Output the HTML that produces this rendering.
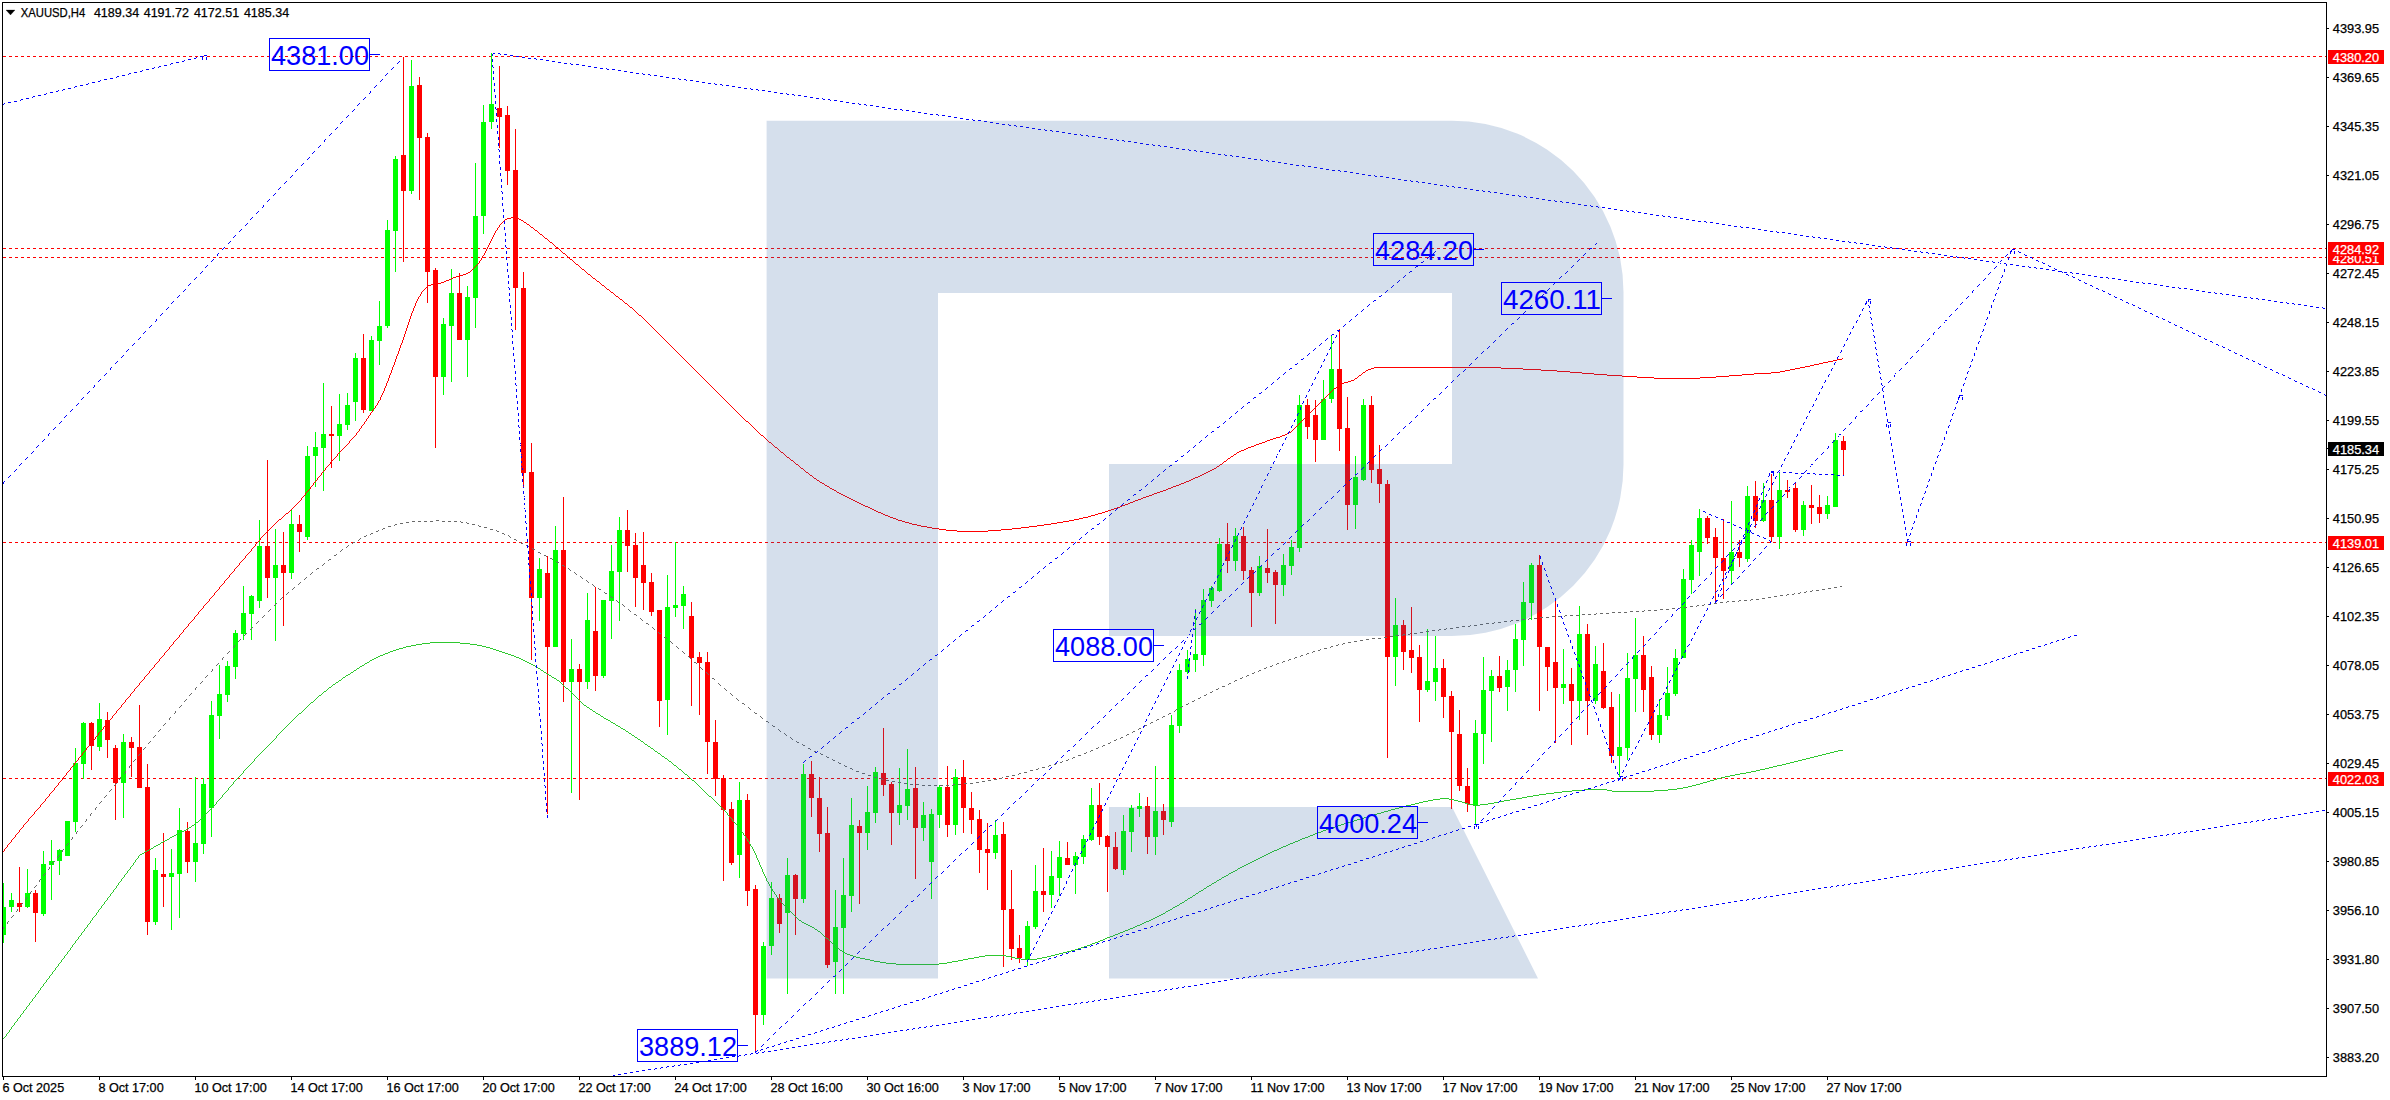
<!DOCTYPE html>
<html lang="en"><head><meta charset="utf-8"><title>XAUUSD,H4</title>
<style>
html,body{margin:0;padding:0;background:#fff;}
body{width:2390px;height:1100px;overflow:hidden;}
svg{display:block;font-family:'Liberation Sans', 'DejaVu Sans', sans-serif;}
</style></head><body>
<svg width="2390" height="1100" viewBox="0 0 2390 1100">
<rect width="2390" height="1100" fill="#ffffff"/>
<defs><clipPath id="cp"><rect x="3" y="3" width="2323" height="1073"/></clipPath></defs>
<g clip-path="url(#cp)" shape-rendering="crispEdges">
<line x1="3" y1="56.5" x2="2326" y2="56.5" stroke="#ff0000" stroke-dasharray="3 3"/>
<line x1="3" y1="248.5" x2="2326" y2="248.5" stroke="#ff0000" stroke-dasharray="3 3"/>
<line x1="3" y1="257.5" x2="2326" y2="257.5" stroke="#ff0000" stroke-dasharray="3 3"/>
<line x1="3" y1="542.5" x2="2326" y2="542.5" stroke="#ff0000" stroke-dasharray="3 3"/>
<line x1="3" y1="778.5" x2="2326" y2="778.5" stroke="#ff0000" stroke-dasharray="3 3"/>
<path fill="#00ff00" d="M3 883h1v60h-1zM1 907h5v28h-5zM11 893h1v19h-1zM9 900h5v7h-5zM27 869h1v39h-1zM25 893h5v14h-5zM43 851h1v65h-1zM41 864h5v50h-5zM51 840h1v60h-1zM49 861h5v4h-5zM59 849h1v26h-1zM57 850h5v11h-5zM67 821h1v35h-1zM65 821h5v35h-5zM75 748h1v84h-1zM73 763h5v59h-5zM83 722h1v57h-1zM81 723h5v41h-5zM99 703h1v48h-1zM97 719h5v28h-5zM123 734h1v84h-1zM121 742h5v41h-5zM155 858h1v67h-1zM153 870h5v52h-5zM171 849h1v81h-1zM169 873h5v4h-5zM179 808h1v110h-1zM177 830h5v44h-5zM195 777h1v105h-1zM193 843h5v19h-5zM203 778h1v76h-1zM201 784h5v60h-5zM211 701h1v136h-1zM209 715h5v93h-5zM219 665h1v74h-1zM217 694h5v22h-5zM227 661h1v41h-1zM225 666h5v29h-5zM235 630h1v49h-1zM233 633h5v34h-5zM243 586h1v54h-1zM241 613h5v21h-5zM251 595h1v45h-1zM249 596h5v18h-5zM259 520h1v88h-1zM257 546h5v55h-5zM275 529h1v112h-1zM273 565h5v13h-5zM291 509h1v70h-1zM289 524h5v49h-5zM307 446h1v94h-1zM305 456h5v81h-5zM315 432h1v55h-1zM313 447h5v9h-5zM323 383h1v108h-1zM321 434h5v14h-5zM339 394h1v67h-1zM337 424h5v12h-5zM347 393h1v37h-1zM345 405h5v20h-5zM355 353h1v68h-1zM353 358h5v44h-5zM371 336h1v75h-1zM369 340h5v71h-5zM379 301h1v64h-1zM377 326h5v15h-5zM387 220h1v108h-1zM385 230h5v96h-5zM395 156h1v116h-1zM393 159h5v72h-5zM411 60h1v134h-1zM409 86h5v105h-5zM443 318h1v77h-1zM441 324h5v53h-5zM451 269h1v113h-1zM449 293h5v33h-5zM467 286h1v91h-1zM465 297h5v43h-5zM475 163h1v165h-1zM473 216h5v82h-5zM483 105h1v129h-1zM481 122h5v94h-5zM491 53h1v76h-1zM489 104h5v18h-5zM539 558h1v63h-1zM537 569h5v29h-5zM555 526h1v121h-1zM553 550h5v97h-5zM571 639h1v154h-1zM569 669h5v13h-5zM587 593h1v96h-1zM585 620h5v62h-5zM603 600h1v78h-1zM601 600h5v76h-5zM611 545h1v94h-1zM609 571h5v30h-5zM619 517h1v104h-1zM617 530h5v42h-5zM667 575h1v160h-1zM665 607h5v93h-5zM675 542h1v75h-1zM673 605h5v3h-5zM683 586h1v43h-1zM681 594h5v12h-5zM739 782h1v96h-1zM737 800h5v55h-5zM763 942h1v83h-1zM761 946h5v69h-5zM771 882h1v73h-1zM769 898h5v48h-5zM787 858h1v136h-1zM785 875h5v38h-5zM803 764h1v139h-1zM801 774h5v125h-5zM835 890h1v104h-1zM833 927h5v35h-5zM843 858h1v136h-1zM841 895h5v33h-5zM851 798h1v114h-1zM849 825h5v71h-5zM867 786h1v64h-1zM865 812h5v21h-5zM875 767h1v56h-1zM873 772h5v41h-5zM899 768h1v57h-1zM897 805h5v8h-5zM907 749h1v71h-1zM905 789h5v17h-5zM923 802h1v39h-1zM921 815h5v13h-5zM931 809h1v90h-1zM929 814h5v48h-5zM939 785h1v43h-1zM937 787h5v28h-5zM955 769h1v66h-1zM953 777h5v48h-5zM995 820h1v39h-1zM993 835h5v18h-5zM1027 921h1v45h-1zM1025 926h5v34h-5zM1035 865h1v64h-1zM1033 891h5v36h-5zM1051 851h1v57h-1zM1049 876h5v19h-5zM1059 841h1v55h-1zM1057 857h5v21h-5zM1075 852h1v42h-1zM1073 856h5v9h-5zM1083 835h1v29h-1zM1081 839h5v18h-5zM1091 788h1v53h-1zM1089 805h5v35h-5zM1123 815h1v60h-1zM1121 831h5v39h-5zM1131 805h1v47h-1zM1129 808h5v24h-5zM1139 793h1v24h-1zM1137 806h5v3h-5zM1155 766h1v89h-1zM1153 811h5v26h-5zM1171 715h1v112h-1zM1169 725h5v97h-5zM1179 664h1v69h-1zM1177 670h5v56h-5zM1187 650h1v24h-1zM1185 659h5v13h-5zM1195 609h1v63h-1zM1193 654h5v6h-5zM1203 589h1v77h-1zM1201 600h5v55h-5zM1211 586h1v21h-1zM1209 588h5v13h-5zM1219 538h1v54h-1zM1217 544h5v47h-5zM1235 528h1v43h-1zM1233 536h5v25h-5zM1259 556h1v40h-1zM1257 566h5v27h-5zM1283 554h1v42h-1zM1281 565h5v20h-5zM1291 540h1v35h-1zM1289 547h5v19h-5zM1299 395h1v157h-1zM1297 405h5v143h-5zM1323 380h1v60h-1zM1321 399h5v41h-5zM1331 336h1v67h-1zM1329 369h5v30h-5zM1355 456h1v73h-1zM1353 477h5v28h-5zM1363 399h1v82h-1zM1361 405h5v75h-5zM1395 598h1v88h-1zM1393 625h5v32h-5zM1427 629h1v63h-1zM1425 681h5v9h-5zM1435 636h1v65h-1zM1433 668h5v14h-5zM1475 720h1v104h-1zM1473 733h5v72h-5zM1483 657h1v107h-1zM1481 690h5v44h-5zM1491 670h1v72h-1zM1489 676h5v15h-5zM1507 660h1v51h-1zM1505 670h5v17h-5zM1515 624h1v68h-1zM1513 639h5v31h-5zM1523 582h1v84h-1zM1521 602h5v38h-5zM1531 563h1v57h-1zM1529 565h5v38h-5zM1563 649h1v55h-1zM1561 684h5v4h-5zM1579 606h1v114h-1zM1577 634h5v67h-5zM1595 646h1v58h-1zM1593 664h5v37h-5zM1619 694h1v83h-1zM1617 747h5v9h-5zM1627 653h1v107h-1zM1625 678h5v70h-5zM1635 618h1v94h-1zM1633 655h5v24h-5zM1659 699h1v44h-1zM1657 715h5v20h-5zM1667 667h1v53h-1zM1665 693h5v23h-5zM1675 649h1v47h-1zM1673 658h5v36h-5zM1683 569h1v89h-1zM1681 579h5v79h-5zM1691 540h1v54h-1zM1689 545h5v35h-5zM1699 509h1v67h-1zM1697 518h5v34h-5zM1731 501h1v83h-1zM1729 552h5v19h-5zM1747 486h1v76h-1zM1745 496h5v63h-5zM1763 483h1v39h-1zM1761 500h5v21h-5zM1779 473h1v76h-1zM1777 490h5v47h-5zM1803 501h1v35h-1zM1801 505h5v25h-5zM1827 496h1v23h-1zM1825 505h5v9h-5zM1835 433h1v74h-1zM1833 440h5v67h-5z"/>
<path fill="#ff0000" d="M19 867h1v45h-1zM17 903h5v4h-5zM35 890h1v52h-1zM33 893h5v20h-5zM91 722h1v48h-1zM89 723h5v23h-5zM107 712h1v46h-1zM105 720h5v20h-5zM115 745h1v75h-1zM113 748h5v35h-5zM131 737h1v40h-1zM129 742h5v6h-5zM139 705h1v83h-1zM137 747h5v41h-5zM147 764h1v171h-1zM145 787h5v135h-5zM163 833h1v74h-1zM161 874h5v3h-5zM187 822h1v51h-1zM185 831h5v31h-5zM267 460h1v138h-1zM265 546h5v32h-5zM283 532h1v94h-1zM281 565h5v8h-5zM299 515h1v37h-1zM297 524h5v8h-5zM331 406h1v62h-1zM329 434h5v2h-5zM363 334h1v79h-1zM361 358h5v52h-5zM403 57h1v205h-1zM401 155h5v36h-5zM419 77h1v123h-1zM417 85h5v53h-5zM427 133h1v170h-1zM425 137h5v135h-5zM435 268h1v180h-1zM433 270h5v107h-5zM459 273h1v67h-1zM457 293h5v47h-5zM499 66h1v82h-1zM497 108h5v9h-5zM507 106h1v79h-1zM505 115h5v56h-5zM515 129h1v201h-1zM513 170h5v118h-5zM523 272h1v216h-1zM521 288h5v185h-5zM531 443h1v217h-1zM529 472h5v126h-5zM547 556h1v258h-1zM545 573h5v74h-5zM563 497h1v205h-1zM561 550h5v132h-5zM579 664h1v136h-1zM577 669h5v13h-5zM595 587h1v104h-1zM593 631h5v45h-5zM627 510h1v62h-1zM625 530h5v16h-5zM635 533h1v74h-1zM633 545h5v33h-5zM643 532h1v78h-1zM641 565h5v18h-5zM651 573h1v43h-1zM649 582h5v30h-5zM659 610h1v117h-1zM657 610h5v91h-5zM691 602h1v104h-1zM689 616h5v42h-5zM699 652h1v63h-1zM697 657h5v6h-5zM707 652h1v122h-1zM705 662h5v80h-5zM715 720h1v76h-1zM713 742h5v37h-5zM723 775h1v106h-1zM721 778h5v32h-5zM731 802h1v63h-1zM729 809h5v54h-5zM747 794h1v112h-1zM745 800h5v91h-5zM755 885h1v167h-1zM753 889h5v126h-5zM779 894h1v39h-1zM777 898h5v26h-5zM795 874h1v61h-1zM793 875h5v24h-5zM811 761h1v56h-1zM809 774h5v24h-5zM819 777h1v75h-1zM817 798h5v36h-5zM827 807h1v161h-1zM825 833h5v132h-5zM859 820h1v84h-1zM857 826h5v7h-5zM883 728h1v68h-1zM881 773h5v12h-5zM891 782h1v63h-1zM889 784h5v29h-5zM915 767h1v112h-1zM913 788h5v40h-5zM947 766h1v71h-1zM945 787h5v38h-5zM963 760h1v73h-1zM961 777h5v31h-5zM971 792h1v42h-1zM969 808h5v12h-5zM979 810h1v63h-1zM977 819h5v31h-5zM987 823h1v67h-1zM985 849h5v4h-5zM1003 822h1v145h-1zM1001 834h5v76h-5zM1011 870h1v90h-1zM1009 909h5v40h-5zM1019 935h1v28h-1zM1017 948h5v10h-5zM1043 848h1v64h-1zM1041 891h5v4h-5zM1067 842h1v23h-1zM1065 858h5v7h-5zM1099 783h1v62h-1zM1097 805h5v32h-5zM1107 835h1v57h-1zM1105 836h5v11h-5zM1115 832h1v38h-1zM1113 847h5v22h-5zM1147 797h1v57h-1zM1145 806h5v31h-5zM1163 804h1v31h-1zM1161 811h5v9h-5zM1227 523h1v50h-1zM1225 544h5v17h-5zM1243 527h1v53h-1zM1241 536h5v35h-5zM1251 567h1v60h-1zM1249 570h5v23h-5zM1267 529h1v54h-1zM1265 568h5v5h-5zM1275 570h1v54h-1zM1273 572h5v13h-5zM1307 399h1v40h-1zM1305 405h5v22h-5zM1315 400h1v62h-1zM1313 415h5v25h-5zM1339 329h1v122h-1zM1337 369h5v60h-5zM1347 397h1v133h-1zM1345 428h5v77h-5zM1371 396h1v87h-1zM1369 405h5v65h-5zM1379 445h1v58h-1zM1377 469h5v15h-5zM1387 480h1v278h-1zM1385 484h5v173h-5zM1403 620h1v50h-1zM1401 625h5v27h-5zM1411 607h1v66h-1zM1409 650h5v8h-5zM1419 645h1v77h-1zM1417 657h5v33h-5zM1443 659h1v59h-1zM1441 668h5v29h-5zM1451 691h1v118h-1zM1449 696h5v36h-5zM1459 710h1v81h-1zM1457 734h5v52h-5zM1467 768h1v44h-1zM1465 786h5v18h-5zM1499 656h1v36h-1zM1497 676h5v12h-5zM1539 555h1v156h-1zM1537 565h5v82h-5zM1547 647h1v44h-1zM1545 647h5v20h-5zM1555 601h1v142h-1zM1553 662h5v26h-5zM1571 668h1v77h-1zM1569 684h5v17h-5zM1587 624h1v111h-1zM1585 634h5v67h-5zM1603 643h1v66h-1zM1601 671h5v37h-5zM1611 692h1v71h-1zM1609 707h5v49h-5zM1643 636h1v76h-1zM1641 655h5v35h-5zM1651 666h1v74h-1zM1649 677h5v58h-5zM1707 516h1v28h-1zM1705 518h5v20h-5zM1715 528h1v73h-1zM1713 537h5v21h-5zM1723 519h1v80h-1zM1721 558h5v13h-5zM1739 540h1v27h-1zM1737 552h5v6h-5zM1755 481h1v47h-1zM1753 496h5v25h-5zM1771 474h1v68h-1zM1769 500h5v37h-5zM1787 480h1v18h-1zM1785 490h5v2h-5zM1795 482h1v50h-1zM1793 488h5v42h-5zM1811 485h1v39h-1zM1809 505h5v3h-5zM1819 495h1v28h-1zM1817 507h5v7h-5zM1843 436h1v40h-1zM1841 441h5v9h-5z"/>
<path fill="#ff0000" d="M511 217h5v1h-5zM507 218h4v1h-4zM516 218h3v1h-3zM505 219h2v1h-2zM519 219h2v1h-2zM521 220h2v1h-2zM524 222h2v1h-2zM527 224h2v1h-2zM531 227h2v1h-2zM535 230h2v1h-2zM540 234h2v1h-2zM545 238h2v1h-2zM550 242h2v1h-2zM556 247h2v1h-2zM563 253h2v1h-2zM570 259h2v1h-2zM576 264h2v1h-2zM582 269h2v1h-2zM468 272h2v1h-2zM466 273h2v1h-2zM463 274h3v1h-3zM588 274h2v1h-2zM459 275h4v1h-4zM456 276h3v1h-3zM453 277h3v1h-3zM451 278h2v1h-2zM593 278h2v1h-2zM449 279h2v1h-2zM446 280h3v1h-3zM444 281h2v1h-2zM597 281h2v1h-2zM441 282h3v1h-3zM438 283h3v1h-3zM431 284h7v1h-7zM428 285h3v1h-3zM602 285h2v1h-2zM607 289h2v1h-2zM611 292h2v1h-2zM616 296h2v1h-2zM620 299h2v1h-2zM625 303h2v1h-2zM630 307h2v1h-2zM639 315h2v1h-2zM1837 359h5v1h-5zM1833 360h4v1h-4zM1828 361h5v1h-5zM1823 362h5v1h-5zM1819 363h4v1h-4zM1814 364h5v1h-5zM1810 365h4v1h-4zM1805 366h5v1h-5zM1374 367h127v1h-127zM1800 367h5v1h-5zM1371 368h3v1h-3zM1501 368h22v1h-22zM1795 368h5v1h-5zM1368 369h3v1h-3zM1523 369h18v1h-18zM1790 369h5v1h-5zM1366 370h2v1h-2zM1541 370h16v1h-16zM1785 370h5v1h-5zM1557 371h13v1h-13zM1780 371h5v1h-5zM1363 372h2v1h-2zM1570 372h12v1h-12zM1771 372h9v1h-9zM1582 373h12v1h-12zM1754 373h17v1h-17zM1594 374h13v1h-13zM1742 374h12v1h-12zM1359 375h2v1h-2zM1607 375h15v1h-15zM1729 375h13v1h-13zM1622 376h15v1h-15zM1716 376h13v1h-13zM1637 377h17v1h-17zM1700 377h16v1h-16zM1355 378h2v1h-2zM1654 378h46v1h-46zM1351 380h3v1h-3zM1348 381h3v1h-3zM1344 382h4v1h-4zM1342 383h2v1h-2zM1340 384h2v1h-2zM1337 386h2v1h-2zM1334 388h2v1h-2zM746 421h2v1h-2zM1289 432h2v1h-2zM1287 433h2v1h-2zM1285 434h2v1h-2zM761 435h2v1h-2zM1282 435h3v1h-3zM1280 436h2v1h-2zM1276 437h4v1h-4zM1273 438h3v1h-3zM1270 439h3v1h-3zM1267 440h3v1h-3zM1265 441h2v1h-2zM769 442h2v1h-2zM1262 442h3v1h-3zM1259 443h3v1h-3zM1256 444h3v1h-3zM1254 445h2v1h-2zM1251 446h3v1h-3zM775 447h2v1h-2zM1248 447h3v1h-3zM1246 448h2v1h-2zM1244 449h2v1h-2zM1241 450h3v1h-3zM1239 451h2v1h-2zM781 452h2v1h-2zM1237 452h2v1h-2zM1234 454h2v1h-2zM1231 456h2v1h-2zM787 457h2v1h-2zM1228 458h2v1h-2zM791 460h2v1h-2zM1224 461h2v1h-2zM796 464h2v1h-2zM1220 464h2v1h-2zM1217 466h2v1h-2zM801 468h2v1h-2zM1214 468h2v1h-2zM1212 469h2v1h-2zM1210 470h2v1h-2zM1208 471h2v1h-2zM806 472h2v1h-2zM1206 472h2v1h-2zM1204 473h2v1h-2zM1202 474h2v1h-2zM810 475h2v1h-2zM1200 475h2v1h-2zM1198 476h2v1h-2zM1195 477h3v1h-3zM814 478h2v1h-2zM1193 478h2v1h-2zM1191 479h2v1h-2zM817 480h2v1h-2zM1189 480h2v1h-2zM1186 481h3v1h-3zM820 482h2v1h-2zM1184 482h2v1h-2zM822 483h2v1h-2zM1181 483h3v1h-3zM1179 484h2v1h-2zM825 485h2v1h-2zM1176 485h3v1h-3zM827 486h2v1h-2zM1173 486h3v1h-3zM1171 487h2v1h-2zM830 488h2v1h-2zM1168 488h3v1h-3zM832 489h2v1h-2zM1166 489h2v1h-2zM834 490h2v1h-2zM1163 490h3v1h-3zM1160 491h3v1h-3zM837 492h2v1h-2zM1157 492h3v1h-3zM839 493h2v1h-2zM1154 493h3v1h-3zM841 494h2v1h-2zM1152 494h2v1h-2zM843 495h2v1h-2zM1149 495h3v1h-3zM845 496h2v1h-2zM1146 496h3v1h-3zM847 497h2v1h-2zM1143 497h3v1h-3zM849 498h2v1h-2zM1141 498h2v1h-2zM851 499h2v1h-2zM1138 499h3v1h-3zM853 500h2v1h-2zM1135 500h3v1h-3zM855 501h2v1h-2zM1133 501h2v1h-2zM857 502h2v1h-2zM1130 502h3v1h-3zM859 503h2v1h-2zM1128 503h2v1h-2zM861 504h2v1h-2zM1125 504h3v1h-3zM863 505h2v1h-2zM1122 505h3v1h-3zM865 506h3v1h-3zM1120 506h2v1h-2zM868 507h2v1h-2zM1117 507h3v1h-3zM870 508h2v1h-2zM1114 508h3v1h-3zM872 509h2v1h-2zM1111 509h3v1h-3zM874 510h2v1h-2zM1108 510h3v1h-3zM876 511h2v1h-2zM1105 511h3v1h-3zM878 512h3v1h-3zM1102 512h3v1h-3zM286 513h2v1h-2zM881 513h2v1h-2zM1098 513h4v1h-4zM883 514h2v1h-2zM1095 514h3v1h-3zM885 515h3v1h-3zM1091 515h4v1h-4zM888 516h2v1h-2zM1088 516h3v1h-3zM890 517h3v1h-3zM1083 517h5v1h-5zM893 518h3v1h-3zM1079 518h4v1h-4zM279 519h2v1h-2zM896 519h2v1h-2zM1074 519h5v1h-5zM898 520h4v1h-4zM1069 520h5v1h-5zM902 521h3v1h-3zM1063 521h6v1h-6zM905 522h4v1h-4zM1057 522h6v1h-6zM909 523h3v1h-3zM1051 523h6v1h-6zM912 524h5v1h-5zM1044 524h7v1h-7zM917 525h4v1h-4zM1037 525h7v1h-7zM921 526h6v1h-6zM1029 526h8v1h-8zM927 527h5v1h-5zM1021 527h8v1h-8zM932 528h7v1h-7zM1012 528h9v1h-9zM939 529h7v1h-7zM1001 529h11v1h-11zM946 530h11v1h-11zM988 530h13v1h-13zM957 531h31v1h-31zM2 852v1h1v-1zM3 851v1h1v-1zM4 849v2h1v-2zM5 848v1h1v-1zM6 847v1h1v-1zM7 845v2h1v-2zM8 844v1h1v-1zM9 843v1h1v-1zM10 842v1h1v-1zM11 840v2h1v-2zM12 839v1h1v-1zM13 838v1h1v-1zM14 837v1h1v-1zM15 835v2h1v-2zM16 834v1h1v-1zM17 833v1h1v-1zM18 832v1h1v-1zM19 830v2h1v-2zM20 829v1h1v-1zM21 828v1h1v-1zM22 827v1h1v-1zM23 825v2h1v-2zM24 824v1h1v-1zM25 823v1h1v-1zM26 822v1h1v-1zM27 821v1h1v-1zM28 819v2h1v-2zM29 818v1h1v-1zM30 817v1h1v-1zM31 816v1h1v-1zM32 815v1h1v-1zM33 814v1h1v-1zM34 812v2h1v-2zM35 811v1h1v-1zM36 810v1h1v-1zM37 809v1h1v-1zM38 808v1h1v-1zM39 807v1h1v-1zM40 805v2h1v-2zM41 804v1h1v-1zM42 803v1h1v-1zM43 802v1h1v-1zM44 801v1h1v-1zM45 799v2h1v-2zM46 798v1h1v-1zM47 797v1h1v-1zM48 796v1h1v-1zM49 794v2h1v-2zM50 793v1h1v-1zM51 792v1h1v-1zM52 791v1h1v-1zM53 790v1h1v-1zM54 788v2h1v-2zM55 787v1h1v-1zM56 786v1h1v-1zM57 785v1h1v-1zM58 783v2h1v-2zM59 782v1h1v-1zM60 781v1h1v-1zM61 780v1h1v-1zM62 778v2h1v-2zM63 777v1h1v-1zM64 776v1h1v-1zM65 775v1h1v-1zM66 773v2h1v-2zM67 772v1h1v-1zM68 771v1h1v-1zM69 770v1h1v-1zM70 768v2h1v-2zM71 767v1h1v-1zM72 766v1h1v-1zM73 765v1h1v-1zM74 763v2h1v-2zM75 762v1h1v-1zM76 761v1h1v-1zM77 760v1h1v-1zM78 758v2h1v-2zM79 757v1h1v-1zM80 756v1h1v-1zM81 755v1h1v-1zM82 753v2h1v-2zM83 752v1h1v-1zM84 751v1h1v-1zM85 750v1h1v-1zM86 748v2h1v-2zM87 747v1h1v-1zM88 746v1h1v-1zM89 745v1h1v-1zM90 743v2h1v-2zM91 742v1h1v-1zM92 741v1h1v-1zM93 740v1h1v-1zM94 739v1h1v-1zM95 737v2h1v-2zM96 736v1h1v-1zM97 735v1h1v-1zM98 733v2h1v-2zM99 732v1h1v-1zM100 731v1h1v-1zM101 730v1h1v-1zM102 729v1h1v-1zM103 727v2h1v-2zM104 726v1h1v-1zM105 725v1h1v-1zM106 724v1h1v-1zM107 723v1h1v-1zM108 721v2h1v-2zM109 720v1h1v-1zM110 719v1h1v-1zM111 718v1h1v-1zM112 716v2h1v-2zM113 715v1h1v-1zM114 714v1h1v-1zM115 713v1h1v-1zM116 711v2h1v-2zM117 710v1h1v-1zM118 709v1h1v-1zM119 708v1h1v-1zM120 707v1h1v-1zM121 705v2h1v-2zM122 704v1h1v-1zM123 703v1h1v-1zM124 702v1h1v-1zM125 700v2h1v-2zM126 699v1h1v-1zM127 698v1h1v-1zM128 697v1h1v-1zM129 696v1h1v-1zM130 694v2h1v-2zM131 693v1h1v-1zM132 692v1h1v-1zM133 691v1h1v-1zM134 689v2h1v-2zM135 688v1h1v-1zM136 687v1h1v-1zM137 686v1h1v-1zM138 685v1h1v-1zM139 683v2h1v-2zM140 682v1h1v-1zM141 681v1h1v-1zM142 680v1h1v-1zM143 679v1h1v-1zM144 677v2h1v-2zM145 676v1h1v-1zM146 675v1h1v-1zM147 674v1h1v-1zM148 673v1h1v-1zM149 671v2h1v-2zM150 670v1h1v-1zM151 669v1h1v-1zM152 668v1h1v-1zM153 667v1h1v-1zM154 665v2h1v-2zM155 664v1h1v-1zM156 663v1h1v-1zM157 662v1h1v-1zM158 661v1h1v-1zM159 659v2h1v-2zM160 658v1h1v-1zM161 657v1h1v-1zM162 656v1h1v-1zM163 655v1h1v-1zM164 653v2h1v-2zM165 652v1h1v-1zM166 651v1h1v-1zM167 650v1h1v-1zM168 649v1h1v-1zM169 647v2h1v-2zM170 646v1h1v-1zM171 645v1h1v-1zM172 644v1h1v-1zM173 642v2h1v-2zM174 641v1h1v-1zM175 640v1h1v-1zM176 639v1h1v-1zM177 638v1h1v-1zM178 637v1h1v-1zM179 635v2h1v-2zM180 634v1h1v-1zM181 633v1h1v-1zM182 632v1h1v-1zM183 630v2h1v-2zM184 629v1h1v-1zM185 628v1h1v-1zM186 627v1h1v-1zM187 626v1h1v-1zM188 624v2h1v-2zM189 623v1h1v-1zM190 622v1h1v-1zM191 621v1h1v-1zM192 620v1h1v-1zM193 619v1h1v-1zM194 617v2h1v-2zM195 616v1h1v-1zM196 615v1h1v-1zM197 614v1h1v-1zM198 612v2h1v-2zM199 611v1h1v-1zM200 610v1h1v-1zM201 609v1h1v-1zM202 608v1h1v-1zM203 606v2h1v-2zM204 605v1h1v-1zM205 604v1h1v-1zM206 603v1h1v-1zM207 602v1h1v-1zM208 601v1h1v-1zM209 599v2h1v-2zM210 598v1h1v-1zM211 597v1h1v-1zM212 596v1h1v-1zM213 595v1h1v-1zM214 593v2h1v-2zM215 592v1h1v-1zM216 591v1h1v-1zM217 590v1h1v-1zM218 589v1h1v-1zM219 587v2h1v-2zM220 586v1h1v-1zM221 585v1h1v-1zM222 584v1h1v-1zM223 583v1h1v-1zM224 581v2h1v-2zM225 580v1h1v-1zM226 579v1h1v-1zM227 578v1h1v-1zM228 577v1h1v-1zM229 575v2h1v-2zM230 574v1h1v-1zM231 573v1h1v-1zM232 572v1h1v-1zM233 571v1h1v-1zM234 569v2h1v-2zM235 568v1h1v-1zM236 567v1h1v-1zM237 566v1h1v-1zM238 565v1h1v-1zM239 563v2h1v-2zM240 562v1h1v-1zM241 561v1h1v-1zM242 560v1h1v-1zM243 559v1h1v-1zM244 558v1h1v-1zM245 556v2h1v-2zM246 555v1h1v-1zM247 554v1h1v-1zM248 553v1h1v-1zM249 552v1h1v-1zM250 551v1h1v-1zM251 549v2h1v-2zM252 548v1h1v-1zM253 547v1h1v-1zM254 546v1h1v-1zM255 544v2h1v-2zM256 543v1h1v-1zM257 542v1h1v-1zM258 541v1h1v-1zM259 540v1h1v-1zM260 538v2h1v-2zM261 537v1h1v-1zM262 536v1h1v-1zM263 535v1h1v-1zM264 534v1h1v-1zM265 533v1h1v-1zM266 532v1h1v-1zM267 531v1h1v-1zM268 530v1h1v-1zM269 529v1h1v-1zM270 528v1h1v-1zM271 527v1h1v-1zM272 526v1h1v-1zM273 525v1h1v-1zM274 524v1h1v-1zM275 523v1h1v-1zM276 522v1h1v-1zM277 521v1h1v-1zM278 520v1h1v-1zM281 518v1h1v-1zM282 517v1h1v-1zM283 516v1h1v-1zM284 515v1h1v-1zM285 514v1h1v-1zM288 512v1h1v-1zM289 511v1h1v-1zM290 510v1h1v-1zM291 509v1h1v-1zM292 508v1h1v-1zM293 507v1h1v-1zM294 506v1h1v-1zM295 505v1h1v-1zM296 504v1h1v-1zM297 503v1h1v-1zM298 502v1h1v-1zM299 501v1h1v-1zM300 500v1h1v-1zM301 498v2h1v-2zM302 497v1h1v-1zM303 496v1h1v-1zM304 495v1h1v-1zM305 493v2h1v-2zM306 492v1h1v-1zM307 491v1h1v-1zM308 490v1h1v-1zM309 489v1h1v-1zM310 487v2h1v-2zM311 486v1h1v-1zM312 485v1h1v-1zM313 483v2h1v-2zM314 482v1h1v-1zM315 481v1h1v-1zM316 480v1h1v-1zM317 478v2h1v-2zM318 477v1h1v-1zM319 476v1h1v-1zM320 475v1h1v-1zM321 473v2h1v-2zM322 472v1h1v-1zM323 471v1h1v-1zM324 470v1h1v-1zM325 468v2h1v-2zM326 467v1h1v-1zM327 466v1h1v-1zM328 465v1h1v-1zM329 464v1h1v-1zM330 462v2h1v-2zM331 461v1h1v-1zM332 460v1h1v-1zM333 459v1h1v-1zM334 458v1h1v-1zM335 457v1h1v-1zM336 456v1h1v-1zM337 454v2h1v-2zM338 453v1h1v-1zM339 452v1h1v-1zM340 451v1h1v-1zM341 450v1h1v-1zM342 449v1h1v-1zM343 448v1h1v-1zM344 447v1h1v-1zM345 446v1h1v-1zM346 445v1h1v-1zM347 444v1h1v-1zM348 443v1h1v-1zM349 441v2h1v-2zM350 440v1h1v-1zM351 439v1h1v-1zM352 438v1h1v-1zM353 437v1h1v-1zM354 436v1h1v-1zM355 435v1h1v-1zM356 433v2h1v-2zM357 432v1h1v-1zM358 431v1h1v-1zM359 429v2h1v-2zM360 428v1h1v-1zM361 426v2h1v-2zM362 425v1h1v-1zM363 424v1h1v-1zM364 422v2h1v-2zM365 421v1h1v-1zM366 419v2h1v-2zM367 418v1h1v-1zM368 416v2h1v-2zM369 415v1h1v-1zM370 413v2h1v-2zM371 412v1h1v-1zM372 410v2h1v-2zM373 409v1h1v-1zM374 408v1h1v-1zM375 406v2h1v-2zM376 405v1h1v-1zM377 403v2h1v-2zM378 401v2h1v-2zM379 400v1h1v-1zM380 397v3h1v-3zM381 395v2h1v-2zM382 393v2h1v-2zM383 391v2h1v-2zM384 388v3h1v-3zM385 386v2h1v-2zM386 383v3h1v-3zM387 381v2h1v-2zM388 378v3h1v-3zM389 375v3h1v-3zM390 373v2h1v-2zM391 370v3h1v-3zM392 367v3h1v-3zM393 365v2h1v-2zM394 362v3h1v-3zM395 359v3h1v-3zM396 356v3h1v-3zM397 354v2h1v-2zM398 351v3h1v-3zM399 348v3h1v-3zM400 345v3h1v-3zM401 343v2h1v-2zM402 340v3h1v-3zM403 337v3h1v-3zM404 334v3h1v-3zM405 331v3h1v-3zM406 328v3h1v-3zM407 325v3h1v-3zM408 322v3h1v-3zM409 319v3h1v-3zM410 316v3h1v-3zM411 313v3h1v-3zM412 311v2h1v-2zM413 308v3h1v-3zM414 306v2h1v-2zM415 303v3h1v-3zM416 301v2h1v-2zM417 299v2h1v-2zM418 297v2h1v-2zM419 296v1h1v-1zM420 294v2h1v-2zM421 292v2h1v-2zM422 291v1h1v-1zM423 290v1h1v-1zM424 289v1h1v-1zM425 288v1h1v-1zM426 287v1h1v-1zM427 286v1h1v-1zM470 271v1h1v-1zM471 270v1h1v-1zM472 269v1h1v-1zM473 268v1h1v-1zM474 267v1h1v-1zM475 266v1h1v-1zM476 265v1h1v-1zM477 264v1h1v-1zM478 263v1h1v-1zM479 261v2h1v-2zM480 260v1h1v-1zM481 258v2h1v-2zM482 256v2h1v-2zM483 255v1h1v-1zM484 253v2h1v-2zM485 251v2h1v-2zM486 249v2h1v-2zM487 247v2h1v-2zM488 245v2h1v-2zM489 243v2h1v-2zM490 241v2h1v-2zM491 239v2h1v-2zM492 237v2h1v-2zM493 235v2h1v-2zM494 233v2h1v-2zM495 231v2h1v-2zM496 230v1h1v-1zM497 228v2h1v-2zM498 227v1h1v-1zM499 225v2h1v-2zM500 224v1h1v-1zM501 223v1h1v-1zM502 222v1h1v-1zM503 221v1h1v-1zM504 220v1h1v-1zM523 221v1h1v-1zM526 223v1h1v-1zM529 225v1h1v-1zM530 226v1h1v-1zM533 228v1h1v-1zM534 229v1h1v-1zM537 231v1h1v-1zM538 232v1h1v-1zM539 233v1h1v-1zM542 235v1h1v-1zM543 236v1h1v-1zM544 237v1h1v-1zM547 239v1h1v-1zM548 240v1h1v-1zM549 241v1h1v-1zM552 243v1h1v-1zM553 244v1h1v-1zM554 245v1h1v-1zM555 246v1h1v-1zM558 248v1h1v-1zM559 249v1h1v-1zM560 250v1h1v-1zM561 251v1h1v-1zM562 252v1h1v-1zM565 254v1h1v-1zM566 255v1h1v-1zM567 256v1h1v-1zM568 257v1h1v-1zM569 258v1h1v-1zM572 260v1h1v-1zM573 261v1h1v-1zM574 262v1h1v-1zM575 263v1h1v-1zM578 265v1h1v-1zM579 266v1h1v-1zM580 267v1h1v-1zM581 268v1h1v-1zM584 270v1h1v-1zM585 271v1h1v-1zM586 272v1h1v-1zM587 273v1h1v-1zM590 275v1h1v-1zM591 276v1h1v-1zM592 277v1h1v-1zM595 279v1h1v-1zM596 280v1h1v-1zM599 282v1h1v-1zM600 283v1h1v-1zM601 284v1h1v-1zM604 286v1h1v-1zM605 287v1h1v-1zM606 288v1h1v-1zM609 290v1h1v-1zM610 291v1h1v-1zM613 293v1h1v-1zM614 294v1h1v-1zM615 295v1h1v-1zM618 297v1h1v-1zM619 298v1h1v-1zM622 300v1h1v-1zM623 301v1h1v-1zM624 302v1h1v-1zM627 304v1h1v-1zM628 305v1h1v-1zM629 306v1h1v-1zM632 308v1h1v-1zM633 309v1h1v-1zM634 310v1h1v-1zM635 311v1h1v-1zM636 312v1h1v-1zM637 313v1h1v-1zM638 314v1h1v-1zM641 316v1h1v-1zM642 317v1h1v-1zM643 318v1h1v-1zM644 319v1h1v-1zM645 320v1h1v-1zM646 321v1h1v-1zM647 322v1h1v-1zM648 323v1h1v-1zM649 324v1h1v-1zM650 325v1h1v-1zM651 326v1h1v-1zM652 327v1h1v-1zM653 328v1h1v-1zM654 329v1h1v-1zM655 330v1h1v-1zM656 331v1h1v-1zM657 332v1h1v-1zM658 333v1h1v-1zM659 334v1h1v-1zM660 335v1h1v-1zM661 336v1h1v-1zM662 337v1h1v-1zM663 338v1h1v-1zM664 339v1h1v-1zM665 340v1h1v-1zM666 341v1h1v-1zM667 342v1h1v-1zM668 343v1h1v-1zM669 344v1h1v-1zM670 345v1h1v-1zM671 346v1h1v-1zM672 347v1h1v-1zM673 348v1h1v-1zM674 349v1h1v-1zM675 350v1h1v-1zM676 351v1h1v-1zM677 352v1h1v-1zM678 353v1h1v-1zM679 354v1h1v-1zM680 355v1h1v-1zM681 356v1h1v-1zM682 357v1h1v-1zM683 358v1h1v-1zM684 359v1h1v-1zM685 360v1h1v-1zM686 361v1h1v-1zM687 362v1h1v-1zM688 363v1h1v-1zM689 364v1h1v-1zM690 365v1h1v-1zM691 366v1h1v-1zM692 367v1h1v-1zM693 368v1h1v-1zM694 369v1h1v-1zM695 370v1h1v-1zM696 371v1h1v-1zM697 372v1h1v-1zM698 373v1h1v-1zM699 374v1h1v-1zM700 375v1h1v-1zM701 376v1h1v-1zM702 377v1h1v-1zM703 378v1h1v-1zM704 379v1h1v-1zM705 380v1h1v-1zM706 381v1h1v-1zM707 382v1h1v-1zM708 383v1h1v-1zM709 384v1h1v-1zM710 385v1h1v-1zM711 386v1h1v-1zM712 387v1h1v-1zM713 388v1h1v-1zM714 389v1h1v-1zM715 390v1h1v-1zM716 391v1h1v-1zM717 392v1h1v-1zM718 393v1h1v-1zM719 394v1h1v-1zM720 395v1h1v-1zM721 396v1h1v-1zM722 397v1h1v-1zM723 398v1h1v-1zM724 399v1h1v-1zM725 400v1h1v-1zM726 401v1h1v-1zM727 402v1h1v-1zM728 403v1h1v-1zM729 404v1h1v-1zM730 405v1h1v-1zM731 406v1h1v-1zM732 407v1h1v-1zM733 408v1h1v-1zM734 409v1h1v-1zM735 410v1h1v-1zM736 411v1h1v-1zM737 412v1h1v-1zM738 413v1h1v-1zM739 414v1h1v-1zM740 415v1h1v-1zM741 416v1h1v-1zM742 417v1h1v-1zM743 418v1h1v-1zM744 419v1h1v-1zM745 420v1h1v-1zM748 422v1h1v-1zM749 423v1h1v-1zM750 424v1h1v-1zM751 425v1h1v-1zM752 426v1h1v-1zM753 427v1h1v-1zM754 428v1h1v-1zM755 429v1h1v-1zM756 430v1h1v-1zM757 431v1h1v-1zM758 432v1h1v-1zM759 433v1h1v-1zM760 434v1h1v-1zM763 436v1h1v-1zM764 437v1h1v-1zM765 438v1h1v-1zM766 439v1h1v-1zM767 440v1h1v-1zM768 441v1h1v-1zM771 443v1h1v-1zM772 444v1h1v-1zM773 445v1h1v-1zM774 446v1h1v-1zM777 448v1h1v-1zM778 449v1h1v-1zM779 450v1h1v-1zM780 451v1h1v-1zM783 453v1h1v-1zM784 454v1h1v-1zM785 455v1h1v-1zM786 456v1h1v-1zM789 458v1h1v-1zM790 459v1h1v-1zM793 461v1h1v-1zM794 462v1h1v-1zM795 463v1h1v-1zM798 465v1h1v-1zM799 466v1h1v-1zM800 467v1h1v-1zM803 469v1h1v-1zM804 470v1h1v-1zM805 471v1h1v-1zM808 473v1h1v-1zM809 474v1h1v-1zM812 476v1h1v-1zM813 477v1h1v-1zM816 479v1h1v-1zM819 481v1h1v-1zM824 484v1h1v-1zM829 487v1h1v-1zM836 491v1h1v-1zM1216 467v1h1v-1zM1219 465v1h1v-1zM1222 463v1h1v-1zM1223 462v1h1v-1zM1226 460v1h1v-1zM1227 459v1h1v-1zM1230 457v1h1v-1zM1233 455v1h1v-1zM1236 453v1h1v-1zM1291 431v1h1v-1zM1292 430v1h1v-1zM1293 429v1h1v-1zM1294 428v1h1v-1zM1295 427v1h1v-1zM1296 426v1h1v-1zM1297 425v1h1v-1zM1298 424v1h1v-1zM1299 423v1h1v-1zM1300 422v1h1v-1zM1301 421v1h1v-1zM1302 420v1h1v-1zM1303 419v1h1v-1zM1304 418v1h1v-1zM1305 417v1h1v-1zM1306 416v1h1v-1zM1307 415v1h1v-1zM1308 414v1h1v-1zM1309 413v1h1v-1zM1310 412v1h1v-1zM1311 411v1h1v-1zM1312 410v1h1v-1zM1313 409v1h1v-1zM1314 408v1h1v-1zM1315 407v1h1v-1zM1316 406v1h1v-1zM1317 405v1h1v-1zM1318 404v1h1v-1zM1319 403v1h1v-1zM1320 402v1h1v-1zM1321 401v1h1v-1zM1322 400v1h1v-1zM1323 399v1h1v-1zM1324 398v1h1v-1zM1325 397v1h1v-1zM1326 396v1h1v-1zM1327 395v1h1v-1zM1328 394v1h1v-1zM1329 393v1h1v-1zM1330 392v1h1v-1zM1331 391v1h1v-1zM1332 390v1h1v-1zM1333 389v1h1v-1zM1336 387v1h1v-1zM1339 385v1h1v-1zM1354 379v1h1v-1zM1357 377v1h1v-1zM1358 376v1h1v-1zM1361 374v1h1v-1zM1362 373v1h1v-1zM1365 371v1h1v-1zM1842 358v1h1v-1z"/>
<path fill="#2ec82e" d="M430 642h30v1h-30zM422 643h8v1h-8zM460 643h10v1h-10zM416 644h6v1h-6zM470 644h7v1h-7zM411 645h5v1h-5zM477 645h5v1h-5zM406 646h5v1h-5zM482 646h4v1h-4zM403 647h3v1h-3zM486 647h4v1h-4zM399 648h4v1h-4zM490 648h3v1h-3zM396 649h3v1h-3zM493 649h3v1h-3zM393 650h3v1h-3zM496 650h3v1h-3zM390 651h3v1h-3zM499 651h3v1h-3zM388 652h2v1h-2zM502 652h3v1h-3zM385 653h3v1h-3zM505 653h3v1h-3zM383 654h2v1h-2zM508 654h3v1h-3zM380 655h3v1h-3zM511 655h3v1h-3zM378 656h2v1h-2zM514 656h2v1h-2zM376 657h2v1h-2zM516 657h3v1h-3zM374 658h2v1h-2zM519 658h2v1h-2zM372 659h2v1h-2zM521 659h2v1h-2zM370 660h2v1h-2zM523 660h2v1h-2zM525 661h2v1h-2zM367 662h2v1h-2zM527 662h2v1h-2zM365 663h2v1h-2zM529 663h2v1h-2zM531 664h2v1h-2zM362 665h2v1h-2zM533 665h2v1h-2zM360 666h2v1h-2zM536 667h2v1h-2zM357 668h2v1h-2zM538 668h2v1h-2zM354 670h2v1h-2zM541 670h2v1h-2zM351 672h2v1h-2zM544 672h2v1h-2zM348 674h2v1h-2zM547 674h2v1h-2zM346 675h2v1h-2zM549 675h2v1h-2zM343 677h2v1h-2zM552 677h2v1h-2zM554 678h2v1h-2zM339 680h2v1h-2zM557 680h2v1h-2zM336 682h2v1h-2zM333 684h2v1h-2zM329 687h2v1h-2zM566 688h2v1h-2zM324 691h2v1h-2zM319 695h2v1h-2zM311 702h2v1h-2zM584 705h2v1h-2zM587 707h2v1h-2zM590 709h2v1h-2zM593 711h2v1h-2zM299 713h2v1h-2zM596 713h2v1h-2zM598 714h2v1h-2zM601 716h2v1h-2zM604 718h2v1h-2zM606 719h2v1h-2zM608 720h2v1h-2zM611 722h2v1h-2zM613 723h2v1h-2zM616 725h2v1h-2zM618 726h2v1h-2zM621 728h2v1h-2zM623 729h2v1h-2zM626 731h2v1h-2zM629 733h2v1h-2zM632 735h2v1h-2zM635 737h2v1h-2zM638 739h2v1h-2zM641 741h2v1h-2zM645 744h2v1h-2zM648 746h2v1h-2zM651 748h2v1h-2zM1838 750h5v1h-5zM655 751h2v1h-2zM1834 751h4v1h-4zM1830 752h4v1h-4zM658 753h2v1h-2zM1826 753h4v1h-4zM1822 754h4v1h-4zM1818 755h4v1h-4zM662 756h2v1h-2zM1814 756h4v1h-4zM1810 757h4v1h-4zM665 758h2v1h-2zM1806 758h4v1h-4zM1802 759h4v1h-4zM1798 760h4v1h-4zM669 761h2v1h-2zM1794 761h4v1h-4zM1790 762h4v1h-4zM1786 763h4v1h-4zM1782 764h4v1h-4zM674 765h2v1h-2zM1777 765h5v1h-5zM1773 766h4v1h-4zM1769 767h4v1h-4zM1765 768h4v1h-4zM679 769h2v1h-2zM1760 769h5v1h-5zM1756 770h4v1h-4zM1751 771h5v1h-5zM1746 772h5v1h-5zM1740 773h6v1h-6zM685 774h2v1h-2zM1735 774h5v1h-5zM1730 775h5v1h-5zM1725 776h5v1h-5zM1721 777h4v1h-4zM1717 778h4v1h-4zM1714 779h3v1h-3zM692 780h2v1h-2zM1710 780h4v1h-4zM1707 781h3v1h-3zM1703 782h4v1h-4zM1700 783h3v1h-3zM1696 784h4v1h-4zM1692 785h4v1h-4zM1688 786h4v1h-4zM1683 787h5v1h-5zM1677 788h6v1h-6zM1584 789h23v1h-23zM1668 789h9v1h-9zM1572 790h12v1h-12zM1607 790h5v1h-5zM1654 790h14v1h-14zM1562 791h10v1h-10zM1612 791h42v1h-42zM1554 792h8v1h-8zM1546 793h8v1h-8zM1539 794h7v1h-7zM1533 795h6v1h-6zM709 796h2v1h-2zM1527 796h6v1h-6zM1522 797h5v1h-5zM1440 798h9v1h-9zM1516 798h6v1h-6zM1433 799h7v1h-7zM1449 799h5v1h-5zM1510 799h6v1h-6zM1428 800h5v1h-5zM1454 800h4v1h-4zM1504 800h6v1h-6zM1423 801h5v1h-5zM1458 801h4v1h-4zM1499 801h5v1h-5zM1419 802h4v1h-4zM1462 802h3v1h-3zM1494 802h5v1h-5zM1415 803h4v1h-4zM1465 803h3v1h-3zM1488 803h6v1h-6zM1411 804h4v1h-4zM1468 804h5v1h-5zM1480 804h8v1h-8zM1406 805h5v1h-5zM1473 805h7v1h-7zM1403 806h3v1h-3zM1399 807h4v1h-4zM1395 808h4v1h-4zM1391 809h4v1h-4zM1388 810h3v1h-3zM1384 811h4v1h-4zM1381 812h3v1h-3zM1377 813h4v1h-4zM1374 814h3v1h-3zM1370 815h4v1h-4zM1367 816h3v1h-3zM1364 817h3v1h-3zM1361 818h3v1h-3zM1357 819h4v1h-4zM1354 820h3v1h-3zM1351 821h3v1h-3zM196 822h2v1h-2zM1347 822h4v1h-4zM1344 823h3v1h-3zM1341 824h3v1h-3zM192 825h2v1h-2zM1338 825h3v1h-3zM1335 826h3v1h-3zM189 827h2v1h-2zM1332 827h3v1h-3zM187 828h2v1h-2zM1329 828h3v1h-3zM1326 829h3v1h-3zM184 830h2v1h-2zM1323 830h3v1h-3zM182 831h2v1h-2zM1321 831h2v1h-2zM180 832h2v1h-2zM1318 832h3v1h-3zM178 833h2v1h-2zM1315 833h3v1h-3zM176 834h2v1h-2zM1313 834h2v1h-2zM174 835h2v1h-2zM1310 835h3v1h-3zM172 836h2v1h-2zM1308 836h2v1h-2zM170 837h2v1h-2zM1305 837h3v1h-3zM1302 838h3v1h-3zM167 839h2v1h-2zM1300 839h2v1h-2zM165 840h2v1h-2zM1298 840h2v1h-2zM163 841h2v1h-2zM1295 841h3v1h-3zM161 842h2v1h-2zM1293 842h2v1h-2zM1290 843h3v1h-3zM158 844h2v1h-2zM1288 844h2v1h-2zM156 845h2v1h-2zM1286 845h2v1h-2zM154 846h2v1h-2zM1283 846h3v1h-3zM1281 847h2v1h-2zM151 848h2v1h-2zM1279 848h2v1h-2zM149 849h2v1h-2zM1277 849h2v1h-2zM147 850h2v1h-2zM1274 850h3v1h-3zM145 851h2v1h-2zM1272 851h2v1h-2zM1270 852h2v1h-2zM142 853h2v1h-2zM1268 853h2v1h-2zM140 854h2v1h-2zM1266 854h2v1h-2zM1264 855h2v1h-2zM1262 856h2v1h-2zM1260 857h2v1h-2zM1258 858h2v1h-2zM1256 859h2v1h-2zM1254 860h2v1h-2zM1252 861h2v1h-2zM1250 862h2v1h-2zM1248 863h2v1h-2zM1246 864h2v1h-2zM1244 865h2v1h-2zM1242 866h2v1h-2zM1240 867h2v1h-2zM1238 868h2v1h-2zM1235 870h2v1h-2zM1233 871h2v1h-2zM1231 872h2v1h-2zM1229 873h2v1h-2zM1226 875h2v1h-2zM1224 876h2v1h-2zM1222 877h2v1h-2zM1219 879h2v1h-2zM1217 880h2v1h-2zM1214 882h2v1h-2zM1212 883h2v1h-2zM1209 885h2v1h-2zM1207 886h2v1h-2zM1204 888h2v1h-2zM1201 890h2v1h-2zM1199 891h2v1h-2zM1196 893h2v1h-2zM1193 895h2v1h-2zM1190 897h2v1h-2zM1188 898h2v1h-2zM1185 900h2v1h-2zM1182 902h2v1h-2zM1180 903h2v1h-2zM1177 905h2v1h-2zM1175 906h2v1h-2zM1173 907h2v1h-2zM1170 909h2v1h-2zM1168 910h2v1h-2zM1166 911h2v1h-2zM1163 913h2v1h-2zM1161 914h2v1h-2zM1159 915h2v1h-2zM1157 916h2v1h-2zM1155 917h2v1h-2zM1153 918h2v1h-2zM1151 919h2v1h-2zM799 920h2v1h-2zM1149 920h2v1h-2zM1146 921h3v1h-3zM802 922h2v1h-2zM1144 922h2v1h-2zM804 923h2v1h-2zM1142 923h2v1h-2zM806 924h2v1h-2zM1140 924h2v1h-2zM808 925h2v1h-2zM1137 925h3v1h-3zM810 926h2v1h-2zM1135 926h2v1h-2zM812 927h2v1h-2zM1133 927h2v1h-2zM1130 928h3v1h-3zM815 929h2v1h-2zM1128 929h2v1h-2zM1125 930h3v1h-3zM818 931h2v1h-2zM1123 931h2v1h-2zM1120 932h3v1h-3zM1118 933h2v1h-2zM1115 934h3v1h-3zM1113 935h2v1h-2zM1110 936h3v1h-3zM1107 937h3v1h-3zM826 938h2v1h-2zM1105 938h2v1h-2zM1103 939h2v1h-2zM1100 940h3v1h-3zM1098 941h2v1h-2zM1095 942h3v1h-3zM1092 943h3v1h-3zM1090 944h2v1h-2zM1087 945h3v1h-3zM1084 946h3v1h-3zM1081 947h3v1h-3zM837 948h2v1h-2zM1078 948h3v1h-3zM1075 949h3v1h-3zM840 950h2v1h-2zM1071 950h4v1h-4zM1067 951h4v1h-4zM843 952h2v1h-2zM1063 952h4v1h-4zM845 953h2v1h-2zM1059 953h4v1h-4zM847 954h3v1h-3zM1055 954h4v1h-4zM850 955h3v1h-3zM985 955h21v1h-21zM1051 955h4v1h-4zM853 956h3v1h-3zM979 956h6v1h-6zM1006 956h5v1h-5zM1047 956h4v1h-4zM856 957h4v1h-4zM974 957h5v1h-5zM1011 957h4v1h-4zM1042 957h5v1h-5zM860 958h5v1h-5zM968 958h6v1h-6zM1015 958h6v1h-6zM1037 958h5v1h-5zM865 959h5v1h-5zM963 959h5v1h-5zM1021 959h16v1h-16zM870 960h4v1h-4zM958 960h5v1h-5zM874 961h6v1h-6zM952 961h6v1h-6zM880 962h6v1h-6zM947 962h5v1h-5zM886 963h10v1h-10zM939 963h8v1h-8zM896 964h43v1h-43zM2 1039v1h1v-1zM3 1038v1h1v-1zM4 1037v1h1v-1zM5 1036v1h1v-1zM6 1034v2h1v-2zM7 1033v1h1v-1zM8 1032v1h1v-1zM9 1030v2h1v-2zM10 1029v1h1v-1zM11 1027v2h1v-2zM12 1026v1h1v-1zM13 1025v1h1v-1zM14 1023v2h1v-2zM15 1022v1h1v-1zM16 1021v1h1v-1zM17 1019v2h1v-2zM18 1018v1h1v-1zM19 1017v1h1v-1zM20 1015v2h1v-2zM21 1014v1h1v-1zM22 1013v1h1v-1zM23 1011v2h1v-2zM24 1010v1h1v-1zM25 1009v1h1v-1zM26 1007v2h1v-2zM27 1006v1h1v-1zM28 1005v1h1v-1zM29 1003v2h1v-2zM30 1002v1h1v-1zM31 1001v1h1v-1zM32 999v2h1v-2zM33 998v1h1v-1zM34 997v1h1v-1zM35 995v2h1v-2zM36 994v1h1v-1zM37 993v1h1v-1zM38 991v2h1v-2zM39 990v1h1v-1zM40 988v2h1v-2zM41 987v1h1v-1zM42 986v1h1v-1zM43 984v2h1v-2zM44 983v1h1v-1zM45 982v1h1v-1zM46 980v2h1v-2zM47 979v1h1v-1zM48 978v1h1v-1zM49 976v2h1v-2zM50 975v1h1v-1zM51 974v1h1v-1zM52 972v2h1v-2zM53 971v1h1v-1zM54 970v1h1v-1zM55 968v2h1v-2zM56 967v1h1v-1zM57 966v1h1v-1zM58 964v2h1v-2zM59 963v1h1v-1zM60 962v1h1v-1zM61 960v2h1v-2zM62 959v1h1v-1zM63 958v1h1v-1zM64 956v2h1v-2zM65 955v1h1v-1zM66 954v1h1v-1zM67 952v2h1v-2zM68 951v1h1v-1zM69 950v1h1v-1zM70 948v2h1v-2zM71 947v1h1v-1zM72 945v2h1v-2zM73 944v1h1v-1zM74 943v1h1v-1zM75 941v2h1v-2zM76 940v1h1v-1zM77 939v1h1v-1zM78 937v2h1v-2zM79 936v1h1v-1zM80 935v1h1v-1zM81 933v2h1v-2zM82 932v1h1v-1zM83 931v1h1v-1zM84 929v2h1v-2zM85 928v1h1v-1zM86 927v1h1v-1zM87 925v2h1v-2zM88 924v1h1v-1zM89 923v1h1v-1zM90 921v2h1v-2zM91 920v1h1v-1zM92 918v2h1v-2zM93 917v1h1v-1zM94 916v1h1v-1zM95 915v1h1v-1zM96 913v2h1v-2zM97 912v1h1v-1zM98 910v2h1v-2zM99 909v1h1v-1zM100 908v1h1v-1zM101 906v2h1v-2zM102 905v1h1v-1zM103 904v1h1v-1zM104 902v2h1v-2zM105 901v1h1v-1zM106 900v1h1v-1zM107 898v2h1v-2zM108 897v1h1v-1zM109 896v1h1v-1zM110 894v2h1v-2zM111 893v1h1v-1zM112 892v1h1v-1zM113 890v2h1v-2zM114 889v1h1v-1zM115 888v1h1v-1zM116 886v2h1v-2zM117 885v1h1v-1zM118 883v2h1v-2zM119 882v1h1v-1zM120 881v1h1v-1zM121 879v2h1v-2zM122 878v1h1v-1zM123 877v1h1v-1zM124 875v2h1v-2zM125 874v1h1v-1zM126 873v1h1v-1zM127 871v2h1v-2zM128 870v1h1v-1zM129 869v1h1v-1zM130 867v2h1v-2zM131 866v1h1v-1zM132 865v1h1v-1zM133 863v2h1v-2zM134 862v1h1v-1zM135 860v2h1v-2zM136 859v1h1v-1zM137 858v1h1v-1zM138 856v2h1v-2zM139 855v1h1v-1zM144 852v1h1v-1zM153 847v1h1v-1zM160 843v1h1v-1zM169 838v1h1v-1zM186 829v1h1v-1zM191 826v1h1v-1zM194 824v1h1v-1zM195 823v1h1v-1zM198 821v1h1v-1zM199 820v1h1v-1zM200 819v1h1v-1zM201 818v1h1v-1zM202 817v1h1v-1zM203 816v1h1v-1zM204 815v1h1v-1zM205 814v1h1v-1zM206 813v1h1v-1zM207 812v1h1v-1zM208 811v1h1v-1zM209 810v1h1v-1zM210 809v1h1v-1zM211 808v1h1v-1zM212 807v1h1v-1zM213 806v1h1v-1zM214 805v1h1v-1zM215 804v1h1v-1zM216 802v2h1v-2zM217 801v1h1v-1zM218 800v1h1v-1zM219 799v1h1v-1zM220 798v1h1v-1zM221 797v1h1v-1zM222 795v2h1v-2zM223 794v1h1v-1zM224 793v1h1v-1zM225 792v1h1v-1zM226 791v1h1v-1zM227 790v1h1v-1zM228 788v2h1v-2zM229 787v1h1v-1zM230 786v1h1v-1zM231 785v1h1v-1zM232 784v1h1v-1zM233 782v2h1v-2zM234 781v1h1v-1zM235 780v1h1v-1zM236 779v1h1v-1zM237 778v1h1v-1zM238 777v1h1v-1zM239 776v1h1v-1zM240 775v1h1v-1zM241 774v1h1v-1zM242 773v1h1v-1zM243 771v2h1v-2zM244 770v1h1v-1zM245 769v1h1v-1zM246 768v1h1v-1zM247 767v1h1v-1zM248 766v1h1v-1zM249 765v1h1v-1zM250 764v1h1v-1zM251 763v1h1v-1zM252 762v1h1v-1zM253 761v1h1v-1zM254 759v2h1v-2zM255 758v1h1v-1zM256 757v1h1v-1zM257 756v1h1v-1zM258 755v1h1v-1zM259 754v1h1v-1zM260 753v1h1v-1zM261 752v1h1v-1zM262 751v1h1v-1zM263 750v1h1v-1zM264 749v1h1v-1zM265 748v1h1v-1zM266 747v1h1v-1zM267 746v1h1v-1zM268 745v1h1v-1zM269 744v1h1v-1zM270 743v1h1v-1zM271 742v1h1v-1zM272 741v1h1v-1zM273 740v1h1v-1zM274 739v1h1v-1zM275 738v1h1v-1zM276 736v2h1v-2zM277 735v1h1v-1zM278 734v1h1v-1zM279 733v1h1v-1zM280 732v1h1v-1zM281 731v1h1v-1zM282 730v1h1v-1zM283 729v1h1v-1zM284 728v1h1v-1zM285 727v1h1v-1zM286 726v1h1v-1zM287 725v1h1v-1zM288 724v1h1v-1zM289 723v1h1v-1zM290 722v1h1v-1zM291 721v1h1v-1zM292 720v1h1v-1zM293 719v1h1v-1zM294 718v1h1v-1zM295 717v1h1v-1zM296 716v1h1v-1zM297 715v1h1v-1zM298 714v1h1v-1zM301 712v1h1v-1zM302 711v1h1v-1zM303 710v1h1v-1zM304 709v1h1v-1zM305 708v1h1v-1zM306 707v1h1v-1zM307 706v1h1v-1zM308 705v1h1v-1zM309 704v1h1v-1zM310 703v1h1v-1zM313 701v1h1v-1zM314 700v1h1v-1zM315 699v1h1v-1zM316 698v1h1v-1zM317 697v1h1v-1zM318 696v1h1v-1zM321 694v1h1v-1zM322 693v1h1v-1zM323 692v1h1v-1zM326 690v1h1v-1zM327 689v1h1v-1zM328 688v1h1v-1zM331 686v1h1v-1zM332 685v1h1v-1zM335 683v1h1v-1zM338 681v1h1v-1zM341 679v1h1v-1zM342 678v1h1v-1zM345 676v1h1v-1zM350 673v1h1v-1zM353 671v1h1v-1zM356 669v1h1v-1zM359 667v1h1v-1zM364 664v1h1v-1zM369 661v1h1v-1zM535 666v1h1v-1zM540 669v1h1v-1zM543 671v1h1v-1zM546 673v1h1v-1zM551 676v1h1v-1zM556 679v1h1v-1zM559 681v1h1v-1zM560 682v1h1v-1zM561 683v1h1v-1zM562 684v1h1v-1zM563 685v1h1v-1zM564 686v1h1v-1zM565 687v1h1v-1zM568 689v1h1v-1zM569 690v1h1v-1zM570 691v1h1v-1zM571 692v1h1v-1zM572 693v1h1v-1zM573 694v1h1v-1zM574 695v1h1v-1zM575 696v1h1v-1zM576 697v1h1v-1zM577 698v1h1v-1zM578 699v1h1v-1zM579 700v1h1v-1zM580 701v1h1v-1zM581 702v1h1v-1zM582 703v1h1v-1zM583 704v1h1v-1zM586 706v1h1v-1zM589 708v1h1v-1zM592 710v1h1v-1zM595 712v1h1v-1zM600 715v1h1v-1zM603 717v1h1v-1zM610 721v1h1v-1zM615 724v1h1v-1zM620 727v1h1v-1zM625 730v1h1v-1zM628 732v1h1v-1zM631 734v1h1v-1zM634 736v1h1v-1zM637 738v1h1v-1zM640 740v1h1v-1zM643 742v1h1v-1zM644 743v1h1v-1zM647 745v1h1v-1zM650 747v1h1v-1zM653 749v1h1v-1zM654 750v1h1v-1zM657 752v1h1v-1zM660 754v1h1v-1zM661 755v1h1v-1zM664 757v1h1v-1zM667 759v1h1v-1zM668 760v1h1v-1zM671 762v1h1v-1zM672 763v1h1v-1zM673 764v1h1v-1zM676 766v1h1v-1zM677 767v1h1v-1zM678 768v1h1v-1zM681 770v1h1v-1zM682 771v1h1v-1zM683 772v1h1v-1zM684 773v1h1v-1zM687 775v1h1v-1zM688 776v1h1v-1zM689 777v1h1v-1zM690 778v1h1v-1zM691 779v1h1v-1zM694 781v1h1v-1zM695 782v1h1v-1zM696 783v1h1v-1zM697 784v1h1v-1zM698 785v1h1v-1zM699 786v1h1v-1zM700 787v1h1v-1zM701 788v1h1v-1zM702 789v1h1v-1zM703 790v1h1v-1zM704 791v1h1v-1zM705 792v1h1v-1zM706 793v1h1v-1zM707 794v1h1v-1zM708 795v1h1v-1zM711 797v1h1v-1zM712 798v1h1v-1zM713 799v1h1v-1zM714 800v1h1v-1zM715 801v1h1v-1zM716 802v1h1v-1zM717 803v1h1v-1zM718 804v1h1v-1zM719 805v1h1v-1zM720 806v1h1v-1zM721 807v1h1v-1zM722 808v1h1v-1zM723 809v1h1v-1zM724 810v1h1v-1zM725 811v1h1v-1zM726 812v1h1v-1zM727 813v2h1v-2zM728 815v1h1v-1zM729 816v1h1v-1zM730 817v1h1v-1zM731 818v1h1v-1zM732 819v2h1v-2zM733 821v1h1v-1zM734 822v1h1v-1zM735 823v1h1v-1zM736 824v1h1v-1zM737 825v2h1v-2zM738 827v1h1v-1zM739 828v1h1v-1zM740 829v2h1v-2zM741 831v1h1v-1zM742 832v1h1v-1zM743 833v2h1v-2zM744 835v1h1v-1zM745 836v2h1v-2zM746 838v1h1v-1zM747 839v2h1v-2zM748 841v1h1v-1zM749 842v2h1v-2zM750 844v2h1v-2zM751 846v1h1v-1zM752 847v2h1v-2zM753 849v2h1v-2zM754 851v2h1v-2zM755 853v2h1v-2zM756 855v3h1v-3zM757 858v2h1v-2zM758 860v2h1v-2zM759 862v3h1v-3zM760 865v2h1v-2zM761 867v2h1v-2zM762 869v3h1v-3zM763 872v2h1v-2zM764 874v2h1v-2zM765 876v2h1v-2zM766 878v3h1v-3zM767 881v1h1v-1zM768 882v2h1v-2zM769 884v2h1v-2zM770 886v2h1v-2zM771 888v1h1v-1zM772 889v2h1v-2zM773 891v1h1v-1zM774 892v2h1v-2zM775 894v1h1v-1zM776 895v2h1v-2zM777 897v1h1v-1zM778 898v1h1v-1zM779 899v1h1v-1zM780 900v2h1v-2zM781 902v1h1v-1zM782 903v1h1v-1zM783 904v1h1v-1zM784 905v1h1v-1zM785 906v1h1v-1zM786 907v1h1v-1zM787 908v1h1v-1zM788 909v1h1v-1zM789 910v1h1v-1zM790 911v1h1v-1zM791 912v1h1v-1zM792 913v1h1v-1zM793 914v1h1v-1zM794 915v1h1v-1zM795 916v1h1v-1zM796 917v1h1v-1zM797 918v1h1v-1zM798 919v1h1v-1zM801 921v1h1v-1zM814 928v1h1v-1zM817 930v1h1v-1zM820 932v1h1v-1zM821 933v1h1v-1zM822 934v1h1v-1zM823 935v1h1v-1zM824 936v1h1v-1zM825 937v1h1v-1zM828 939v1h1v-1zM829 940v1h1v-1zM830 941v1h1v-1zM831 942v1h1v-1zM832 943v1h1v-1zM833 944v1h1v-1zM834 945v1h1v-1zM835 946v1h1v-1zM836 947v1h1v-1zM839 949v1h1v-1zM842 951v1h1v-1zM1165 912v1h1v-1zM1172 908v1h1v-1zM1179 904v1h1v-1zM1184 901v1h1v-1zM1187 899v1h1v-1zM1192 896v1h1v-1zM1195 894v1h1v-1zM1198 892v1h1v-1zM1203 889v1h1v-1zM1206 887v1h1v-1zM1211 884v1h1v-1zM1216 881v1h1v-1zM1221 878v1h1v-1zM1228 874v1h1v-1zM1237 869v1h1v-1z"/>
<path fill="#696969" d="M436 520h3v1h-3zM412 521h3v1h-3zM418 521h3v1h-3zM424 521h3v1h-3zM430 521h3v1h-3zM442 521h3v1h-3zM448 521h3v1h-3zM454 521h3v1h-3zM406 522h3v1h-3zM461 522h2v1h-2zM400 523h3v1h-3zM467 523h2v1h-2zM395 524h2v1h-2zM472 524h3v1h-3zM388 526h3v1h-3zM479 526h2v1h-2zM484 527h3v1h-3zM383 528h2v1h-2zM490 529h3v1h-3zM376 531h2v1h-2zM497 531h2v1h-2zM371 533h2v1h-2zM502 533h2v1h-2zM364 536h2v1h-2zM514 539h2v1h-2zM353 542h2v1h-2zM521 543h2v1h-2zM527 546h2v1h-2zM533 549h2v1h-2zM538 552h2v1h-2zM334 555h2v1h-2zM544 555h2v1h-2zM550 558h2v1h-2zM329 559h2v1h-2zM557 562h2v1h-2zM562 565h2v1h-2zM317 568h2v1h-2zM1840 586h2v1h-2zM1834 587h3v1h-3zM1828 588h3v1h-3zM599 589h2v1h-2zM1822 589h3v1h-3zM1816 590h3v1h-3zM1810 591h2v1h-2zM1804 592h2v1h-2zM605 593h2v1h-2zM1798 593h2v1h-2zM1787 594h2v1h-2zM1792 594h2v1h-2zM1780 595h3v1h-3zM1774 596h3v1h-3zM611 597h2v1h-2zM1768 597h3v1h-3zM1762 598h3v1h-3zM1751 599h2v1h-2zM1756 599h3v1h-3zM1739 600h2v1h-2zM1744 600h3v1h-3zM1727 601h2v1h-2zM1732 601h3v1h-3zM1720 602h3v1h-3zM1714 603h3v1h-3zM1708 604h3v1h-3zM1697 605h2v1h-2zM1702 605h2v1h-2zM1690 606h3v1h-3zM1684 607h3v1h-3zM1672 608h3v1h-3zM1678 608h2v1h-2zM1660 609h3v1h-3zM1666 609h3v1h-3zM1648 610h3v1h-3zM1654 610h3v1h-3zM1630 611h3v1h-3zM1636 611h3v1h-3zM1642 611h2v1h-2zM1612 612h3v1h-3zM1618 612h3v1h-3zM1624 612h3v1h-3zM1600 613h3v1h-3zM1606 613h3v1h-3zM634 614h2v1h-2zM1582 614h3v1h-3zM1588 614h3v1h-3zM1594 614h2v1h-2zM1565 615h2v1h-2zM1570 615h3v1h-3zM1576 615h3v1h-3zM1552 616h3v1h-3zM1558 616h3v1h-3zM1540 617h3v1h-3zM1546 617h3v1h-3zM1529 618h2v1h-2zM1534 618h3v1h-3zM1522 619h3v1h-3zM1511 620h2v1h-2zM1516 620h3v1h-3zM1504 621h3v1h-3zM1498 622h3v1h-3zM646 623h2v1h-2zM1486 623h3v1h-3zM1492 623h2v1h-2zM1480 624h3v1h-3zM1474 625h3v1h-3zM1462 626h3v1h-3zM1468 626h2v1h-2zM1456 627h3v1h-3zM1450 628h3v1h-3zM1439 629h2v1h-2zM1444 629h2v1h-2zM1432 630h3v1h-3zM1426 631h3v1h-3zM1420 632h3v1h-3zM659 633h2v1h-2zM1414 633h3v1h-3zM1403 634h2v1h-2zM1408 634h2v1h-2zM1396 635h3v1h-3zM1390 636h3v1h-3zM664 637h2v1h-2zM1384 637h3v1h-3zM1372 638h3v1h-3zM1378 638h3v1h-3zM1366 639h3v1h-3zM1360 640h3v1h-3zM1354 641h3v1h-3zM1348 642h3v1h-3zM1343 643h2v1h-2zM1336 645h2v1h-2zM1331 646h2v1h-2zM1324 648h3v1h-3zM1318 650h2v1h-2zM1313 651h2v1h-2zM1307 653h2v1h-2zM1301 655h2v1h-2zM1295 657h2v1h-2zM1289 659h2v1h-2zM1283 661h2v1h-2zM694 662h2v1h-2zM1277 663h2v1h-2zM1270 666h2v1h-2zM1264 668h2v1h-2zM1259 670h2v1h-2zM1252 673h2v1h-2zM1247 675h2v1h-2zM712 678h2v1h-2zM1240 678h2v1h-2zM1235 680h2v1h-2zM1229 683h2v1h-2zM1222 686h3v1h-3zM1216 689h2v1h-2zM1210 692h2v1h-2zM1204 695h2v1h-2zM1198 698h2v1h-2zM1192 701h2v1h-2zM742 703h2v1h-2zM1186 704h2v1h-2zM1180 707h2v1h-2zM755 713h2v1h-2zM1169 713h2v1h-2zM1163 716h2v1h-2zM1157 719h2v1h-2zM766 721h2v1h-2zM1151 722h2v1h-2zM1145 725h2v1h-2zM773 726h2v1h-2zM1139 728h2v1h-2zM1133 731h2v1h-2zM1127 734h2v1h-2zM1121 737h2v1h-2zM1114 740h2v1h-2zM797 742h2v1h-2zM1108 743h2v1h-2zM803 745h2v1h-2zM1103 745h2v1h-2zM808 748h2v1h-2zM1096 748h2v1h-2zM1091 750h2v1h-2zM814 751h2v1h-2zM1084 753h2v1h-2zM821 754h2v1h-2zM1078 755h3v1h-3zM827 757h2v1h-2zM1073 757h2v1h-2zM833 760h2v1h-2zM1066 760h2v1h-2zM1060 762h2v1h-2zM839 763h2v1h-2zM1054 764h2v1h-2zM1049 765h2v1h-2zM845 766h2v1h-2zM1042 767h3v1h-3zM850 768h2v1h-2zM1036 769h2v1h-2zM1030 770h3v1h-3zM856 771h3v1h-3zM1024 772h3v1h-3zM862 773h3v1h-3zM1019 773h2v1h-2zM868 775h3v1h-3zM1012 775h3v1h-3zM1006 776h3v1h-3zM874 777h3v1h-3zM880 778h2v1h-2zM1000 778h2v1h-2zM994 779h3v1h-3zM886 780h3v1h-3zM988 780h3v1h-3zM892 781h3v1h-3zM982 781h3v1h-3zM898 782h3v1h-3zM976 782h3v1h-3zM904 783h3v1h-3zM964 783h3v1h-3zM970 783h3v1h-3zM910 784h3v1h-3zM916 784h3v1h-3zM953 784h2v1h-2zM958 784h3v1h-3zM922 785h3v1h-3zM928 785h3v1h-3zM934 785h3v1h-3zM940 785h3v1h-3zM946 785h3v1h-3zM2 929v1h1v-1zM3 927v2h1v-2zM7 922v2h1v-2zM8 921v1h1v-1zM11 917v1h1v-1zM12 916v1h1v-1zM13 915v1h1v-1zM16 911v1h1v-1zM17 909v2h1v-2zM20 905v1h1v-1zM21 904v1h1v-1zM22 903v1h1v-1zM25 899v1h1v-1zM26 897v2h1v-2zM30 892v2h1v-2zM31 891v1h1v-1zM34 887v1h1v-1zM35 886v1h1v-1zM36 885v1h1v-1zM39 880v2h1v-2zM40 879v1h1v-1zM43 875v1h1v-1zM44 874v1h1v-1zM45 873v1h1v-1zM48 869v1h1v-1zM49 867v2h1v-2zM52 863v1h1v-1zM53 862v1h1v-1zM54 861v1h1v-1zM57 857v1h1v-1zM58 856v1h1v-1zM59 855v1h1v-1zM62 850v2h1v-2zM63 849v1h1v-1zM66 845v1h1v-1zM67 844v1h1v-1zM68 843v1h1v-1zM71 839v1h1v-1zM72 837v2h1v-2zM76 832v2h1v-2zM77 831v1h1v-1zM80 827v1h1v-1zM81 826v1h1v-1zM82 825v1h1v-1zM85 821v1h1v-1zM86 819v2h1v-2zM90 814v2h1v-2zM91 813v1h1v-1zM95 808v2h1v-2zM96 807v1h1v-1zM99 803v1h1v-1zM100 802v1h1v-1zM101 801v1h1v-1zM104 797v1h1v-1zM105 796v1h1v-1zM106 795v1h1v-1zM109 791v1h1v-1zM110 790v1h1v-1zM111 789v1h1v-1zM114 785v1h1v-1zM115 784v1h1v-1zM116 783v1h1v-1zM119 779v1h1v-1zM120 777v2h1v-2zM124 773v1h1v-1zM125 771v2h1v-2zM129 766v2h1v-2zM130 765v1h1v-1zM133 761v1h1v-1zM134 760v1h1v-1zM135 759v1h1v-1zM138 755v1h1v-1zM139 754v1h1v-1zM140 753v1h1v-1zM143 749v1h1v-1zM144 748v1h1v-1zM145 747v1h1v-1zM148 743v1h1v-1zM149 742v1h1v-1zM150 741v1h1v-1zM153 737v1h1v-1zM154 736v1h1v-1zM155 735v1h1v-1zM158 731v1h1v-1zM159 730v1h1v-1zM160 729v1h1v-1zM163 725v1h1v-1zM164 724v1h1v-1zM165 723v1h1v-1zM169 718v2h1v-2zM170 717v1h1v-1zM174 713v1h1v-1zM175 711v2h1v-2zM179 707v1h1v-1zM180 706v1h1v-1zM181 705v1h1v-1zM184 701v1h1v-1zM185 700v1h1v-1zM186 699v1h1v-1zM189 695v1h1v-1zM190 694v1h1v-1zM191 693v1h1v-1zM195 688v2h1v-2zM196 687v1h1v-1zM200 683v1h1v-1zM201 682v1h1v-1zM202 681v1h1v-1zM205 677v1h1v-1zM206 676v1h1v-1zM207 675v1h1v-1zM211 671v1h1v-1zM212 669v2h1v-2zM216 665v1h1v-1zM217 664v1h1v-1zM218 663v1h1v-1zM222 658v2h1v-2zM223 657v1h1v-1zM227 653v1h1v-1zM228 652v1h1v-1zM229 651v1h1v-1zM233 647v1h1v-1zM234 645v2h1v-2zM238 641v1h1v-1zM239 640v1h1v-1zM240 639v1h1v-1zM244 635v1h1v-1zM245 634v1h1v-1zM246 633v1h1v-1zM250 629v1h1v-1zM251 628v1h1v-1zM252 627v1h1v-1zM256 623v1h1v-1zM257 622v1h1v-1zM258 621v1h1v-1zM262 617v1h1v-1zM263 616v1h1v-1zM264 615v1h1v-1zM268 611v1h1v-1zM269 610v1h1v-1zM270 609v1h1v-1zM274 605v1h1v-1zM275 604v1h1v-1zM276 603v1h1v-1zM280 599v1h1v-1zM281 598v1h1v-1zM282 597v1h1v-1zM286 594v1h1v-1zM287 593v1h1v-1zM288 592v1h1v-1zM292 589v1h1v-1zM293 588v1h1v-1zM294 587v1h1v-1zM298 584v1h1v-1zM299 583v1h1v-1zM300 582v1h1v-1zM304 579v1h1v-1zM305 578v1h1v-1zM306 577v1h1v-1zM310 574v1h1v-1zM311 573v1h1v-1zM312 572v1h1v-1zM316 569v1h1v-1zM322 565v1h1v-1zM323 564v1h1v-1zM324 563v1h1v-1zM328 560v1h1v-1zM336 554v1h1v-1zM340 551v1h1v-1zM341 550v1h1v-1zM342 549v1h1v-1zM346 547v1h1v-1zM347 546v1h1v-1zM348 545v1h1v-1zM352 543v1h1v-1zM358 540v1h1v-1zM359 539v1h1v-1zM360 538v1h1v-1zM366 535v1h1v-1zM370 534v1h1v-1zM378 530v1h1v-1zM382 529v1h1v-1zM394 525v1h1v-1zM460 521v1h1v-1zM466 522v1h1v-1zM478 525v1h1v-1zM496 530v1h1v-1zM504 534v1h1v-1zM508 535v1h1v-1zM509 536v1h1v-1zM510 537v1h1v-1zM516 540v1h1v-1zM520 542v1h1v-1zM526 545v1h1v-1zM532 548v1h1v-1zM540 553v1h1v-1zM546 556v1h1v-1zM552 559v1h1v-1zM556 561v1h1v-1zM564 566v1h1v-1zM568 568v1h1v-1zM569 569v1h1v-1zM570 570v1h1v-1zM574 572v1h1v-1zM575 573v1h1v-1zM576 574v1h1v-1zM580 576v1h1v-1zM581 577v1h1v-1zM582 578v1h1v-1zM586 580v1h1v-1zM587 581v1h1v-1zM588 582v1h1v-1zM592 584v1h1v-1zM593 585v1h1v-1zM594 586v1h1v-1zM598 588v1h1v-1zM604 592v1h1v-1zM610 596v1h1v-1zM616 600v1h1v-1zM617 601v1h1v-1zM618 602v1h1v-1zM622 604v1h1v-1zM623 605v1h1v-1zM624 606v1h1v-1zM628 609v1h1v-1zM629 610v1h1v-1zM630 611v1h1v-1zM636 615v1h1v-1zM640 618v1h1v-1zM641 619v1h1v-1zM642 620v1h1v-1zM648 624v1h1v-1zM652 627v1h1v-1zM653 628v1h1v-1zM654 629v1h1v-1zM658 632v1h1v-1zM666 638v1h1v-1zM670 641v1h1v-1zM671 642v1h1v-1zM672 643v1h1v-1zM676 646v1h1v-1zM677 647v1h1v-1zM678 648v1h1v-1zM682 651v1h1v-1zM683 652v1h1v-1zM684 653v1h1v-1zM688 656v1h1v-1zM689 657v1h1v-1zM690 658v1h1v-1zM696 663v1h1v-1zM700 667v1h1v-1zM701 668v1h1v-1zM702 669v1h1v-1zM706 672v1h1v-1zM707 673v1h1v-1zM708 674v1h1v-1zM714 679v1h1v-1zM718 683v1h1v-1zM719 684v1h1v-1zM720 685v1h1v-1zM724 688v1h1v-1zM725 689v1h1v-1zM726 690v1h1v-1zM730 693v1h1v-1zM731 694v1h1v-1zM732 695v1h1v-1zM736 698v1h1v-1zM737 699v1h1v-1zM738 700v1h1v-1zM744 704v1h1v-1zM748 707v1h1v-1zM749 708v1h1v-1zM750 709v1h1v-1zM754 712v1h1v-1zM760 716v1h1v-1zM761 717v1h1v-1zM762 718v1h1v-1zM768 722v1h1v-1zM772 725v1h1v-1zM778 729v1h1v-1zM779 730v1h1v-1zM780 731v1h1v-1zM784 733v1h1v-1zM785 734v1h1v-1zM786 735v1h1v-1zM790 737v1h1v-1zM791 738v1h1v-1zM792 739v1h1v-1zM796 741v1h1v-1zM802 744v1h1v-1zM810 749v1h1v-1zM816 752v1h1v-1zM820 753v1h1v-1zM826 756v1h1v-1zM832 759v1h1v-1zM838 762v1h1v-1zM844 765v1h1v-1zM852 769v1h1v-1zM882 779v1h1v-1zM952 785v1h1v-1zM1002 777v1h1v-1zM1018 774v1h1v-1zM1038 768v1h1v-1zM1048 766v1h1v-1zM1056 763v1h1v-1zM1062 761v1h1v-1zM1068 759v1h1v-1zM1072 758v1h1v-1zM1086 752v1h1v-1zM1090 751v1h1v-1zM1098 747v1h1v-1zM1102 746v1h1v-1zM1110 742v1h1v-1zM1116 739v1h1v-1zM1120 738v1h1v-1zM1126 735v1h1v-1zM1132 732v1h1v-1zM1138 729v1h1v-1zM1144 726v1h1v-1zM1150 723v1h1v-1zM1156 720v1h1v-1zM1162 717v1h1v-1zM1168 714v1h1v-1zM1174 711v1h1v-1zM1175 710v1h1v-1zM1176 709v1h1v-1zM1182 706v1h1v-1zM1188 703v1h1v-1zM1194 700v1h1v-1zM1200 697v1h1v-1zM1206 694v1h1v-1zM1212 691v1h1v-1zM1218 688v1h1v-1zM1228 684v1h1v-1zM1234 681v1h1v-1zM1242 677v1h1v-1zM1246 676v1h1v-1zM1254 672v1h1v-1zM1258 671v1h1v-1zM1266 667v1h1v-1zM1272 665v1h1v-1zM1276 664v1h1v-1zM1282 662v1h1v-1zM1288 660v1h1v-1zM1294 658v1h1v-1zM1300 656v1h1v-1zM1306 654v1h1v-1zM1312 652v1h1v-1zM1320 649v1h1v-1zM1330 647v1h1v-1zM1338 644v1h1v-1zM1342 644v1h1v-1zM1402 635v1h1v-1zM1410 633v1h1v-1zM1438 630v1h1v-1zM1446 628v1h1v-1zM1470 625v1h1v-1zM1494 622v1h1v-1zM1510 621v1h1v-1zM1528 619v1h1v-1zM1564 616v1h1v-1zM1596 613v1h1v-1zM1644 610v1h1v-1zM1680 607v1h1v-1zM1696 606v1h1v-1zM1704 604v1h1v-1zM1726 602v1h1v-1zM1738 601v1h1v-1zM1750 600v1h1v-1zM1786 595v1h1v-1zM1794 593v1h1v-1zM1800 592v1h1v-1zM1806 591v1h1v-1zM1812 590v1h1v-1z"/>
<path fill="#0000ff" d="M200 56h3v1h-3zM196 57h1v1h-1zM194 58h2v1h-2zM188 59h3v1h-3zM184 60h1v1h-1zM182 61h2v1h-2zM176 62h3v1h-3zM171 63h2v1h-2zM170 64h1v1h-1zM164 65h3v1h-3zM159 66h2v1h-2zM154 67h1v1h-1zM158 67h1v1h-1zM152 68h2v1h-2zM146 69h3v1h-3zM142 70h1v1h-1zM140 71h2v1h-2zM134 72h3v1h-3zM129 73h2v1h-2zM128 74h1v1h-1zM122 75h3v1h-3zM117 76h2v1h-2zM116 77h1v1h-1zM110 78h3v1h-3zM104 79h3v1h-3zM100 80h1v1h-1zM98 81h2v1h-2zM92 82h3v1h-3zM88 83h1v1h-1zM86 84h2v1h-2zM80 85h3v1h-3zM75 86h2v1h-2zM74 87h1v1h-1zM68 88h3v1h-3zM63 89h2v1h-2zM58 90h1v1h-1zM62 90h1v1h-1zM56 91h2v1h-2zM50 92h3v1h-3zM46 93h1v1h-1zM44 94h2v1h-2zM38 95h3v1h-3zM33 96h2v1h-2zM32 97h1v1h-1zM26 98h3v1h-3zM21 99h2v1h-2zM20 100h1v1h-1zM14 101h3v1h-3zM8 102h3v1h-3zM4 103h1v1h-1zM3 104h1v1h-1zM3 104h1v1h-1zM3 482v2h1v-2zM4 481v1h1v-1zM8 477v1h1v-1zM9 476v1h1v-1zM10 475v1h1v-1zM14 471v1h1v-1zM15 470v1h1v-1zM16 469v1h1v-1zM19 465v1h1v-1zM20 464v1h1v-1zM21 463v1h1v-1zM25 459v1h1v-1zM26 458v1h1v-1zM27 457v1h1v-1zM31 453v1h1v-1zM32 452v1h1v-1zM33 451v1h1v-1zM36 447v1h1v-1zM37 446v1h1v-1zM38 445v1h1v-1zM42 441v1h1v-1zM43 440v1h1v-1zM44 439v1h1v-1zM48 434v2h1v-2zM49 433v1h1v-1zM53 429v1h1v-1zM54 428v1h1v-1zM55 427v1h1v-1zM59 423v1h1v-1zM60 422v1h1v-1zM61 421v1h1v-1zM64 417v1h1v-1zM65 416v1h1v-1zM66 415v1h1v-1zM70 411v1h1v-1zM71 410v1h1v-1zM72 409v1h1v-1zM76 405v1h1v-1zM77 404v1h1v-1zM78 403v1h1v-1zM81 399v1h1v-1zM82 398v1h1v-1zM83 397v1h1v-1zM87 393v1h1v-1zM88 392v1h1v-1zM89 391v1h1v-1zM93 387v1h1v-1zM94 385v2h1v-2zM98 381v1h1v-1zM99 380v1h1v-1zM100 379v1h1v-1zM104 375v1h1v-1zM105 374v1h1v-1zM106 373v1h1v-1zM110 368v2h1v-2zM111 367v1h1v-1zM115 363v1h1v-1zM116 362v1h1v-1zM117 361v1h1v-1zM121 357v1h1v-1zM122 356v1h1v-1zM123 355v1h1v-1zM126 351v1h1v-1zM127 350v1h1v-1zM128 349v1h1v-1zM132 345v1h1v-1zM133 344v1h1v-1zM134 343v1h1v-1zM138 339v1h1v-1zM139 338v1h1v-1zM140 337v1h1v-1zM143 333v1h1v-1zM144 332v1h1v-1zM145 331v1h1v-1zM149 327v1h1v-1zM150 326v1h1v-1zM151 325v1h1v-1zM155 321v1h1v-1zM156 319v2h1v-2zM160 315v1h1v-1zM161 314v1h1v-1zM162 313v1h1v-1zM166 309v1h1v-1zM167 308v1h1v-1zM168 307v1h1v-1zM171 303v1h1v-1zM172 302v1h1v-1zM173 301v1h1v-1zM177 297v1h1v-1zM178 296v1h1v-1zM179 295v1h1v-1zM183 291v1h1v-1zM184 290v1h1v-1zM185 289v1h1v-1zM188 285v1h1v-1zM189 284v1h1v-1zM190 283v1h1v-1zM194 279v1h1v-1zM195 278v1h1v-1zM196 277v1h1v-1zM200 273v1h1v-1zM201 272v1h1v-1zM202 271v1h1v-1zM205 267v1h1v-1zM206 266v1h1v-1zM207 265v1h1v-1zM211 261v1h1v-1zM212 260v1h1v-1zM213 259v1h1v-1zM217 254v2h1v-2zM218 253v1h1v-1zM222 249v1h1v-1zM223 248v1h1v-1zM224 247v1h1v-1zM228 243v1h1v-1zM229 242v1h1v-1zM230 241v1h1v-1zM233 237v1h1v-1zM234 236v1h1v-1zM235 235v1h1v-1zM239 231v1h1v-1zM240 230v1h1v-1zM241 229v1h1v-1zM245 225v1h1v-1zM246 224v1h1v-1zM247 223v1h1v-1zM250 219v1h1v-1zM251 218v1h1v-1zM252 217v1h1v-1zM256 213v1h1v-1zM257 212v1h1v-1zM258 211v1h1v-1zM262 207v1h1v-1zM263 205v2h1v-2zM267 201v1h1v-1zM268 200v1h1v-1zM269 199v1h1v-1zM273 195v1h1v-1zM274 194v1h1v-1zM275 193v1h1v-1zM278 189v1h1v-1zM279 188v1h1v-1zM280 187v1h1v-1zM284 183v1h1v-1zM285 182v1h1v-1zM286 181v1h1v-1zM290 177v1h1v-1zM291 176v1h1v-1zM292 175v1h1v-1zM295 171v1h1v-1zM296 170v1h1v-1zM297 169v1h1v-1zM301 165v1h1v-1zM302 164v1h1v-1zM303 163v1h1v-1zM307 159v1h1v-1zM308 158v1h1v-1zM309 157v1h1v-1zM312 153v1h1v-1zM313 152v1h1v-1zM314 151v1h1v-1zM318 147v1h1v-1zM319 146v1h1v-1zM320 145v1h1v-1zM324 140v2h1v-2zM325 139v1h1v-1zM329 135v1h1v-1zM330 134v1h1v-1zM331 133v1h1v-1zM335 129v1h1v-1zM336 128v1h1v-1zM337 127v1h1v-1zM340 123v1h1v-1zM341 122v1h1v-1zM342 121v1h1v-1zM346 117v1h1v-1zM347 116v1h1v-1zM348 115v1h1v-1zM352 111v1h1v-1zM353 110v1h1v-1zM354 109v1h1v-1zM357 105v1h1v-1zM358 104v1h1v-1zM359 103v1h1v-1zM363 99v1h1v-1zM364 98v1h1v-1zM365 97v1h1v-1zM369 93v1h1v-1zM370 91v2h1v-2zM374 87v1h1v-1zM375 86v1h1v-1zM376 85v1h1v-1zM380 81v1h1v-1zM381 80v1h1v-1zM382 79v1h1v-1zM385 75v1h1v-1zM386 74v1h1v-1zM387 73v1h1v-1zM391 69v1h1v-1zM392 68v1h1v-1zM393 67v1h1v-1zM397 63v1h1v-1zM398 62v1h1v-1zM399 61v1h1v-1zM492 53v3h1v-3zM492 59v3h1v-3zM492 65v2h1v-2zM493 67v1h1v-1zM493 71v3h1v-3zM493 77v3h1v-3zM494 83v3h1v-3zM494 89v3h1v-3zM495 95v3h1v-3zM495 101v3h1v-3zM495 107v2h1v-2zM496 109v1h1v-1zM496 113v3h1v-3zM496 119v3h1v-3zM497 125v3h1v-3zM497 131v3h1v-3zM498 137v3h1v-3zM498 143v3h1v-3zM498 149v1h1v-1zM499 150v2h1v-2zM499 155v3h1v-3zM499 161v3h1v-3zM500 167v3h1v-3zM500 173v3h1v-3zM501 179v3h1v-3zM501 185v3h1v-3zM501 191v1h1v-1zM502 192v2h1v-2zM502 197v3h1v-3zM502 203v3h1v-3zM503 209v3h1v-3zM503 215v3h1v-3zM504 221v3h1v-3zM504 227v3h1v-3zM505 233v3h1v-3zM505 239v3h1v-3zM505 245v2h1v-2zM506 247v1h1v-1zM506 251v3h1v-3zM506 257v3h1v-3zM507 263v3h1v-3zM507 269v3h1v-3zM508 275v3h1v-3zM508 281v3h1v-3zM508 287v1h1v-1zM509 288v2h1v-2zM509 293v3h1v-3zM509 299v3h1v-3zM510 305v3h1v-3zM510 311v3h1v-3zM511 317v3h1v-3zM511 323v3h1v-3zM511 329v1h1v-1zM512 330v2h1v-2zM512 335v3h1v-3zM512 341v3h1v-3zM513 347v3h1v-3zM513 353v3h1v-3zM514 359v3h1v-3zM514 365v3h1v-3zM515 371v3h1v-3zM515 377v3h1v-3zM515 383v2h1v-2zM516 385v1h1v-1zM516 389v3h1v-3zM516 395v3h1v-3zM517 401v3h1v-3zM517 407v3h1v-3zM518 413v3h1v-3zM518 419v3h1v-3zM518 425v2h1v-2zM519 427v1h1v-1zM519 431v3h1v-3zM519 437v3h1v-3zM520 443v1h1v-1zM520 443v1h1v-1zM520 445v1h1v-1zM520 449v3h1v-3zM521 454v1h1v-1zM521 456v2h1v-2zM521 461v2h1v-2zM521 462v1h1v-1zM521 466v1h1v-1zM522 468v2h1v-2zM522 473v3h1v-3zM522 479v3h1v-3zM523 485v1h1v-1zM523 485v1h1v-1zM523 487v1h1v-1zM523 491v3h1v-3zM524 496v1h1v-1zM524 498v2h1v-2zM524 503v2h1v-2zM524 504v1h1v-1zM524 508v1h1v-1zM525 510v2h1v-2zM525 515v3h1v-3zM525 521v2h1v-2zM526 523v1h1v-1zM526 527v3h1v-3zM526 533v3h1v-3zM527 539v3h1v-3zM527 545v3h1v-3zM528 551v3h1v-3zM528 557v3h1v-3zM528 563v2h1v-2zM529 565v1h1v-1zM529 569v3h1v-3zM529 575v3h1v-3zM530 581v3h1v-3zM530 587v3h1v-3zM531 593v3h1v-3zM531 599v3h1v-3zM531 605v1h1v-1zM532 606v2h1v-2zM532 611v3h1v-3zM532 617v3h1v-3zM533 623v3h1v-3zM533 629v3h1v-3zM534 635v3h1v-3zM534 641v3h1v-3zM534 647v1h1v-1zM535 648v2h1v-2zM535 653v3h1v-3zM535 659v3h1v-3zM536 665v3h1v-3zM536 671v3h1v-3zM537 677v3h1v-3zM537 683v3h1v-3zM538 689v3h1v-3zM538 695v3h1v-3zM538 701v2h1v-2zM539 703v1h1v-1zM539 707v3h1v-3zM539 713v3h1v-3zM540 719v3h1v-3zM540 725v3h1v-3zM541 731v3h1v-3zM541 737v3h1v-3zM541 743v1h1v-1zM542 744v2h1v-2zM542 749v3h1v-3zM542 755v3h1v-3zM543 761v3h1v-3zM543 767v3h1v-3zM544 773v3h1v-3zM544 779v3h1v-3zM544 785v1h1v-1zM545 786v2h1v-2zM545 791v3h1v-3zM545 797v3h1v-3zM546 803v3h1v-3zM546 809v3h1v-3zM547 815v3h1v-3zM492 53h3v1h-3zM498 53h2v1h-2zM500 54h1v1h-1zM504 54h3v1h-3zM510 55h3v1h-3zM516 56h3v1h-3zM522 57h3v1h-3zM528 58h3v1h-3zM534 58h2v1h-2zM536 59h1v1h-1zM540 59h3v1h-3zM546 60h3v1h-3zM552 61h3v1h-3zM558 62h3v1h-3zM564 63h3v1h-3zM570 63h1v1h-1zM571 64h2v1h-2zM576 64h3v1h-3zM582 65h3v1h-3zM588 66h3v1h-3zM594 67h3v1h-3zM600 68h3v1h-3zM606 68h1v1h-1zM607 69h2v1h-2zM612 69h3v1h-3zM618 70h3v1h-3zM624 71h3v1h-3zM630 72h3v1h-3zM636 73h3v1h-3zM642 73h1v1h-1zM643 74h2v1h-2zM648 74h2v1h-2zM650 75h1v1h-1zM654 75h3v1h-3zM660 76h3v1h-3zM666 77h3v1h-3zM672 78h3v1h-3zM678 78h1v1h-1zM679 79h2v1h-2zM684 79h2v1h-2zM686 80h1v1h-1zM690 80h3v1h-3zM696 81h3v1h-3zM702 82h3v1h-3zM708 83h3v1h-3zM714 83h1v1h-1zM715 84h2v1h-2zM720 84h2v1h-2zM722 85h1v1h-1zM726 85h3v1h-3zM732 86h3v1h-3zM738 87h3v1h-3zM744 88h3v1h-3zM750 88h1v1h-1zM751 89h2v1h-2zM756 89h2v1h-2zM758 90h1v1h-1zM762 90h3v1h-3zM768 91h3v1h-3zM774 92h3v1h-3zM780 93h3v1h-3zM786 93h1v1h-1zM787 94h2v1h-2zM792 94h2v1h-2zM794 95h1v1h-1zM798 95h3v1h-3zM804 96h3v1h-3zM810 97h3v1h-3zM816 98h3v1h-3zM822 98h1v1h-1zM823 99h2v1h-2zM828 99h2v1h-2zM830 100h1v1h-1zM834 100h3v1h-3zM840 101h3v1h-3zM846 102h3v1h-3zM852 103h3v1h-3zM858 103h1v1h-1zM859 104h2v1h-2zM864 104h2v1h-2zM866 105h1v1h-1zM870 105h3v1h-3zM876 106h3v1h-3zM882 107h3v1h-3zM888 108h3v1h-3zM894 109h3v1h-3zM900 109h2v1h-2zM902 110h1v1h-1zM906 110h3v1h-3zM912 111h3v1h-3zM918 112h3v1h-3zM924 113h3v1h-3zM930 114h3v1h-3zM936 114h2v1h-2zM938 115h1v1h-1zM942 115h3v1h-3zM948 116h3v1h-3zM954 117h3v1h-3zM960 118h3v1h-3zM966 119h3v1h-3zM972 119h1v1h-1zM973 120h2v1h-2zM978 120h3v1h-3zM984 121h3v1h-3zM990 122h3v1h-3zM996 123h3v1h-3zM1002 124h3v1h-3zM1008 124h1v1h-1zM1009 125h2v1h-2zM1014 125h2v1h-2zM1016 126h1v1h-1zM1020 126h3v1h-3zM1026 127h3v1h-3zM1032 128h3v1h-3zM1038 129h3v1h-3zM1044 129h1v1h-1zM1045 130h2v1h-2zM1050 130h2v1h-2zM1052 131h1v1h-1zM1056 131h3v1h-3zM1062 132h3v1h-3zM1068 133h3v1h-3zM1074 134h3v1h-3zM1080 134h1v1h-1zM1081 135h2v1h-2zM1086 135h2v1h-2zM1088 136h1v1h-1zM1092 136h3v1h-3zM1098 137h3v1h-3zM1104 138h3v1h-3zM1110 139h3v1h-3zM1116 139h1v1h-1zM1117 140h2v1h-2zM1122 140h2v1h-2zM1124 141h1v1h-1zM1128 141h3v1h-3zM1134 142h3v1h-3zM1140 143h3v1h-3zM1146 144h3v1h-3zM1152 144h1v1h-1zM1153 145h2v1h-2zM1158 145h2v1h-2zM1160 146h1v1h-1zM1164 146h3v1h-3zM1170 147h3v1h-3zM1176 148h3v1h-3zM1182 149h3v1h-3zM1188 149h1v1h-1zM1189 150h2v1h-2zM1194 150h2v1h-2zM1196 151h1v1h-1zM1200 151h3v1h-3zM1206 152h3v1h-3zM1212 153h3v1h-3zM1218 154h3v1h-3zM1224 154h1v1h-1zM1225 155h2v1h-2zM1230 155h2v1h-2zM1232 156h1v1h-1zM1236 156h3v1h-3zM1242 157h3v1h-3zM1248 158h3v1h-3zM1254 159h3v1h-3zM1260 159h1v1h-1zM1261 160h2v1h-2zM1266 160h2v1h-2zM1268 161h1v1h-1zM1272 161h3v1h-3zM1278 162h3v1h-3zM1284 163h3v1h-3zM1290 164h3v1h-3zM1296 165h3v1h-3zM1302 165h2v1h-2zM1304 166h1v1h-1zM1308 166h3v1h-3zM1314 167h3v1h-3zM1320 168h3v1h-3zM1326 169h3v1h-3zM1332 170h3v1h-3zM1338 170h2v1h-2zM1340 171h1v1h-1zM1344 171h3v1h-3zM1350 172h3v1h-3zM1356 173h3v1h-3zM1362 174h3v1h-3zM1368 175h3v1h-3zM1374 175h1v1h-1zM1375 176h2v1h-2zM1380 176h3v1h-3zM1386 177h3v1h-3zM1392 178h3v1h-3zM1398 179h3v1h-3zM1404 180h3v1h-3zM1410 180h1v1h-1zM1411 181h2v1h-2zM1416 181h2v1h-2zM1418 182h1v1h-1zM1422 182h3v1h-3zM1428 183h3v1h-3zM1434 184h3v1h-3zM1440 185h3v1h-3zM1446 185h1v1h-1zM1447 186h2v1h-2zM1452 186h2v1h-2zM1454 187h1v1h-1zM1458 187h3v1h-3zM1464 188h3v1h-3zM1470 189h3v1h-3zM1476 190h3v1h-3zM1482 190h1v1h-1zM1483 191h2v1h-2zM1488 191h2v1h-2zM1490 192h1v1h-1zM1494 192h3v1h-3zM1500 193h3v1h-3zM1506 194h3v1h-3zM1512 195h3v1h-3zM1518 195h1v1h-1zM1519 196h2v1h-2zM1524 196h2v1h-2zM1526 197h1v1h-1zM1530 197h3v1h-3zM1536 198h3v1h-3zM1542 199h3v1h-3zM1548 200h3v1h-3zM1554 200h1v1h-1zM1555 201h2v1h-2zM1560 201h2v1h-2zM1562 202h1v1h-1zM1566 202h3v1h-3zM1572 203h3v1h-3zM1578 204h3v1h-3zM1584 205h3v1h-3zM1590 205h1v1h-1zM1591 206h2v1h-2zM1596 206h2v1h-2zM1598 207h1v1h-1zM1602 207h3v1h-3zM1608 208h3v1h-3zM1614 209h3v1h-3zM1620 210h3v1h-3zM1626 210h1v1h-1zM1627 211h2v1h-2zM1632 211h2v1h-2zM1634 212h1v1h-1zM1638 212h3v1h-3zM1644 213h3v1h-3zM1650 214h3v1h-3zM1656 215h3v1h-3zM1662 215h1v1h-1zM1663 216h2v1h-2zM1668 216h2v1h-2zM1670 217h1v1h-1zM1674 217h3v1h-3zM1680 218h3v1h-3zM1686 219h3v1h-3zM1692 220h3v1h-3zM1698 221h3v1h-3zM1704 221h2v1h-2zM1706 222h1v1h-1zM1710 222h3v1h-3zM1716 223h3v1h-3zM1722 224h3v1h-3zM1728 225h3v1h-3zM1734 226h3v1h-3zM1740 226h1v1h-1zM1741 227h2v1h-2zM1746 227h3v1h-3zM1752 228h3v1h-3zM1758 229h3v1h-3zM1764 230h3v1h-3zM1770 231h3v1h-3zM1776 231h1v1h-1zM1777 232h2v1h-2zM1782 232h3v1h-3zM1788 233h3v1h-3zM1794 234h3v1h-3zM1800 235h3v1h-3zM1806 236h3v1h-3zM1812 236h1v1h-1zM1813 237h2v1h-2zM1818 237h2v1h-2zM1820 238h1v1h-1zM1824 238h3v1h-3zM1830 239h3v1h-3zM1836 240h3v1h-3zM1842 241h3v1h-3zM1848 241h1v1h-1zM1849 242h2v1h-2zM1854 242h2v1h-2zM1856 243h1v1h-1zM1860 243h3v1h-3zM1866 244h3v1h-3zM1872 245h3v1h-3zM1878 246h3v1h-3zM1884 246h1v1h-1zM1885 247h2v1h-2zM1890 247h2v1h-2zM1892 248h1v1h-1zM1896 248h3v1h-3zM1902 249h3v1h-3zM1908 250h3v1h-3zM1914 251h3v1h-3zM1920 251h1v1h-1zM1921 252h2v1h-2zM1926 252h2v1h-2zM1928 253h1v1h-1zM1932 253h3v1h-3zM1938 254h3v1h-3zM1944 255h3v1h-3zM1950 256h3v1h-3zM1956 256h1v1h-1zM1957 257h2v1h-2zM1962 257h2v1h-2zM1964 258h1v1h-1zM1968 258h3v1h-3zM1974 259h3v1h-3zM1980 260h3v1h-3zM1986 261h3v1h-3zM1992 261h1v1h-1zM1993 262h2v1h-2zM1998 262h2v1h-2zM2000 263h1v1h-1zM2004 263h3v1h-3zM2010 264h3v1h-3zM2016 265h3v1h-3zM2022 266h3v1h-3zM2028 266h1v1h-1zM2029 267h2v1h-2zM2034 267h2v1h-2zM2036 268h1v1h-1zM2040 268h3v1h-3zM2046 269h3v1h-3zM2052 270h3v1h-3zM2058 271h3v1h-3zM2064 272h3v1h-3zM2070 272h2v1h-2zM2072 273h1v1h-1zM2076 273h3v1h-3zM2082 274h3v1h-3zM2088 275h3v1h-3zM2094 276h3v1h-3zM2100 277h3v1h-3zM2106 277h2v1h-2zM2108 278h1v1h-1zM2112 278h3v1h-3zM2118 279h3v1h-3zM2124 280h3v1h-3zM2130 281h3v1h-3zM2136 282h3v1h-3zM2142 282h1v1h-1zM2143 283h2v1h-2zM2148 283h3v1h-3zM2154 284h3v1h-3zM2160 285h3v1h-3zM2166 286h3v1h-3zM2172 287h3v1h-3zM2178 287h1v1h-1zM2179 288h2v1h-2zM2184 288h3v1h-3zM2190 289h3v1h-3zM2196 290h3v1h-3zM2202 291h3v1h-3zM2208 292h3v1h-3zM2214 292h1v1h-1zM2215 293h2v1h-2zM2220 293h2v1h-2zM2222 294h1v1h-1zM2226 294h3v1h-3zM2232 295h3v1h-3zM2238 296h3v1h-3zM2244 297h3v1h-3zM2250 297h1v1h-1zM2251 298h2v1h-2zM2256 298h2v1h-2zM2258 299h1v1h-1zM2262 299h3v1h-3zM2268 300h3v1h-3zM2274 301h3v1h-3zM2280 302h3v1h-3zM2286 302h1v1h-1zM2287 303h2v1h-2zM2292 303h2v1h-2zM2294 304h1v1h-1zM2298 304h3v1h-3zM2304 305h3v1h-3zM2310 306h3v1h-3zM2316 307h3v1h-3zM2322 307h1v1h-1zM2323 308h2v1h-2zM1596 243h1v1h-1zM1595 244h1v1h-1zM1590 248h2v1h-2zM1589 249h1v1h-1zM1585 253h1v1h-1zM1584 254h1v1h-1zM1583 255h1v1h-1zM1579 259h1v1h-1zM1578 260h1v1h-1zM1577 261h1v1h-1zM1573 265h1v1h-1zM1572 266h1v1h-1zM1571 267h1v1h-1zM1567 271h1v1h-1zM1566 272h1v1h-1zM1565 273h1v1h-1zM1561 276h1v1h-1zM1560 277h1v1h-1zM1559 278h1v1h-1zM1555 282h1v1h-1zM1554 283h1v1h-1zM1553 284h1v1h-1zM1549 288h1v1h-1zM1548 289h1v1h-1zM1547 290h1v1h-1zM1543 294h1v1h-1zM1542 295h1v1h-1zM1541 296h1v1h-1zM1537 299h1v1h-1zM1536 300h1v1h-1zM1535 301h1v1h-1zM1531 305h1v1h-1zM1530 306h1v1h-1zM1529 307h1v1h-1zM1525 311h1v1h-1zM1524 312h1v1h-1zM1523 313h1v1h-1zM1519 317h1v1h-1zM1518 318h1v1h-1zM1517 319h1v1h-1zM1512 323h2v1h-2zM1511 324h1v1h-1zM1507 328h1v1h-1zM1506 329h1v1h-1zM1505 330h1v1h-1zM1501 334h1v1h-1zM1500 335h1v1h-1zM1499 336h1v1h-1zM1495 340h1v1h-1zM1494 341h1v1h-1zM1493 342h1v1h-1zM1489 346h1v1h-1zM1488 347h1v1h-1zM1487 348h1v1h-1zM1483 351h1v1h-1zM1482 352h1v1h-1zM1481 353h1v1h-1zM1477 357h1v1h-1zM1476 358h1v1h-1zM1475 359h1v1h-1zM1471 363h1v1h-1zM1470 364h1v1h-1zM1469 365h1v1h-1zM1465 369h1v1h-1zM1464 370h1v1h-1zM1463 371h1v1h-1zM1459 374h1v1h-1zM1458 375h1v1h-1zM1457 376h1v1h-1zM1453 380h1v1h-1zM1452 381h1v1h-1zM1451 382h1v1h-1zM1447 386h1v1h-1zM1446 387h1v1h-1zM1445 388h1v1h-1zM1441 392h1v1h-1zM1440 393h1v1h-1zM1439 394h1v1h-1zM1434 398h2v1h-2zM1433 399h1v1h-1zM1429 403h1v1h-1zM1428 404h1v1h-1zM1427 405h1v1h-1zM1423 409h1v1h-1zM1422 410h1v1h-1zM1421 411h1v1h-1zM1417 415h1v1h-1zM1416 416h1v1h-1zM1415 417h1v1h-1zM1411 421h1v1h-1zM1410 422h1v1h-1zM1409 423h1v1h-1zM1405 426h1v1h-1zM1404 427h1v1h-1zM1403 428h1v1h-1zM1399 432h1v1h-1zM1398 433h1v1h-1zM1397 434h1v1h-1zM1393 438h1v1h-1zM1392 439h1v1h-1zM1391 440h1v1h-1zM1387 444h1v1h-1zM1386 445h1v1h-1zM1385 446h1v1h-1zM1381 449h1v1h-1zM1380 450h1v1h-1zM1379 451h1v1h-1zM1375 455h1v1h-1zM1374 456h1v1h-1zM1373 457h1v1h-1zM1369 461h1v1h-1zM1368 462h1v1h-1zM1367 463h1v1h-1zM1363 467h1v1h-1zM1362 468h1v1h-1zM1361 469h1v1h-1zM1357 473h1v1h-1zM1355 474h2v1h-2zM1351 478h1v1h-1zM1350 479h1v1h-1zM1349 480h1v1h-1zM1345 484h1v1h-1zM1344 485h1v1h-1zM1343 486h1v1h-1zM1339 490h1v1h-1zM1338 491h1v1h-1zM1337 492h1v1h-1zM1333 496h1v1h-1zM1332 497h1v1h-1zM1331 498h1v1h-1zM1327 501h1v1h-1zM1326 502h1v1h-1zM1325 503h1v1h-1zM1321 507h1v1h-1zM1320 508h1v1h-1zM1319 509h1v1h-1zM1315 513h1v1h-1zM1314 514h1v1h-1zM1313 515h1v1h-1zM1309 519h1v1h-1zM1308 520h1v1h-1zM1307 521h1v1h-1zM1303 524h1v1h-1zM1302 525h1v1h-1zM1301 526h1v1h-1zM1297 530h1v1h-1zM1296 531h1v1h-1zM1295 532h1v1h-1zM1291 536h1v1h-1zM1290 537h1v1h-1zM1289 538h1v1h-1zM1285 542h1v1h-1zM1284 543h1v1h-1zM1283 544h1v1h-1zM1279 548h1v1h-1zM1277 549h2v1h-2zM1273 553h1v1h-1zM1272 554h1v1h-1zM1271 555h1v1h-1zM1267 559h1v1h-1zM1266 560h1v1h-1zM1265 561h1v1h-1zM1261 565h1v1h-1zM1260 566h1v1h-1zM1259 567h1v1h-1zM1255 571h1v1h-1zM1254 572h1v1h-1zM1253 573h1v1h-1zM1249 576h1v1h-1zM1248 577h1v1h-1zM1247 578h1v1h-1zM1243 582h1v1h-1zM1242 583h1v1h-1zM1241 584h1v1h-1zM1237 588h1v1h-1zM1236 589h1v1h-1zM1235 590h1v1h-1zM1231 594h1v1h-1zM1230 595h1v1h-1zM1229 596h1v1h-1zM1225 599h1v1h-1zM1224 600h1v1h-1zM1223 601h1v1h-1zM1219 605h1v1h-1zM1218 606h1v1h-1zM1217 607h1v1h-1zM1213 611h1v1h-1zM1212 612h1v1h-1zM1211 613h1v1h-1zM1207 617h1v1h-1zM1206 618h1v1h-1zM1205 619h1v1h-1zM1201 623h1v1h-1zM1199 624h2v1h-2zM1195 628h1v1h-1zM1194 629h1v1h-1zM1193 630h1v1h-1zM1189 634h1v1h-1zM1188 635h1v1h-1zM1187 636h1v1h-1zM1183 640h1v1h-1zM1182 641h1v1h-1zM1181 642h1v1h-1zM1177 646h1v1h-1zM1176 647h1v1h-1zM1175 648h1v1h-1zM1171 651h1v1h-1zM1170 652h1v1h-1zM1169 653h1v1h-1zM1165 657h1v1h-1zM1164 658h1v1h-1zM1163 659h1v1h-1zM1159 663h1v1h-1zM1158 664h1v1h-1zM1157 665h1v1h-1zM1153 669h1v1h-1zM1152 670h1v1h-1zM1151 671h1v1h-1zM1146 675h2v1h-2zM1145 676h1v1h-1zM1141 680h1v1h-1zM1140 681h1v1h-1zM1139 682h1v1h-1zM1135 686h1v1h-1zM1134 687h1v1h-1zM1133 688h1v1h-1zM1129 692h1v1h-1zM1128 693h1v1h-1zM1127 694h1v1h-1zM1123 698h1v1h-1zM1122 699h1v1h-1zM1121 700h1v1h-1zM1117 703h1v1h-1zM1116 704h1v1h-1zM1115 705h1v1h-1zM1111 709h1v1h-1zM1110 710h1v1h-1zM1109 711h1v1h-1zM1105 715h1v1h-1zM1104 716h1v1h-1zM1103 717h1v1h-1zM1099 721h1v1h-1zM1098 722h1v1h-1zM1097 723h1v1h-1zM1093 726h1v1h-1zM1092 727h1v1h-1zM1091 728h1v1h-1zM1087 732h1v1h-1zM1086 733h1v1h-1zM1085 734h1v1h-1zM1081 738h1v1h-1zM1080 739h1v1h-1zM1079 740h1v1h-1zM1075 744h1v1h-1zM1074 745h1v1h-1zM1073 746h1v1h-1zM1068 750h2v1h-2zM1067 751h1v1h-1zM1063 755h1v1h-1zM1062 756h1v1h-1zM1061 757h1v1h-1zM1057 761h1v1h-1zM1056 762h1v1h-1zM1055 763h1v1h-1zM1051 767h1v1h-1zM1050 768h1v1h-1zM1049 769h1v1h-1zM1045 773h1v1h-1zM1044 774h1v1h-1zM1043 775h1v1h-1zM1039 778h1v1h-1zM1038 779h1v1h-1zM1037 780h1v1h-1zM1033 784h1v1h-1zM1032 785h1v1h-1zM1031 786h1v1h-1zM1027 790h1v1h-1zM1026 791h1v1h-1zM1025 792h1v1h-1zM1021 796h1v1h-1zM1020 797h1v1h-1zM1019 798h1v1h-1zM1015 801h1v1h-1zM1014 802h1v1h-1zM1013 803h1v1h-1zM1009 807h1v1h-1zM1008 808h1v1h-1zM1007 809h1v1h-1zM1003 813h1v1h-1zM1002 814h1v1h-1zM1001 815h1v1h-1zM997 819h1v1h-1zM996 820h1v1h-1zM995 821h1v1h-1zM990 825h2v1h-2zM989 826h1v1h-1zM985 830h1v1h-1zM984 831h1v1h-1zM983 832h1v1h-1zM979 836h1v1h-1zM978 837h1v1h-1zM977 838h1v1h-1zM973 842h1v1h-1zM972 843h1v1h-1zM971 844h1v1h-1zM967 848h1v1h-1zM966 849h1v1h-1zM965 850h1v1h-1zM961 853h1v1h-1zM960 854h1v1h-1zM959 855h1v1h-1zM955 859h1v1h-1zM954 860h1v1h-1zM953 861h1v1h-1zM949 865h1v1h-1zM948 866h1v1h-1zM947 867h1v1h-1zM943 871h1v1h-1zM942 872h1v1h-1zM941 873h1v1h-1zM937 876h1v1h-1zM936 877h1v1h-1zM935 878h1v1h-1zM931 882h1v1h-1zM930 883h1v1h-1zM929 884h1v1h-1zM925 888h1v1h-1zM924 889h1v1h-1zM923 890h1v1h-1zM919 894h1v1h-1zM918 895h1v1h-1zM917 896h1v1h-1zM913 900h1v1h-1zM911 901h2v1h-2zM907 905h1v1h-1zM906 906h1v1h-1zM905 907h1v1h-1zM901 911h1v1h-1zM900 912h1v1h-1zM899 913h1v1h-1zM895 917h1v1h-1zM894 918h1v1h-1zM893 919h1v1h-1zM889 923h1v1h-1zM888 924h1v1h-1zM887 925h1v1h-1zM883 928h1v1h-1zM882 929h1v1h-1zM881 930h1v1h-1zM877 934h1v1h-1zM876 935h1v1h-1zM875 936h1v1h-1zM871 940h1v1h-1zM870 941h1v1h-1zM869 942h1v1h-1zM865 946h1v1h-1zM864 947h1v1h-1zM863 948h1v1h-1zM859 951h1v1h-1zM858 952h1v1h-1zM857 953h1v1h-1zM853 957h1v1h-1zM852 958h1v1h-1zM851 959h1v1h-1zM847 963h1v1h-1zM846 964h1v1h-1zM845 965h1v1h-1zM841 969h1v1h-1zM840 970h1v1h-1zM839 971h1v1h-1zM835 975h1v1h-1zM833 976h2v1h-2zM829 980h1v1h-1zM828 981h1v1h-1zM827 982h1v1h-1zM823 986h1v1h-1zM822 987h1v1h-1zM821 988h1v1h-1zM817 992h1v1h-1zM816 993h1v1h-1zM815 994h1v1h-1zM811 998h1v1h-1zM810 999h1v1h-1zM809 1000h1v1h-1zM805 1003h1v1h-1zM804 1004h1v1h-1zM803 1005h1v1h-1zM799 1009h1v1h-1zM798 1010h1v1h-1zM797 1011h1v1h-1zM793 1015h1v1h-1zM792 1016h1v1h-1zM791 1017h1v1h-1zM787 1021h1v1h-1zM786 1022h1v1h-1zM785 1023h1v1h-1zM781 1026h1v1h-1zM780 1027h1v1h-1zM779 1028h1v1h-1zM775 1032h1v1h-1zM774 1033h1v1h-1zM773 1034h1v1h-1zM769 1038h1v1h-1zM768 1039h1v1h-1zM767 1040h1v1h-1zM763 1044h1v1h-1zM762 1045h1v1h-1zM761 1046h1v1h-1zM757 1050h1v1h-1zM756 1051h1v1h-1zM755 1052h1v1h-1zM1435 251h1v1h-1zM1434 252h1v1h-1zM1433 253h1v1h-1zM1429 256h1v1h-1zM1428 257h1v1h-1zM1427 258h1v1h-1zM1423 261h1v1h-1zM1421 262h2v1h-2zM1416 266h2v1h-2zM1415 267h1v1h-1zM1410 271h2v1h-2zM1409 272h1v1h-1zM1405 275h1v1h-1zM1404 276h1v1h-1zM1403 277h1v1h-1zM1399 280h1v1h-1zM1398 281h1v1h-1zM1397 282h1v1h-1zM1393 285h1v1h-1zM1392 286h1v1h-1zM1391 287h1v1h-1zM1387 290h1v1h-1zM1386 291h1v1h-1zM1385 292h1v1h-1zM1381 295h1v1h-1zM1379 296h2v1h-2zM1374 300h2v1h-2zM1373 301h1v1h-1zM1369 304h1v1h-1zM1368 305h1v1h-1zM1367 306h1v1h-1zM1363 309h1v1h-1zM1362 310h1v1h-1zM1361 311h1v1h-1zM1357 314h1v1h-1zM1356 315h1v1h-1zM1355 316h1v1h-1zM1351 319h1v1h-1zM1350 320h1v1h-1zM1349 321h1v1h-1zM1345 324h1v1h-1zM1344 325h1v1h-1zM1343 326h1v1h-1zM1339 329h1v1h-1zM1337 330h2v1h-2zM1332 334h2v1h-2zM1331 335h1v1h-1zM1327 338h1v1h-1zM1326 339h1v1h-1zM1325 340h1v1h-1zM1321 343h1v1h-1zM1320 344h1v1h-1zM1319 345h1v1h-1zM1315 348h1v1h-1zM1314 349h1v1h-1zM1313 350h1v1h-1zM1309 353h1v1h-1zM1308 354h1v1h-1zM1307 355h1v1h-1zM1303 358h1v1h-1zM1301 359h2v1h-2zM1297 363h1v1h-1zM1295 364h2v1h-2zM1290 368h2v1h-2zM1289 369h1v1h-1zM1285 372h1v1h-1zM1284 373h1v1h-1zM1283 374h1v1h-1zM1279 377h1v1h-1zM1278 378h1v1h-1zM1277 379h1v1h-1zM1273 382h1v1h-1zM1272 383h1v1h-1zM1271 384h1v1h-1zM1267 387h1v1h-1zM1266 388h1v1h-1zM1265 389h1v1h-1zM1261 392h1v1h-1zM1259 393h2v1h-2zM1254 397h2v1h-2zM1253 398h1v1h-1zM1248 402h2v1h-2zM1247 403h1v1h-1zM1243 406h1v1h-1zM1242 407h1v1h-1zM1241 408h1v1h-1zM1237 411h1v1h-1zM1236 412h1v1h-1zM1235 413h1v1h-1zM1231 416h1v1h-1zM1230 417h1v1h-1zM1229 418h1v1h-1zM1225 421h1v1h-1zM1224 422h1v1h-1zM1223 423h1v1h-1zM1219 426h1v1h-1zM1217 427h2v1h-2zM1212 431h2v1h-2zM1211 432h1v1h-1zM1207 435h1v1h-1zM1206 436h1v1h-1zM1205 437h1v1h-1zM1201 440h1v1h-1zM1200 441h1v1h-1zM1199 442h1v1h-1zM1195 445h1v1h-1zM1194 446h1v1h-1zM1193 447h1v1h-1zM1189 450h1v1h-1zM1188 451h1v1h-1zM1187 452h1v1h-1zM1183 455h1v1h-1zM1181 456h2v1h-2zM1177 460h1v1h-1zM1175 461h2v1h-2zM1170 465h2v1h-2zM1169 466h1v1h-1zM1165 469h1v1h-1zM1164 470h1v1h-1zM1163 471h1v1h-1zM1159 474h1v1h-1zM1158 475h1v1h-1zM1157 476h1v1h-1zM1153 479h1v1h-1zM1152 480h1v1h-1zM1151 481h1v1h-1zM1147 484h1v1h-1zM1146 485h1v1h-1zM1145 486h1v1h-1zM1141 489h1v1h-1zM1139 490h2v1h-2zM1134 494h2v1h-2zM1133 495h1v1h-1zM1128 499h2v1h-2zM1127 500h1v1h-1zM1123 503h1v1h-1zM1122 504h1v1h-1zM1121 505h1v1h-1zM1117 508h1v1h-1zM1116 509h1v1h-1zM1115 510h1v1h-1zM1111 513h1v1h-1zM1110 514h1v1h-1zM1109 515h1v1h-1zM1105 518h1v1h-1zM1104 519h1v1h-1zM1103 520h1v1h-1zM1099 523h1v1h-1zM1097 524h2v1h-2zM1092 528h2v1h-2zM1091 529h1v1h-1zM1087 532h1v1h-1zM1086 533h1v1h-1zM1085 534h1v1h-1zM1081 537h1v1h-1zM1080 538h1v1h-1zM1079 539h1v1h-1zM1075 542h1v1h-1zM1074 543h1v1h-1zM1073 544h1v1h-1zM1069 547h1v1h-1zM1068 548h1v1h-1zM1067 549h1v1h-1zM1063 552h1v1h-1zM1062 553h1v1h-1zM1061 554h1v1h-1zM1057 557h1v1h-1zM1055 558h2v1h-2zM1050 562h2v1h-2zM1049 563h1v1h-1zM1045 566h1v1h-1zM1044 567h1v1h-1zM1043 568h1v1h-1zM1039 571h1v1h-1zM1038 572h1v1h-1zM1037 573h1v1h-1zM1033 576h1v1h-1zM1032 577h1v1h-1zM1031 578h1v1h-1zM1027 581h1v1h-1zM1026 582h1v1h-1zM1025 583h1v1h-1zM1021 586h1v1h-1zM1019 587h2v1h-2zM1015 591h1v1h-1zM1013 592h2v1h-2zM1008 596h2v1h-2zM1007 597h1v1h-1zM1003 600h1v1h-1zM1002 601h1v1h-1zM1001 602h1v1h-1zM997 605h1v1h-1zM996 606h1v1h-1zM995 607h1v1h-1zM991 610h1v1h-1zM990 611h1v1h-1zM989 612h1v1h-1zM985 615h1v1h-1zM984 616h1v1h-1zM983 617h1v1h-1zM979 620h1v1h-1zM977 621h2v1h-2zM972 625h2v1h-2zM971 626h1v1h-1zM966 630h2v1h-2zM965 631h1v1h-1zM961 634h1v1h-1zM960 635h1v1h-1zM959 636h1v1h-1zM955 639h1v1h-1zM954 640h1v1h-1zM953 641h1v1h-1zM949 644h1v1h-1zM948 645h1v1h-1zM947 646h1v1h-1zM943 649h1v1h-1zM942 650h1v1h-1zM941 651h1v1h-1zM937 654h1v1h-1zM935 655h2v1h-2zM930 659h2v1h-2zM929 660h1v1h-1zM925 663h1v1h-1zM924 664h1v1h-1zM923 665h1v1h-1zM919 668h1v1h-1zM918 669h1v1h-1zM917 670h1v1h-1zM913 673h1v1h-1zM912 674h1v1h-1zM911 675h1v1h-1zM907 678h1v1h-1zM906 679h1v1h-1zM905 680h1v1h-1zM901 683h1v1h-1zM899 684h2v1h-2zM895 688h1v1h-1zM893 689h2v1h-2zM888 693h2v1h-2zM887 694h1v1h-1zM883 697h1v1h-1zM882 698h1v1h-1zM881 699h1v1h-1zM877 702h1v1h-1zM876 703h1v1h-1zM875 704h1v1h-1zM871 707h1v1h-1zM870 708h1v1h-1zM869 709h1v1h-1zM865 712h1v1h-1zM864 713h1v1h-1zM863 714h1v1h-1zM859 717h1v1h-1zM857 718h2v1h-2zM852 722h2v1h-2zM851 723h1v1h-1zM846 727h2v1h-2zM845 728h1v1h-1zM841 731h1v1h-1zM840 732h1v1h-1zM839 733h1v1h-1zM835 736h1v1h-1zM834 737h1v1h-1zM833 738h1v1h-1zM829 741h1v1h-1zM828 742h1v1h-1zM827 743h1v1h-1zM823 746h1v1h-1zM822 747h1v1h-1zM821 748h1v1h-1zM817 751h1v1h-1zM815 752h2v1h-2zM810 756h2v1h-2zM809 757h1v1h-1zM805 760h1v1h-1zM804 761h1v1h-1zM803 762h1v1h-1zM1027 960v2h1v-2zM1028 959v1h1v-1zM1030 954v2h1v-2zM1031 953v1h1v-1zM1033 948v2h1v-2zM1034 947v1h1v-1zM1036 942v2h1v-2zM1037 941v1h1v-1zM1039 936v2h1v-2zM1040 935v1h1v-1zM1042 930v2h1v-2zM1043 929v1h1v-1zM1045 924v2h1v-2zM1046 923v1h1v-1zM1048 918v2h1v-2zM1049 917v1h1v-1zM1051 912v2h1v-2zM1052 911v1h1v-1zM1054 906v2h1v-2zM1055 905v1h1v-1zM1057 900v2h1v-2zM1058 899v1h1v-1zM1060 894v2h1v-2zM1061 893v1h1v-1zM1063 888v2h1v-2zM1064 887v1h1v-1zM1066 881v3h1v-3zM1068 877v1h1v-1zM1069 875v2h1v-2zM1071 871v1h1v-1zM1072 869v2h1v-2zM1074 865v1h1v-1zM1075 863v2h1v-2zM1077 859v1h1v-1zM1078 857v2h1v-2zM1080 853v1h1v-1zM1081 851v2h1v-2zM1083 847v1h1v-1zM1084 845v2h1v-2zM1086 841v1h1v-1zM1087 839v2h1v-2zM1089 835v1h1v-1zM1090 833v2h1v-2zM1092 829v1h1v-1zM1093 827v2h1v-2zM1095 823v1h1v-1zM1096 821v2h1v-2zM1098 817v1h1v-1zM1099 815v2h1v-2zM1101 811v1h1v-1zM1102 809v2h1v-2zM1104 805v1h1v-1zM1105 803v2h1v-2zM1107 798v2h1v-2zM1108 797v1h1v-1zM1110 792v2h1v-2zM1111 791v1h1v-1zM1113 786v2h1v-2zM1114 785v1h1v-1zM1116 780v2h1v-2zM1117 779v1h1v-1zM1119 774v2h1v-2zM1120 773v1h1v-1zM1122 768v2h1v-2zM1123 767v1h1v-1zM1125 762v2h1v-2zM1126 761v1h1v-1zM1128 756v2h1v-2zM1129 755v1h1v-1zM1131 750v2h1v-2zM1132 749v1h1v-1zM1134 744v2h1v-2zM1135 743v1h1v-1zM1137 738v2h1v-2zM1138 737v1h1v-1zM1140 732v2h1v-2zM1141 731v1h1v-1zM1143 726v2h1v-2zM1144 725v1h1v-1zM1145 721v1h1v-1zM1146 719v2h1v-2zM1148 715v1h1v-1zM1149 713v2h1v-2zM1151 709v1h1v-1zM1152 707v2h1v-2zM1154 703v1h1v-1zM1155 701v2h1v-2zM1157 697v1h1v-1zM1158 695v2h1v-2zM1160 691v1h1v-1zM1161 689v2h1v-2zM1163 685v1h1v-1zM1164 683v2h1v-2zM1166 679v1h1v-1zM1167 677v2h1v-2zM1169 673v1h1v-1zM1170 671v2h1v-2zM1172 667v1h1v-1zM1173 665v2h1v-2zM1175 661v1h1v-1zM1176 659v2h1v-2zM1178 655v1h1v-1zM1179 653v2h1v-2zM1181 649v1h1v-1zM1182 647v2h1v-2zM1184 642v2h1v-2zM1185 641v1h1v-1zM1187 636v2h1v-2zM1188 635v1h1v-1zM1190 630v2h1v-2zM1191 629v1h1v-1zM1193 624v2h1v-2zM1194 623v1h1v-1zM1196 618v2h1v-2zM1197 617v1h1v-1zM1199 612v2h1v-2zM1200 611v1h1v-1zM1202 606v2h1v-2zM1203 605v1h1v-1zM1205 600v2h1v-2zM1206 599v1h1v-1zM1208 594v2h1v-2zM1209 593v1h1v-1zM1211 588v2h1v-2zM1212 587v1h1v-1zM1214 582v2h1v-2zM1215 581v1h1v-1zM1217 576v2h1v-2zM1218 575v1h1v-1zM1220 570v2h1v-2zM1221 569v1h1v-1zM1222 565v1h1v-1zM1223 563v2h1v-2zM1225 559v1h1v-1zM1226 557v2h1v-2zM1228 553v1h1v-1zM1229 551v2h1v-2zM1231 547v1h1v-1zM1232 545v2h1v-2zM1234 541v1h1v-1zM1235 539v2h1v-2zM1237 535v1h1v-1zM1238 533v2h1v-2zM1240 529v1h1v-1zM1241 527v2h1v-2zM1243 523v1h1v-1zM1244 521v2h1v-2zM1246 517v1h1v-1zM1247 515v2h1v-2zM1249 511v1h1v-1zM1250 509v2h1v-2zM1252 505v1h1v-1zM1253 503v2h1v-2zM1255 499v1h1v-1zM1256 497v2h1v-2zM1258 493v1h1v-1zM1259 491v2h1v-2zM1261 486v2h1v-2zM1262 485v1h1v-1zM1264 480v1h1v-1zM1264 480v1h1v-1zM1265 479v1h1v-1zM1267 474v2h1v-2zM1268 473v1h1v-1zM1270 467v1h1v-1zM1270 469v1h1v-1zM1271 467v1h1v-1zM1273 462v2h1v-2zM1274 461v1h1v-1zM1276 456v2h1v-2zM1277 454v1h1v-1zM1279 450v2h1v-2zM1280 449v1h1v-1zM1282 444v2h1v-2zM1283 443v1h1v-1zM1285 438v2h1v-2zM1286 437v1h1v-1zM1288 432v2h1v-2zM1289 431v1h1v-1zM1291 426v2h1v-2zM1292 425v1h1v-1zM1294 420v2h1v-2zM1295 419v1h1v-1zM1297 414v2h1v-2zM1298 413v1h1v-1zM1300 407v3h1v-3zM1302 403v1h1v-1zM1303 401v2h1v-2zM1305 397v1h1v-1zM1306 395v2h1v-2zM1308 391v1h1v-1zM1309 389v2h1v-2zM1311 385v1h1v-1zM1312 383v2h1v-2zM1314 379v1h1v-1zM1315 377v2h1v-2zM1317 373v1h1v-1zM1318 371v2h1v-2zM1320 367v1h1v-1zM1321 365v2h1v-2zM1323 361v1h1v-1zM1324 359v2h1v-2zM1326 355v1h1v-1zM1327 353v2h1v-2zM1329 349v1h1v-1zM1330 347v2h1v-2zM1332 343v1h1v-1zM1333 341v2h1v-2zM1335 337v1h1v-1zM1336 335v2h1v-2zM1338 331v1h1v-1zM1339 329v2h1v-2zM2074 635h3v1h-3zM2070 636h1v1h-1zM2068 637h2v1h-2zM2064 638h1v1h-1zM2062 639h2v1h-2zM2057 640h2v1h-2zM2056 641h1v1h-1zM2051 642h2v1h-2zM2050 643h1v1h-1zM2045 644h2v1h-2zM2044 645h1v1h-1zM2038 646h3v1h-3zM2032 648h3v1h-3zM2026 650h3v1h-3zM2020 652h3v1h-3zM2016 653h1v1h-1zM2014 654h2v1h-2zM2010 655h1v1h-1zM2008 656h2v1h-2zM2004 657h1v1h-1zM2002 658h2v1h-2zM1997 659h2v1h-2zM1996 660h1v1h-1zM1991 661h2v1h-2zM1990 662h1v1h-1zM1985 663h2v1h-2zM1984 664h1v1h-1zM1978 665h3v1h-3zM1972 667h3v1h-3zM1966 669h3v1h-3zM1962 670h1v1h-1zM1960 671h2v1h-2zM1956 672h1v1h-1zM1954 673h2v1h-2zM1950 674h1v1h-1zM1948 675h2v1h-2zM1943 676h2v1h-2zM1942 677h1v1h-1zM1937 678h2v1h-2zM1936 679h1v1h-1zM1931 680h2v1h-2zM1930 681h1v1h-1zM1924 682h3v1h-3zM1918 684h3v1h-3zM1912 686h3v1h-3zM1908 687h1v1h-1zM1906 688h2v1h-2zM1902 689h1v1h-1zM1900 690h2v1h-2zM1896 691h1v1h-1zM1894 692h2v1h-2zM1889 693h2v1h-2zM1888 694h1v1h-1zM1883 695h2v1h-2zM1882 696h1v1h-1zM1877 697h2v1h-2zM1876 698h1v1h-1zM1870 699h3v1h-3zM1864 701h3v1h-3zM1858 703h3v1h-3zM1852 705h3v1h-3zM1848 706h1v1h-1zM1846 707h2v1h-2zM1842 708h1v1h-1zM1840 709h2v1h-2zM1836 710h1v1h-1zM1834 711h2v1h-2zM1829 712h2v1h-2zM1828 713h1v1h-1zM1823 714h2v1h-2zM1822 715h1v1h-1zM1817 716h2v1h-2zM1816 717h1v1h-1zM1810 718h3v1h-3zM1804 720h3v1h-3zM1798 722h3v1h-3zM1794 723h1v1h-1zM1792 724h2v1h-2zM1788 725h1v1h-1zM1786 726h2v1h-2zM1782 727h1v1h-1zM1780 728h2v1h-2zM1775 729h2v1h-2zM1774 730h1v1h-1zM1769 731h2v1h-2zM1768 732h1v1h-1zM1763 733h2v1h-2zM1762 734h1v1h-1zM1756 735h3v1h-3zM1750 737h3v1h-3zM1744 739h3v1h-3zM1740 740h1v1h-1zM1738 741h2v1h-2zM1734 742h1v1h-1zM1732 743h2v1h-2zM1728 744h1v1h-1zM1726 745h2v1h-2zM1721 746h2v1h-2zM1720 747h1v1h-1zM1715 748h2v1h-2zM1714 749h1v1h-1zM1709 750h2v1h-2zM1708 751h1v1h-1zM1702 752h3v1h-3zM1696 754h3v1h-3zM1690 756h3v1h-3zM1684 758h3v1h-3zM1680 759h1v1h-1zM1678 760h2v1h-2zM1674 761h1v1h-1zM1672 762h2v1h-2zM1668 763h1v1h-1zM1666 764h2v1h-2zM1661 765h2v1h-2zM1660 766h1v1h-1zM1655 767h2v1h-2zM1654 768h1v1h-1zM1649 769h2v1h-2zM1648 770h1v1h-1zM1642 771h3v1h-3zM1636 773h3v1h-3zM1630 775h3v1h-3zM1626 776h1v1h-1zM1624 777h2v1h-2zM1620 778h1v1h-1zM1618 779h2v1h-2zM1614 780h1v1h-1zM1612 781h2v1h-2zM1607 782h2v1h-2zM1606 783h1v1h-1zM1601 784h2v1h-2zM1600 785h1v1h-1zM1595 786h2v1h-2zM1594 787h1v1h-1zM1588 788h3v1h-3zM1582 790h3v1h-3zM1576 792h3v1h-3zM1572 793h1v1h-1zM1570 794h2v1h-2zM1566 795h1v1h-1zM1564 796h2v1h-2zM1560 797h1v1h-1zM1558 798h2v1h-2zM1553 799h2v1h-2zM1552 800h1v1h-1zM1547 801h2v1h-2zM1546 802h1v1h-1zM1541 803h2v1h-2zM1540 804h1v1h-1zM1534 805h3v1h-3zM1528 807h3v1h-3zM1522 809h3v1h-3zM1516 811h3v1h-3zM1512 812h1v1h-1zM1510 813h2v1h-2zM1506 814h1v1h-1zM1504 815h2v1h-2zM1500 816h1v1h-1zM1498 817h2v1h-2zM1493 818h2v1h-2zM1492 819h1v1h-1zM1487 820h2v1h-2zM1486 821h1v1h-1zM1480 822h3v1h-3zM1474 824h3v1h-3zM1468 826h3v1h-3zM1462 828h3v1h-3zM1458 829h1v1h-1zM1456 830h2v1h-2zM1452 831h1v1h-1zM1450 832h2v1h-2zM1446 833h1v1h-1zM1444 834h2v1h-2zM1439 835h2v1h-2zM1438 836h1v1h-1zM1433 837h2v1h-2zM1432 838h1v1h-1zM1427 839h2v1h-2zM1426 840h1v1h-1zM1420 841h3v1h-3zM1414 843h3v1h-3zM1408 845h3v1h-3zM1404 846h1v1h-1zM1402 847h2v1h-2zM1398 848h1v1h-1zM1396 849h2v1h-2zM1392 850h1v1h-1zM1390 851h2v1h-2zM1385 852h2v1h-2zM1384 853h1v1h-1zM1379 854h2v1h-2zM1378 855h1v1h-1zM1373 856h2v1h-2zM1372 857h1v1h-1zM1366 858h3v1h-3zM1360 860h3v1h-3zM1354 862h3v1h-3zM1348 864h3v1h-3zM1344 865h1v1h-1zM1342 866h2v1h-2zM1338 867h1v1h-1zM1336 868h2v1h-2zM1331 869h2v1h-2zM1330 870h1v1h-1zM1325 871h2v1h-2zM1324 872h1v1h-1zM1319 873h2v1h-2zM1318 874h1v1h-1zM1312 875h3v1h-3zM1306 877h3v1h-3zM1300 879h3v1h-3zM1294 881h3v1h-3zM1290 882h1v1h-1zM1288 883h2v1h-2zM1284 884h1v1h-1zM1282 885h2v1h-2zM1278 886h1v1h-1zM1276 887h2v1h-2zM1271 888h2v1h-2zM1270 889h1v1h-1zM1265 890h2v1h-2zM1264 891h1v1h-1zM1259 892h2v1h-2zM1258 893h1v1h-1zM1252 894h3v1h-3zM1246 896h3v1h-3zM1240 898h3v1h-3zM1236 899h1v1h-1zM1234 900h2v1h-2zM1230 901h1v1h-1zM1228 902h2v1h-2zM1224 903h1v1h-1zM1222 904h2v1h-2zM1217 905h2v1h-2zM1216 906h1v1h-1zM1211 907h2v1h-2zM1210 908h1v1h-1zM1205 909h2v1h-2zM1204 910h1v1h-1zM1198 911h3v1h-3zM1192 913h3v1h-3zM1186 915h3v1h-3zM1182 916h1v1h-1zM1180 917h2v1h-2zM1176 918h1v1h-1zM1174 919h2v1h-2zM1170 920h1v1h-1zM1168 921h2v1h-2zM1163 922h2v1h-2zM1162 923h1v1h-1zM1157 924h2v1h-2zM1156 925h1v1h-1zM1151 926h2v1h-2zM1150 927h1v1h-1zM1144 928h3v1h-3zM1138 930h3v1h-3zM1132 932h3v1h-3zM1126 934h3v1h-3zM1122 935h1v1h-1zM1120 936h2v1h-2zM1116 937h1v1h-1zM1114 938h2v1h-2zM1110 939h1v1h-1zM1108 940h2v1h-2zM1103 941h2v1h-2zM1102 942h1v1h-1zM1097 943h2v1h-2zM1096 944h1v1h-1zM1091 945h2v1h-2zM1090 946h1v1h-1zM1084 947h3v1h-3zM1078 949h3v1h-3zM1072 951h3v1h-3zM1068 952h1v1h-1zM1066 953h2v1h-2zM1062 954h1v1h-1zM1060 955h2v1h-2zM1056 956h1v1h-1zM1054 957h2v1h-2zM1049 958h2v1h-2zM1048 959h1v1h-1zM1043 960h2v1h-2zM1042 961h1v1h-1zM1037 962h2v1h-2zM1036 963h1v1h-1zM1030 964h3v1h-3zM1024 966h3v1h-3zM1018 968h3v1h-3zM1014 969h1v1h-1zM1012 970h2v1h-2zM1008 971h1v1h-1zM1006 972h2v1h-2zM1002 973h1v1h-1zM1000 974h2v1h-2zM995 975h2v1h-2zM994 976h1v1h-1zM989 977h2v1h-2zM988 978h1v1h-1zM983 979h2v1h-2zM982 980h1v1h-1zM976 981h3v1h-3zM970 983h3v1h-3zM964 985h3v1h-3zM958 987h3v1h-3zM954 988h1v1h-1zM952 989h2v1h-2zM948 990h1v1h-1zM946 991h2v1h-2zM942 992h1v1h-1zM940 993h2v1h-2zM935 994h2v1h-2zM934 995h1v1h-1zM929 996h2v1h-2zM928 997h1v1h-1zM923 998h2v1h-2zM922 999h1v1h-1zM916 1000h3v1h-3zM910 1002h3v1h-3zM904 1004h3v1h-3zM900 1005h1v1h-1zM898 1006h2v1h-2zM894 1007h1v1h-1zM892 1008h2v1h-2zM888 1009h1v1h-1zM886 1010h2v1h-2zM881 1011h2v1h-2zM880 1012h1v1h-1zM875 1013h2v1h-2zM874 1014h1v1h-1zM869 1015h2v1h-2zM868 1016h1v1h-1zM862 1017h3v1h-3zM856 1019h3v1h-3zM850 1021h3v1h-3zM846 1022h1v1h-1zM844 1023h2v1h-2zM840 1024h1v1h-1zM838 1025h2v1h-2zM834 1026h1v1h-1zM832 1027h2v1h-2zM827 1028h2v1h-2zM826 1029h1v1h-1zM821 1030h2v1h-2zM820 1031h1v1h-1zM815 1032h2v1h-2zM814 1033h1v1h-1zM808 1034h3v1h-3zM802 1036h3v1h-3zM796 1038h3v1h-3zM790 1040h3v1h-3zM786 1041h1v1h-1zM784 1042h2v1h-2zM780 1043h1v1h-1zM778 1044h2v1h-2zM774 1045h1v1h-1zM772 1046h2v1h-2zM767 1047h2v1h-2zM766 1048h1v1h-1zM761 1049h2v1h-2zM760 1050h1v1h-1zM755 1051h2v1h-2zM755 1052h1v1h-1zM2322 810h3v1h-3zM2316 811h3v1h-3zM2310 812h3v1h-3zM2304 813h3v1h-3zM2298 814h3v1h-3zM2292 815h3v1h-3zM2286 816h3v1h-3zM2280 817h3v1h-3zM2270 818h1v1h-1zM2274 818h3v1h-3zM2264 819h1v1h-1zM2268 819h2v1h-2zM2257 820h2v1h-2zM2262 820h2v1h-2zM2251 821h2v1h-2zM2256 821h1v1h-1zM2244 822h3v1h-3zM2250 822h1v1h-1zM2238 823h3v1h-3zM2232 824h3v1h-3zM2226 825h3v1h-3zM2220 826h3v1h-3zM2214 827h3v1h-3zM2208 828h3v1h-3zM2202 829h3v1h-3zM2196 830h3v1h-3zM2186 831h1v1h-1zM2190 831h3v1h-3zM2180 832h1v1h-1zM2184 832h2v1h-2zM2173 833h2v1h-2zM2178 833h2v1h-2zM2167 834h2v1h-2zM2172 834h1v1h-1zM2160 835h3v1h-3zM2166 835h1v1h-1zM2154 836h3v1h-3zM2148 837h3v1h-3zM2142 838h3v1h-3zM2136 839h3v1h-3zM2130 840h3v1h-3zM2124 841h3v1h-3zM2118 842h3v1h-3zM2112 843h3v1h-3zM2102 844h1v1h-1zM2106 844h3v1h-3zM2096 845h1v1h-1zM2100 845h2v1h-2zM2089 846h2v1h-2zM2094 846h2v1h-2zM2083 847h2v1h-2zM2088 847h1v1h-1zM2076 848h3v1h-3zM2082 848h1v1h-1zM2070 849h3v1h-3zM2064 850h3v1h-3zM2058 851h3v1h-3zM2052 852h3v1h-3zM2046 853h3v1h-3zM2040 854h3v1h-3zM2034 855h3v1h-3zM2028 856h3v1h-3zM2018 857h1v1h-1zM2022 857h3v1h-3zM2012 858h1v1h-1zM2016 858h2v1h-2zM2005 859h2v1h-2zM2010 859h2v1h-2zM1999 860h2v1h-2zM2004 860h1v1h-1zM1992 861h3v1h-3zM1998 861h1v1h-1zM1986 862h3v1h-3zM1980 863h3v1h-3zM1974 864h3v1h-3zM1968 865h3v1h-3zM1962 866h3v1h-3zM1956 867h3v1h-3zM1950 868h3v1h-3zM1944 869h3v1h-3zM1934 870h1v1h-1zM1938 870h3v1h-3zM1928 871h1v1h-1zM1932 871h2v1h-2zM1921 872h2v1h-2zM1926 872h2v1h-2zM1915 873h2v1h-2zM1920 873h1v1h-1zM1908 874h3v1h-3zM1914 874h1v1h-1zM1902 875h3v1h-3zM1896 876h3v1h-3zM1890 877h3v1h-3zM1884 878h3v1h-3zM1878 879h3v1h-3zM1872 880h3v1h-3zM1866 881h3v1h-3zM1860 882h3v1h-3zM1850 883h1v1h-1zM1854 883h3v1h-3zM1844 884h1v1h-1zM1848 884h2v1h-2zM1837 885h2v1h-2zM1842 885h2v1h-2zM1831 886h2v1h-2zM1836 886h1v1h-1zM1824 887h3v1h-3zM1830 887h1v1h-1zM1818 888h3v1h-3zM1812 889h3v1h-3zM1806 890h3v1h-3zM1800 891h3v1h-3zM1794 892h3v1h-3zM1788 893h3v1h-3zM1782 894h3v1h-3zM1776 895h3v1h-3zM1766 896h1v1h-1zM1770 896h3v1h-3zM1760 897h1v1h-1zM1764 897h2v1h-2zM1753 898h2v1h-2zM1758 898h2v1h-2zM1747 899h2v1h-2zM1752 899h1v1h-1zM1740 900h3v1h-3zM1746 900h1v1h-1zM1734 901h3v1h-3zM1728 902h3v1h-3zM1722 903h3v1h-3zM1716 904h3v1h-3zM1710 905h3v1h-3zM1704 906h3v1h-3zM1698 907h3v1h-3zM1692 908h3v1h-3zM1682 909h1v1h-1zM1686 909h3v1h-3zM1676 910h1v1h-1zM1680 910h2v1h-2zM1669 911h2v1h-2zM1674 911h2v1h-2zM1663 912h2v1h-2zM1668 912h1v1h-1zM1656 913h3v1h-3zM1662 913h1v1h-1zM1650 914h3v1h-3zM1644 915h3v1h-3zM1638 916h3v1h-3zM1632 917h3v1h-3zM1626 918h3v1h-3zM1620 919h3v1h-3zM1614 920h3v1h-3zM1608 921h3v1h-3zM1598 922h1v1h-1zM1602 922h3v1h-3zM1592 923h1v1h-1zM1596 923h2v1h-2zM1585 924h2v1h-2zM1590 924h2v1h-2zM1579 925h2v1h-2zM1584 925h1v1h-1zM1572 926h3v1h-3zM1578 926h1v1h-1zM1566 927h3v1h-3zM1560 928h3v1h-3zM1554 929h3v1h-3zM1548 930h3v1h-3zM1542 931h3v1h-3zM1536 932h3v1h-3zM1530 933h3v1h-3zM1524 934h3v1h-3zM1514 935h1v1h-1zM1518 935h3v1h-3zM1508 936h1v1h-1zM1512 936h2v1h-2zM1501 937h2v1h-2zM1506 937h2v1h-2zM1495 938h2v1h-2zM1500 938h1v1h-1zM1488 939h3v1h-3zM1494 939h1v1h-1zM1482 940h3v1h-3zM1476 941h3v1h-3zM1470 942h3v1h-3zM1464 943h3v1h-3zM1458 944h3v1h-3zM1452 945h3v1h-3zM1446 946h3v1h-3zM1440 947h3v1h-3zM1430 948h1v1h-1zM1434 948h3v1h-3zM1424 949h1v1h-1zM1428 949h2v1h-2zM1417 950h2v1h-2zM1422 950h2v1h-2zM1411 951h2v1h-2zM1416 951h1v1h-1zM1404 952h3v1h-3zM1410 952h1v1h-1zM1398 953h3v1h-3zM1392 954h3v1h-3zM1386 955h3v1h-3zM1380 956h3v1h-3zM1374 957h3v1h-3zM1368 958h3v1h-3zM1362 959h3v1h-3zM1356 960h3v1h-3zM1346 961h1v1h-1zM1350 961h3v1h-3zM1340 962h1v1h-1zM1344 962h2v1h-2zM1333 963h2v1h-2zM1338 963h2v1h-2zM1327 964h2v1h-2zM1332 964h1v1h-1zM1320 965h3v1h-3zM1326 965h1v1h-1zM1314 966h3v1h-3zM1308 967h3v1h-3zM1302 968h3v1h-3zM1296 969h3v1h-3zM1290 970h3v1h-3zM1284 971h3v1h-3zM1278 972h3v1h-3zM1268 973h1v1h-1zM1272 973h3v1h-3zM1262 974h1v1h-1zM1266 974h2v1h-2zM1256 975h1v1h-1zM1260 975h2v1h-2zM1249 976h2v1h-2zM1254 976h2v1h-2zM1243 977h2v1h-2zM1248 977h1v1h-1zM1236 978h3v1h-3zM1242 978h1v1h-1zM1230 979h3v1h-3zM1224 980h3v1h-3zM1218 981h3v1h-3zM1212 982h3v1h-3zM1206 983h3v1h-3zM1200 984h3v1h-3zM1194 985h3v1h-3zM1184 986h1v1h-1zM1188 986h3v1h-3zM1178 987h1v1h-1zM1182 987h2v1h-2zM1172 988h1v1h-1zM1176 988h2v1h-2zM1165 989h2v1h-2zM1170 989h2v1h-2zM1159 990h2v1h-2zM1164 990h1v1h-1zM1152 991h3v1h-3zM1158 991h1v1h-1zM1146 992h3v1h-3zM1140 993h3v1h-3zM1134 994h3v1h-3zM1128 995h3v1h-3zM1122 996h3v1h-3zM1116 997h3v1h-3zM1110 998h3v1h-3zM1100 999h1v1h-1zM1104 999h3v1h-3zM1094 1000h1v1h-1zM1098 1000h2v1h-2zM1088 1001h1v1h-1zM1092 1001h2v1h-2zM1081 1002h2v1h-2zM1086 1002h2v1h-2zM1075 1003h2v1h-2zM1080 1003h1v1h-1zM1068 1004h3v1h-3zM1074 1004h1v1h-1zM1062 1005h3v1h-3zM1056 1006h3v1h-3zM1050 1007h3v1h-3zM1044 1008h3v1h-3zM1038 1009h3v1h-3zM1032 1010h3v1h-3zM1026 1011h3v1h-3zM1016 1012h1v1h-1zM1020 1012h3v1h-3zM1010 1013h1v1h-1zM1014 1013h2v1h-2zM1004 1014h1v1h-1zM1008 1014h2v1h-2zM997 1015h2v1h-2zM1002 1015h2v1h-2zM991 1016h2v1h-2zM996 1016h1v1h-1zM984 1017h3v1h-3zM990 1017h1v1h-1zM978 1018h3v1h-3zM972 1019h3v1h-3zM966 1020h3v1h-3zM960 1021h3v1h-3zM954 1022h3v1h-3zM948 1023h3v1h-3zM942 1024h3v1h-3zM932 1025h1v1h-1zM936 1025h3v1h-3zM926 1026h1v1h-1zM930 1026h2v1h-2zM919 1027h2v1h-2zM924 1027h2v1h-2zM913 1028h2v1h-2zM918 1028h1v1h-1zM907 1029h2v1h-2zM912 1029h1v1h-1zM900 1030h3v1h-3zM906 1030h1v1h-1zM894 1031h3v1h-3zM888 1032h3v1h-3zM882 1033h3v1h-3zM876 1034h3v1h-3zM870 1035h3v1h-3zM864 1036h3v1h-3zM858 1037h3v1h-3zM848 1038h1v1h-1zM852 1038h3v1h-3zM842 1039h1v1h-1zM846 1039h2v1h-2zM835 1040h2v1h-2zM840 1040h2v1h-2zM829 1041h2v1h-2zM834 1041h1v1h-1zM823 1042h2v1h-2zM828 1042h1v1h-1zM816 1043h3v1h-3zM822 1043h1v1h-1zM810 1044h3v1h-3zM804 1045h3v1h-3zM798 1046h3v1h-3zM792 1047h3v1h-3zM786 1048h3v1h-3zM780 1049h3v1h-3zM774 1050h3v1h-3zM764 1051h1v1h-1zM768 1051h3v1h-3zM758 1052h1v1h-1zM762 1052h2v1h-2zM751 1053h2v1h-2zM756 1053h2v1h-2zM745 1054h2v1h-2zM750 1054h1v1h-1zM739 1055h2v1h-2zM744 1055h1v1h-1zM732 1056h3v1h-3zM738 1056h1v1h-1zM726 1057h3v1h-3zM720 1058h3v1h-3zM714 1059h3v1h-3zM708 1060h3v1h-3zM702 1061h3v1h-3zM696 1062h3v1h-3zM690 1063h3v1h-3zM680 1064h1v1h-1zM684 1064h3v1h-3zM674 1065h1v1h-1zM678 1065h2v1h-2zM667 1066h2v1h-2zM672 1066h2v1h-2zM661 1067h2v1h-2zM666 1067h1v1h-1zM655 1068h2v1h-2zM660 1068h1v1h-1zM648 1069h3v1h-3zM654 1069h1v1h-1zM642 1070h3v1h-3zM636 1071h3v1h-3zM630 1072h3v1h-3zM624 1073h3v1h-3zM618 1074h3v1h-3zM613 1075h1v1h-1zM613 1075h2v1h-2zM1187 676v3h1v-3zM1188 664v3h1v-3zM1188 670v3h1v-3zM1189 658v3h1v-3zM1190 647v2h1v-2zM1190 652v3h1v-3zM1191 640v3h1v-3zM1191 646v1h1v-1zM1192 634v3h1v-3zM1193 622v3h1v-3zM1193 628v3h1v-3zM1194 616v3h1v-3zM1195 610v3h1v-3zM1540 556v3h1v-3zM1542 562v3h1v-3zM1544 568v2h1v-2zM1545 570v1h1v-1zM1546 574v2h1v-2zM1547 576v1h1v-1zM1548 580v2h1v-2zM1549 582v1h1v-1zM1550 586v1h1v-1zM1551 587v2h1v-2zM1552 592v1h1v-1zM1553 593v2h1v-2zM1555 598v3h1v-3zM1557 604v3h1v-3zM1559 610v2h1v-2zM1560 612v1h1v-1zM1561 616v2h1v-2zM1562 618v1h1v-1zM1563 622v2h1v-2zM1564 624v1h1v-1zM1565 628v1h1v-1zM1566 629v2h1v-2zM1567 634v1h1v-1zM1568 635v2h1v-2zM1570 640v3h1v-3zM1572 646v3h1v-3zM1574 652v2h1v-2zM1575 654v1h1v-1zM1576 658v2h1v-2zM1577 660v1h1v-1zM1578 664v1h1v-1zM1579 665v2h1v-2zM1580 670v1h1v-1zM1581 671v2h1v-2zM1582 676v1h1v-1zM1583 677v2h1v-2zM1585 682v3h1v-3zM1587 688v3h1v-3zM1589 694v2h1v-2zM1590 696v1h1v-1zM1591 700v2h1v-2zM1592 702v1h1v-1zM1593 706v1h1v-1zM1594 707v2h1v-2zM1595 712v1h1v-1zM1596 713v2h1v-2zM1598 718v3h1v-3zM1600 724v3h1v-3zM1602 730v2h1v-2zM1603 732v1h1v-1zM1604 736v2h1v-2zM1605 738v1h1v-1zM1606 742v2h1v-2zM1607 744v1h1v-1zM1608 748v1h1v-1zM1609 749v2h1v-2zM1610 754v1h1v-1zM1611 755v2h1v-2zM1613 760v3h1v-3zM1615 766v3h1v-3zM1617 772v2h1v-2zM1618 774v1h1v-1zM1619 778v1h1v-1zM1619 778v1h1v-1zM1620 776v2h1v-2zM1622 772v1h1v-1zM1623 770v2h1v-2zM1625 766v1h1v-1zM1626 764v2h1v-2zM1628 760v1h1v-1zM1629 758v2h1v-2zM1631 754v1h1v-1zM1632 752v2h1v-2zM1635 747v2h1v-2zM1636 746v1h1v-1zM1638 741v2h1v-2zM1639 740v1h1v-1zM1641 735v2h1v-2zM1642 734v1h1v-1zM1644 729v2h1v-2zM1645 728v1h1v-1zM1647 724v1h1v-1zM1648 722v2h1v-2zM1650 718v1h1v-1zM1651 716v2h1v-2zM1653 712v1h1v-1zM1654 710v2h1v-2zM1656 706v1h1v-1zM1657 704v2h1v-2zM1659 700v1h1v-1zM1660 699v1h1v-1zM1661 698v1h1v-1zM1663 693v2h1v-2zM1664 692v1h1v-1zM1666 687v2h1v-2zM1667 686v1h1v-1zM1669 681v2h1v-2zM1670 680v1h1v-1zM1672 675v2h1v-2zM1673 674v1h1v-1zM1675 670v1h1v-1zM1676 668v2h1v-2zM1678 664v1h1v-1zM1679 662v2h1v-2zM1681 658v1h1v-1zM1682 656v2h1v-2zM1684 652v1h1v-1zM1685 650v2h1v-2zM1687 646v1h1v-1zM1688 645v1h1v-1zM1689 644v1h1v-1zM1691 639v2h1v-2zM1692 638v1h1v-1zM1694 633v2h1v-2zM1695 632v1h1v-1zM1697 627v2h1v-2zM1698 626v1h1v-1zM1700 621v2h1v-2zM1701 620v1h1v-1zM1703 616v1h1v-1zM1704 614v2h1v-2zM1706 610v1h1v-1zM1707 608v2h1v-2zM1709 604v1h1v-1zM1710 602v2h1v-2zM1712 598v1h1v-1zM1713 596v2h1v-2zM1715 592v1h1v-1zM1716 591v1h1v-1zM1717 590v1h1v-1zM1719 585v2h1v-2zM1720 584v1h1v-1zM1722 579v2h1v-2zM1723 578v1h1v-1zM1725 573v2h1v-2zM1726 572v1h1v-1zM1728 567v2h1v-2zM1729 566v1h1v-1zM1731 562v1h1v-1zM1732 560v2h1v-2zM1734 556v1h1v-1zM1735 554v2h1v-2zM1737 550v1h1v-1zM1738 548v2h1v-2zM1740 544v1h1v-1zM1741 542v2h1v-2zM1744 537v2h1v-2zM1745 536v1h1v-1zM1747 531v2h1v-2zM1748 530v1h1v-1zM1750 525v2h1v-2zM1751 524v1h1v-1zM1753 519v2h1v-2zM1754 518v1h1v-1zM1756 513v2h1v-2zM1757 512v1h1v-1zM1759 508v1h1v-1zM1760 506v2h1v-2zM1762 502v1h1v-1zM1763 500v2h1v-2zM1765 496v1h1v-1zM1766 494v2h1v-2zM1768 490v1h1v-1zM1769 488v2h1v-2zM1772 483v2h1v-2zM1773 482v1h1v-1zM1775 477v2h1v-2zM1776 476v1h1v-1zM1778 471v2h1v-2zM1779 470v1h1v-1zM1781 465v2h1v-2zM1782 464v1h1v-1zM1784 459v2h1v-2zM1785 458v1h1v-1zM1787 454v1h1v-1zM1788 452v2h1v-2zM1790 448v1h1v-1zM1791 446v2h1v-2zM1793 442v1h1v-1zM1794 440v2h1v-2zM1796 436v1h1v-1zM1797 434v2h1v-2zM1800 429v2h1v-2zM1801 428v1h1v-1zM1803 423v2h1v-2zM1804 422v1h1v-1zM1806 417v2h1v-2zM1807 416v1h1v-1zM1809 411v2h1v-2zM1810 410v1h1v-1zM1812 406v1h1v-1zM1813 404v2h1v-2zM1815 400v1h1v-1zM1816 398v2h1v-2zM1818 394v1h1v-1zM1819 392v2h1v-2zM1821 388v1h1v-1zM1822 386v2h1v-2zM1824 382v1h1v-1zM1825 380v2h1v-2zM1828 375v2h1v-2zM1829 374v1h1v-1zM1831 369v2h1v-2zM1832 368v1h1v-1zM1834 363v2h1v-2zM1835 362v1h1v-1zM1837 357v2h1v-2zM1838 356v1h1v-1zM1840 352v1h1v-1zM1841 350v2h1v-2zM1843 346v1h1v-1zM1844 344v2h1v-2zM1846 340v1h1v-1zM1847 338v2h1v-2zM1849 334v1h1v-1zM1850 332v2h1v-2zM1852 328v1h1v-1zM1853 326v2h1v-2zM1856 321v2h1v-2zM1857 320v1h1v-1zM1859 315v2h1v-2zM1860 314v1h1v-1zM1862 309v2h1v-2zM1863 308v1h1v-1zM1865 303v2h1v-2zM1866 302v1h1v-1zM1476 825v2h1v-2zM1477 824v1h1v-1zM1481 820v1h1v-1zM1482 819v1h1v-1zM1483 818v1h1v-1zM1487 814v1h1v-1zM1488 813v1h1v-1zM1489 812v1h1v-1zM1492 808v1h1v-1zM1493 807v1h1v-1zM1494 806v1h1v-1zM1498 802v1h1v-1zM1499 801v1h1v-1zM1500 800v1h1v-1zM1503 796v1h1v-1zM1504 795v1h1v-1zM1505 794v1h1v-1zM1509 790v1h1v-1zM1510 789v1h1v-1zM1511 788v1h1v-1zM1515 783v2h1v-2zM1516 782v1h1v-1zM1520 778v1h1v-1zM1521 777v1h1v-1zM1522 776v1h1v-1zM1526 772v1h1v-1zM1527 771v1h1v-1zM1528 770v1h1v-1zM1531 766v1h1v-1zM1532 765v1h1v-1zM1533 764v1h1v-1zM1537 760v1h1v-1zM1538 759v1h1v-1zM1539 758v1h1v-1zM1542 754v1h1v-1zM1543 753v1h1v-1zM1544 752v1h1v-1zM1548 748v1h1v-1zM1549 747v1h1v-1zM1550 746v1h1v-1zM1554 741v2h1v-2zM1555 740v1h1v-1zM1559 736v1h1v-1zM1560 735v1h1v-1zM1561 734v1h1v-1zM1565 730v1h1v-1zM1566 729v1h1v-1zM1567 728v1h1v-1zM1570 724v1h1v-1zM1571 723v1h1v-1zM1572 722v1h1v-1zM1576 718v1h1v-1zM1577 717v1h1v-1zM1578 716v1h1v-1zM1581 712v1h1v-1zM1582 711v1h1v-1zM1583 710v1h1v-1zM1587 706v1h1v-1zM1588 705v1h1v-1zM1589 704v1h1v-1zM1593 699v2h1v-2zM1594 698v1h1v-1zM1598 694v1h1v-1zM1599 693v1h1v-1zM1600 692v1h1v-1zM1604 688v1h1v-1zM1605 687v1h1v-1zM1606 686v1h1v-1zM1609 682v1h1v-1zM1610 681v1h1v-1zM1611 680v1h1v-1zM1615 676v1h1v-1zM1616 675v1h1v-1zM1617 674v1h1v-1zM1620 670v1h1v-1zM1621 669v1h1v-1zM1622 668v1h1v-1zM1626 664v1h1v-1zM1627 663v1h1v-1zM1628 662v1h1v-1zM1632 657v2h1v-2zM1633 656v1h1v-1zM1637 652v1h1v-1zM1638 651v1h1v-1zM1639 650v1h1v-1zM1643 646v1h1v-1zM1644 645v1h1v-1zM1645 644v1h1v-1zM1648 640v1h1v-1zM1649 639v1h1v-1zM1650 638v1h1v-1zM1654 634v1h1v-1zM1655 633v1h1v-1zM1656 632v1h1v-1zM1659 628v1h1v-1zM1660 627v1h1v-1zM1661 626v1h1v-1zM1665 622v1h1v-1zM1666 621v1h1v-1zM1667 620v1h1v-1zM1671 616v1h1v-1zM1672 614v2h1v-2zM1676 610v1h1v-1zM1677 609v1h1v-1zM1678 608v1h1v-1zM1682 604v1h1v-1zM1683 603v1h1v-1zM1684 602v1h1v-1zM1687 598v1h1v-1zM1688 597v1h1v-1zM1689 596v1h1v-1zM1693 592v1h1v-1zM1694 591v1h1v-1zM1695 590v1h1v-1zM1698 586v1h1v-1zM1699 585v1h1v-1zM1700 584v1h1v-1zM1704 580v1h1v-1zM1705 579v1h1v-1zM1706 578v1h1v-1zM1710 574v1h1v-1zM1711 572v2h1v-2zM1715 568v1h1v-1zM1716 567v1h1v-1zM1717 566v1h1v-1zM1721 562v1h1v-1zM1722 561v1h1v-1zM1723 560v1h1v-1zM1726 556v1h1v-1zM1727 555v1h1v-1zM1728 554v1h1v-1zM1732 550v1h1v-1zM1733 549v1h1v-1zM1734 548v1h1v-1zM1737 544v1h1v-1zM1738 543v1h1v-1zM1739 542v1h1v-1zM1743 538v1h1v-1zM1744 537v1h1v-1zM1745 536v1h1v-1zM1749 532v1h1v-1zM1750 530v2h1v-2zM1754 526v1h1v-1zM1755 525v1h1v-1zM1756 524v1h1v-1zM1760 520v1h1v-1zM1761 519v1h1v-1zM1762 518v1h1v-1zM1765 514v1h1v-1zM1766 513v1h1v-1zM1767 512v1h1v-1zM1771 508v1h1v-1zM1772 507v1h1v-1zM1773 506v1h1v-1zM1776 502v1h1v-1zM1777 501v1h1v-1zM1778 500v1h1v-1zM1782 496v1h1v-1zM1783 495v1h1v-1zM1784 494v1h1v-1zM1788 490v1h1v-1zM1789 487v1h1v-1zM1789 489v1h1v-1zM1793 484v1h1v-1zM1794 483v1h1v-1zM1795 482v1h1v-1zM1799 478v1h1v-1zM1800 477v1h1v-1zM1801 476v1h1v-1zM1804 472v1h1v-1zM1805 471v1h1v-1zM1806 470v1h1v-1zM1810 466v1h1v-1zM1811 464v1h1v-1zM1812 464v1h1v-1zM1815 460v1h1v-1zM1816 459v1h1v-1zM1817 458v1h1v-1zM1821 454v1h1v-1zM1822 453v1h1v-1zM1823 452v1h1v-1zM1827 448v1h1v-1zM1828 446v2h1v-2zM1832 442v1h1v-1zM1833 441v1h1v-1zM1834 440v1h1v-1zM1838 436v1h1v-1zM1839 434v1h1v-1zM1840 434v1h1v-1zM1843 430v1h1v-1zM1844 429v1h1v-1zM1845 428v1h1v-1zM1849 424v1h1v-1zM1850 423v1h1v-1zM1851 422v1h1v-1zM1855 417v2h1v-2zM1856 416v1h1v-1zM1860 411v1h1v-1zM1861 411v1h1v-1zM1862 410v1h1v-1zM1866 406v1h1v-1zM1867 405v1h1v-1zM1868 404v1h1v-1zM1871 400v1h1v-1zM1872 399v1h1v-1zM1873 398v1h1v-1zM1877 394v1h1v-1zM1878 393v1h1v-1zM1879 392v1h1v-1zM1882 388v1h1v-1zM1883 387v1h1v-1zM1884 386v1h1v-1zM1888 382v1h1v-1zM1889 381v1h1v-1zM1890 380v1h1v-1zM1894 375v2h1v-2zM1895 373v1h1v-1zM1899 370v1h1v-1zM1900 369v1h1v-1zM1901 368v1h1v-1zM1905 364v1h1v-1zM1906 363v1h1v-1zM1907 362v1h1v-1zM1910 358v1h1v-1zM1911 357v1h1v-1zM1912 356v1h1v-1zM1916 352v1h1v-1zM1917 351v1h1v-1zM1918 350v1h1v-1zM1921 346v1h1v-1zM1922 345v1h1v-1zM1923 344v1h1v-1zM1927 340v1h1v-1zM1928 339v1h1v-1zM1929 338v1h1v-1zM1933 333v2h1v-2zM1934 332v1h1v-1zM1938 328v1h1v-1zM1939 327v1h1v-1zM1940 326v1h1v-1zM1944 322v1h1v-1zM1945 320v1h1v-1zM1946 320v1h1v-1zM1949 316v1h1v-1zM1950 315v1h1v-1zM1951 314v1h1v-1zM1955 310v1h1v-1zM1956 309v1h1v-1zM1957 308v1h1v-1zM1960 304v1h1v-1zM1961 303v1h1v-1zM1962 302v1h1v-1zM1966 298v1h1v-1zM1967 297v1h1v-1zM1968 296v1h1v-1zM1972 291v2h1v-2zM1973 290v1h1v-1zM1977 286v1h1v-1zM1978 285v1h1v-1zM1979 284v1h1v-1zM1983 280v1h1v-1zM1984 279v1h1v-1zM1985 278v1h1v-1zM1988 274v1h1v-1zM1989 273v1h1v-1zM1990 272v1h1v-1zM1994 268v1h1v-1zM1995 267v1h1v-1zM1996 266v1h1v-1zM1999 262v1h1v-1zM2000 261v1h1v-1zM2001 260v1h1v-1zM2005 256v1h1v-1zM2006 255v1h1v-1zM2007 254v1h1v-1zM2011 250v1h1v-1zM2012 249v1h1v-1zM1703 511h2v1h-2zM1705 512h1v1h-1zM1709 514h2v1h-2zM1711 515h1v1h-1zM1715 516h1v1h-1zM1716 517h2v1h-2zM1721 519h2v1h-2zM1723 520h1v1h-1zM1727 522h3v1h-3zM1733 524h1v1h-1zM1734 525h2v1h-2zM1739 527h2v1h-2zM1741 528h1v1h-1zM1745 530h3v1h-3zM1751 532h1v1h-1zM1752 533h2v1h-2zM1757 535h2v1h-2zM1759 536h1v1h-1zM1763 537h1v1h-1zM1764 538h2v1h-2zM1769 540h1v1h-1zM1770 541h2v1h-2zM1715 602v1h1v-1zM1716 601v1h1v-1zM1717 600v1h1v-1zM1720 596v1h1v-1zM1721 595v1h1v-1zM1722 594v1h1v-1zM1726 590v1h1v-1zM1727 589v1h1v-1zM1728 588v1h1v-1zM1731 584v1h1v-1zM1732 583v1h1v-1zM1733 582v1h1v-1zM1737 578v1h1v-1zM1738 577v1h1v-1zM1739 576v1h1v-1zM1742 572v1h1v-1zM1743 571v1h1v-1zM1744 570v1h1v-1zM1748 566v1h1v-1zM1749 565v1h1v-1zM1750 564v1h1v-1zM1753 560v1h1v-1zM1754 559v1h1v-1zM1755 558v1h1v-1zM1759 554v1h1v-1zM1760 553v1h1v-1zM1761 552v1h1v-1zM1764 548v1h1v-1zM1765 547v1h1v-1zM1766 546v1h1v-1zM1770 542v1h1v-1zM1771 541v1h1v-1zM1715 601v2h1v-2zM1716 600v1h1v-1zM1718 594v3h1v-3zM1720 590v1h1v-1zM1721 588v2h1v-2zM1723 582v3h1v-3zM1725 578v1h1v-1zM1726 576v2h1v-2zM1728 571v2h1v-2zM1729 570v1h1v-1zM1730 566v1h1v-1zM1731 564v2h1v-2zM1733 559v2h1v-2zM1734 558v1h1v-1zM1735 554v1h1v-1zM1736 552v2h1v-2zM1738 547v2h1v-2zM1739 546v1h1v-1zM1740 542v1h1v-1zM1741 540v2h1v-2zM1743 535v2h1v-2zM1744 534v1h1v-1zM1746 528v3h1v-3zM1748 523v2h1v-2zM1749 522v1h1v-1zM1751 516v3h1v-3zM1753 512v1h1v-1zM1754 510v2h1v-2zM1756 505v2h1v-2zM1757 504v1h1v-1zM1758 500v1h1v-1zM1759 498v2h1v-2zM1761 493v2h1v-2zM1762 492v1h1v-1zM1763 488v1h1v-1zM1764 486v2h1v-2zM1766 481v2h1v-2zM1767 480v1h1v-1zM1768 476v1h1v-1zM1769 474v2h1v-2zM1771 472h3v1h-3zM1777 472h3v1h-3zM1783 472h3v1h-3zM1789 472h3v1h-3zM1795 473h3v1h-3zM1801 473h3v1h-3zM1807 473h3v1h-3zM1813 473h2v1h-2zM1815 474h1v1h-1zM1819 474h3v1h-3zM1825 474h3v1h-3zM1831 474h3v1h-3zM1837 475h3v1h-3zM1843 475h1v1h-1zM1868 299v3h1v-3zM1868 305v1h1v-1zM1869 306v2h1v-2zM1869 311v1h1v-1zM1870 312v2h1v-2zM1870 317v1h1v-1zM1871 318v2h1v-2zM1871 323v1h1v-1zM1872 324v2h1v-2zM1872 329v1h1v-1zM1873 330v2h1v-2zM1873 335v1h1v-1zM1874 336v2h1v-2zM1874 341v1h1v-1zM1875 342v2h1v-2zM1875 347v2h1v-2zM1876 349v1h1v-1zM1876 353v2h1v-2zM1877 355v1h1v-1zM1877 359v2h1v-2zM1878 361v1h1v-1zM1878 365v2h1v-2zM1879 367v1h1v-1zM1879 371v2h1v-2zM1880 373v1h1v-1zM1880 377v2h1v-2zM1881 379v1h1v-1zM1881 383v2h1v-2zM1882 385v1h1v-1zM1882 389v2h1v-2zM1883 391v1h1v-1zM1883 395v3h1v-3zM1884 401v3h1v-3zM1885 407v3h1v-3zM1886 413v3h1v-3zM1887 419v3h1v-3zM1888 425v3h1v-3zM1889 431v3h1v-3zM1890 437v3h1v-3zM1891 443v3h1v-3zM1892 449v3h1v-3zM1893 455v3h1v-3zM1894 461v3h1v-3zM1895 467v3h1v-3zM1896 473v3h1v-3zM1897 479v3h1v-3zM1898 485v3h1v-3zM1899 491v3h1v-3zM1900 497v3h1v-3zM1901 503v3h1v-3zM1902 509v3h1v-3zM1903 515v3h1v-3zM1904 521v3h1v-3zM1905 527v3h1v-3zM1906 533v3h1v-3zM1907 539v3h1v-3zM1907 540v2h1v-2zM1908 539v1h1v-1zM1909 535v1h1v-1zM1910 533v2h1v-2zM1911 529v1h1v-1zM1912 527v2h1v-2zM1913 523v1h1v-1zM1914 521v2h1v-2zM1916 515v3h1v-3zM1918 509v3h1v-3zM1920 504v2h1v-2zM1921 503v1h1v-1zM1922 498v2h1v-2zM1923 497v1h1v-1zM1924 493v1h1v-1zM1925 491v2h1v-2zM1926 487v1h1v-1zM1927 485v2h1v-2zM1928 481v1h1v-1zM1929 479v2h1v-2zM1931 473v3h1v-3zM1933 467v3h1v-3zM1935 462v2h1v-2zM1936 461v1h1v-1zM1937 456v2h1v-2zM1938 455v1h1v-1zM1939 451v1h1v-1zM1940 449v2h1v-2zM1941 445v1h1v-1zM1942 443v2h1v-2zM1944 437v3h1v-3zM1946 431v3h1v-3zM1948 426v2h1v-2zM1949 425v1h1v-1zM1950 420v2h1v-2zM1951 419v1h1v-1zM1952 414v2h1v-2zM1953 413v1h1v-1zM1954 409v1h1v-1zM1955 407v2h1v-2zM1956 403v1h1v-1zM1957 401v2h1v-2zM1959 395v3h1v-3zM1961 389v3h1v-3zM1963 384v2h1v-2zM1964 383v1h1v-1zM1965 378v2h1v-2zM1966 377v1h1v-1zM1967 372v2h1v-2zM1968 371v1h1v-1zM1969 367v1h1v-1zM1970 365v2h1v-2zM1971 361v1h1v-1zM1972 359v2h1v-2zM1974 353v3h1v-3zM1976 347v3h1v-3zM1978 342v2h1v-2zM1979 341v1h1v-1zM1980 336v2h1v-2zM1981 335v1h1v-1zM1982 331v1h1v-1zM1983 329v2h1v-2zM1984 325v1h1v-1zM1985 323v2h1v-2zM1986 319v1h1v-1zM1987 317v2h1v-2zM1989 311v3h1v-3zM1991 305v3h1v-3zM1993 300v2h1v-2zM1994 299v1h1v-1zM1995 294v2h1v-2zM1996 293v1h1v-1zM1997 289v1h1v-1zM1998 287v2h1v-2zM1999 283v1h1v-1zM2000 281v2h1v-2zM2001 277v1h1v-1zM2002 275v2h1v-2zM2004 269v3h1v-3zM2006 263v3h1v-3zM2008 258v2h1v-2zM2009 257v1h1v-1zM2010 252v2h1v-2zM2011 251v1h1v-1zM2012 249h3v1h-3zM2018 251h1v1h-1zM2019 252h2v1h-2zM2024 254h1v1h-1zM2025 255h2v1h-2zM2030 257h2v1h-2zM2032 258h1v1h-1zM2036 260h2v1h-2zM2038 261h1v1h-1zM2042 262h1v1h-1zM2043 263h2v1h-2zM2048 265h1v1h-1zM2049 266h2v1h-2zM2054 268h1v1h-1zM2055 269h2v1h-2zM2060 271h2v1h-2zM2062 272h1v1h-1zM2066 274h2v1h-2zM2068 275h1v1h-1zM2072 276h1v1h-1zM2073 277h2v1h-2zM2078 279h1v1h-1zM2079 280h2v1h-2zM2084 282h1v1h-1zM2085 283h2v1h-2zM2090 285h2v1h-2zM2092 286h1v1h-1zM2096 288h2v1h-2zM2098 289h1v1h-1zM2102 290h1v1h-1zM2103 291h2v1h-2zM2108 293h1v1h-1zM2109 294h2v1h-2zM2114 296h1v1h-1zM2115 297h2v1h-2zM2120 299h2v1h-2zM2122 300h1v1h-1zM2126 302h2v1h-2zM2128 303h1v1h-1zM2132 304h1v1h-1zM2133 305h2v1h-2zM2138 307h1v1h-1zM2139 308h2v1h-2zM2144 310h1v1h-1zM2145 311h2v1h-2zM2150 313h2v1h-2zM2152 314h1v1h-1zM2156 316h2v1h-2zM2158 317h1v1h-1zM2162 318h1v1h-1zM2163 319h2v1h-2zM2168 321h1v1h-1zM2169 322h2v1h-2zM2174 324h1v1h-1zM2175 325h2v1h-2zM2180 327h2v1h-2zM2182 328h1v1h-1zM2186 330h2v1h-2zM2188 331h1v1h-1zM2192 332h1v1h-1zM2193 333h2v1h-2zM2198 335h1v1h-1zM2199 336h2v1h-2zM2204 338h1v1h-1zM2205 339h2v1h-2zM2210 341h2v1h-2zM2212 342h1v1h-1zM2216 344h2v1h-2zM2218 345h1v1h-1zM2222 346h1v1h-1zM2223 347h2v1h-2zM2228 349h1v1h-1zM2229 350h2v1h-2zM2234 352h1v1h-1zM2235 353h2v1h-2zM2240 355h2v1h-2zM2242 356h1v1h-1zM2246 358h2v1h-2zM2248 359h1v1h-1zM2252 360h1v1h-1zM2253 361h2v1h-2zM2258 363h1v1h-1zM2259 364h2v1h-2zM2264 366h1v1h-1zM2265 367h2v1h-2zM2270 369h2v1h-2zM2272 370h1v1h-1zM2276 372h2v1h-2zM2278 373h1v1h-1zM2282 374h1v1h-1zM2283 375h2v1h-2zM2288 377h1v1h-1zM2289 378h2v1h-2zM2294 380h1v1h-1zM2295 381h2v1h-2zM2300 383h2v1h-2zM2302 384h1v1h-1zM2306 386h2v1h-2zM2308 387h1v1h-1zM2312 388h1v1h-1zM2313 389h2v1h-2zM2318 391h1v1h-1zM2319 392h2v1h-2zM2324 394h1v1h-1zM2325 395h2v1h-2z"/>
<path fill="#0000ff" d="M204 55h3v1h-3zM202 57v3h1v-3zM206 57v3h1v-3zM1476 824h3v1h-3zM1474 826v3h1v-3zM1478 826v3h1v-3zM1620 776h3v1h-3zM1618 778v3h1v-3zM1622 778v3h1v-3zM1868 299h3v1h-3zM1866 301v3h1v-3zM1870 301v3h1v-3zM1888 422h3v1h-3zM1886 424v3h1v-3zM1890 424v3h1v-3zM1908 541h3v1h-3zM1906 543v3h1v-3zM1910 543v3h1v-3zM1960 395h3v1h-3zM1958 397v3h1v-3zM1962 397v3h1v-3zM2012 249h3v1h-3zM2010 251v3h1v-3zM2014 251v3h1v-3zM1771 471h3v1h-3zM1769 473v3h1v-3zM1773 473v3h1v-3z"/>
</g>
<g fill="#2d5fa0" fill-opacity="0.2">
<path d="M766.6 120.8H1452A171.5 171.5 0 0 1 1623.5 292.3V464.5A171.5 171.5 0 0 1 1452 636H1109V464H1452V293H938V978.5H766.6Z"/>
<path d="M1109 807H1452L1538 978.5H1109Z"/>
</g>
<g shape-rendering="crispEdges">
<rect x="269.5" y="38.5" width="100" height="32" fill="none" stroke="#0000ff"/>
<line x1="370" y1="54.5" x2="380" y2="54.5" stroke="#0000ff"/>
<text x="271" y="65.1" font-size="28.5" fill="#0000ff" textLength="98" lengthAdjust="spacingAndGlyphs">4381.00</text>
<rect x="1373.5" y="233.5" width="100" height="32" fill="none" stroke="#0000ff"/>
<line x1="1474" y1="249.5" x2="1484" y2="249.5" stroke="#0000ff"/>
<text x="1375" y="260.1" font-size="28.5" fill="#0000ff" textLength="98" lengthAdjust="spacingAndGlyphs">4284.20</text>
<rect x="1501.5" y="282.5" width="100" height="32" fill="none" stroke="#0000ff"/>
<line x1="1602" y1="298.5" x2="1612" y2="298.5" stroke="#0000ff"/>
<text x="1503" y="309.1" font-size="28.5" fill="#0000ff" textLength="98" lengthAdjust="spacingAndGlyphs">4260.11</text>
<rect x="1053.5" y="629.5" width="100" height="32" fill="none" stroke="#0000ff"/>
<line x1="1154" y1="645.5" x2="1164" y2="645.5" stroke="#0000ff"/>
<text x="1055" y="656.1" font-size="28.5" fill="#0000ff" textLength="98" lengthAdjust="spacingAndGlyphs">4088.00</text>
<rect x="1317.5" y="806.5" width="100" height="32" fill="none" stroke="#0000ff"/>
<line x1="1418" y1="822.5" x2="1428" y2="822.5" stroke="#0000ff"/>
<text x="1319" y="833.1" font-size="28.5" fill="#0000ff" textLength="98" lengthAdjust="spacingAndGlyphs">4000.24</text>
<rect x="637.5" y="1029.5" width="100" height="32" fill="none" stroke="#0000ff"/>
<line x1="738" y1="1045.5" x2="748" y2="1045.5" stroke="#0000ff"/>
<text x="639" y="1056.1" font-size="28.5" fill="#0000ff" textLength="98" lengthAdjust="spacingAndGlyphs">3889.12</text>
</g>
<g shape-rendering="crispEdges" fill="#000000">
<rect x="2" y="2" width="2324" height="1"/>
<rect x="2" y="2" width="1" height="1074"/>
<rect x="2326" y="2" width="1" height="1075"/>
<rect x="2" y="1076" width="2325" height="1"/>
<rect x="2326" y="28" width="3" height="1"/>
<rect x="2326" y="77" width="3" height="1"/>
<rect x="2326" y="126" width="3" height="1"/>
<rect x="2326" y="175" width="3" height="1"/>
<rect x="2326" y="224" width="3" height="1"/>
<rect x="2326" y="273" width="3" height="1"/>
<rect x="2326" y="322" width="3" height="1"/>
<rect x="2326" y="371" width="3" height="1"/>
<rect x="2326" y="420" width="3" height="1"/>
<rect x="2326" y="469" width="3" height="1"/>
<rect x="2326" y="518" width="3" height="1"/>
<rect x="2326" y="567" width="3" height="1"/>
<rect x="2326" y="616" width="3" height="1"/>
<rect x="2326" y="665" width="3" height="1"/>
<rect x="2326" y="714" width="3" height="1"/>
<rect x="2326" y="763" width="3" height="1"/>
<rect x="2326" y="812" width="3" height="1"/>
<rect x="2326" y="861" width="3" height="1"/>
<rect x="2326" y="910" width="3" height="1"/>
<rect x="2326" y="959" width="3" height="1"/>
<rect x="2326" y="1008" width="3" height="1"/>
<rect x="2326" y="1057" width="3" height="1"/>
<rect x="3" y="1076" width="1" height="4"/>
<rect x="99" y="1076" width="1" height="4"/>
<rect x="195" y="1076" width="1" height="4"/>
<rect x="291" y="1076" width="1" height="4"/>
<rect x="387" y="1076" width="1" height="4"/>
<rect x="483" y="1076" width="1" height="4"/>
<rect x="579" y="1076" width="1" height="4"/>
<rect x="675" y="1076" width="1" height="4"/>
<rect x="771" y="1076" width="1" height="4"/>
<rect x="867" y="1076" width="1" height="4"/>
<rect x="963" y="1076" width="1" height="4"/>
<rect x="1059" y="1076" width="1" height="4"/>
<rect x="1155" y="1076" width="1" height="4"/>
<rect x="1251" y="1076" width="1" height="4"/>
<rect x="1347" y="1076" width="1" height="4"/>
<rect x="1443" y="1076" width="1" height="4"/>
<rect x="1539" y="1076" width="1" height="4"/>
<rect x="1635" y="1076" width="1" height="4"/>
<rect x="1731" y="1076" width="1" height="4"/>
<rect x="1827" y="1076" width="1" height="4"/>
</g>
<g font-size="12.2" fill="#000000" stroke="#000000" stroke-width="0.25">
<text x="2332.8" y="32.9" textLength="46.3" lengthAdjust="spacingAndGlyphs">4393.95</text>
<text x="2332.8" y="81.9" textLength="46.3" lengthAdjust="spacingAndGlyphs">4369.65</text>
<text x="2332.8" y="130.9" textLength="46.3" lengthAdjust="spacingAndGlyphs">4345.35</text>
<text x="2332.8" y="179.9" textLength="46.3" lengthAdjust="spacingAndGlyphs">4321.05</text>
<text x="2332.8" y="228.9" textLength="46.3" lengthAdjust="spacingAndGlyphs">4296.75</text>
<text x="2332.8" y="277.9" textLength="46.3" lengthAdjust="spacingAndGlyphs">4272.45</text>
<text x="2332.8" y="326.9" textLength="46.3" lengthAdjust="spacingAndGlyphs">4248.15</text>
<text x="2332.8" y="375.9" textLength="46.3" lengthAdjust="spacingAndGlyphs">4223.85</text>
<text x="2332.8" y="424.9" textLength="46.3" lengthAdjust="spacingAndGlyphs">4199.55</text>
<text x="2332.8" y="473.9" textLength="46.3" lengthAdjust="spacingAndGlyphs">4175.25</text>
<text x="2332.8" y="522.9" textLength="46.3" lengthAdjust="spacingAndGlyphs">4150.95</text>
<text x="2332.8" y="571.9" textLength="46.3" lengthAdjust="spacingAndGlyphs">4126.65</text>
<text x="2332.8" y="620.9" textLength="46.3" lengthAdjust="spacingAndGlyphs">4102.35</text>
<text x="2332.8" y="669.9" textLength="46.3" lengthAdjust="spacingAndGlyphs">4078.05</text>
<text x="2332.8" y="718.9" textLength="46.3" lengthAdjust="spacingAndGlyphs">4053.75</text>
<text x="2332.8" y="767.9" textLength="46.3" lengthAdjust="spacingAndGlyphs">4029.45</text>
<text x="2332.8" y="816.9" textLength="46.3" lengthAdjust="spacingAndGlyphs">4005.15</text>
<text x="2332.8" y="865.9" textLength="46.3" lengthAdjust="spacingAndGlyphs">3980.85</text>
<text x="2332.8" y="914.9" textLength="46.3" lengthAdjust="spacingAndGlyphs">3956.10</text>
<text x="2332.8" y="963.9" textLength="46.3" lengthAdjust="spacingAndGlyphs">3931.80</text>
<text x="2332.8" y="1012.9" textLength="46.3" lengthAdjust="spacingAndGlyphs">3907.50</text>
<text x="2332.8" y="1061.9" textLength="46.3" lengthAdjust="spacingAndGlyphs">3883.20</text>
<text x="2.4" y="1092" textLength="61.76" lengthAdjust="spacingAndGlyphs">6 Oct 2025</text>
<text x="98.4" y="1092" textLength="65.27" lengthAdjust="spacingAndGlyphs">8 Oct 17:00</text>
<text x="194.4" y="1092" textLength="72.29" lengthAdjust="spacingAndGlyphs">10 Oct 17:00</text>
<text x="290.4" y="1092" textLength="72.29" lengthAdjust="spacingAndGlyphs">14 Oct 17:00</text>
<text x="386.4" y="1092" textLength="72.29" lengthAdjust="spacingAndGlyphs">16 Oct 17:00</text>
<text x="482.4" y="1092" textLength="72.29" lengthAdjust="spacingAndGlyphs">20 Oct 17:00</text>
<text x="578.4" y="1092" textLength="72.29" lengthAdjust="spacingAndGlyphs">22 Oct 17:00</text>
<text x="674.4" y="1092" textLength="72.29" lengthAdjust="spacingAndGlyphs">24 Oct 17:00</text>
<text x="770.4" y="1092" textLength="72.29" lengthAdjust="spacingAndGlyphs">28 Oct 16:00</text>
<text x="866.4" y="1092" textLength="72.29" lengthAdjust="spacingAndGlyphs">30 Oct 16:00</text>
<text x="962.4" y="1092" textLength="68.07" lengthAdjust="spacingAndGlyphs">3 Nov 17:00</text>
<text x="1058.4" y="1092" textLength="68.07" lengthAdjust="spacingAndGlyphs">5 Nov 17:00</text>
<text x="1154.4" y="1092" textLength="68.07" lengthAdjust="spacingAndGlyphs">7 Nov 17:00</text>
<text x="1250.4" y="1092" textLength="74.16" lengthAdjust="spacingAndGlyphs">11 Nov 17:00</text>
<text x="1346.4" y="1092" textLength="75.09" lengthAdjust="spacingAndGlyphs">13 Nov 17:00</text>
<text x="1442.4" y="1092" textLength="75.09" lengthAdjust="spacingAndGlyphs">17 Nov 17:00</text>
<text x="1538.4" y="1092" textLength="75.09" lengthAdjust="spacingAndGlyphs">19 Nov 17:00</text>
<text x="1634.4" y="1092" textLength="75.09" lengthAdjust="spacingAndGlyphs">21 Nov 17:00</text>
<text x="1730.4" y="1092" textLength="75.09" lengthAdjust="spacingAndGlyphs">25 Nov 17:00</text>
<text x="1826.4" y="1092" textLength="75.09" lengthAdjust="spacingAndGlyphs">27 Nov 17:00</text>
<path d="M6 10h9l-4.5 5z"/>
<text y="17"><tspan x="20.7" textLength="64.6" lengthAdjust="spacingAndGlyphs">XAUUSD,H4</tspan> <tspan x="93.9" textLength="45.2" lengthAdjust="spacingAndGlyphs">4189.34</tspan> <tspan x="143.7" textLength="45.2" lengthAdjust="spacingAndGlyphs">4191.72</tspan> <tspan x="193.9" textLength="45.2" lengthAdjust="spacingAndGlyphs">4172.51</tspan> <tspan x="243.9" textLength="45.2" lengthAdjust="spacingAndGlyphs">4185.34</tspan></text>
</g>
<rect x="2328" y="50" width="56" height="14" fill="#ff0000" shape-rendering="crispEdges"/>
<text x="2332.8" y="61.8" font-size="12.2" fill="#ffffff" stroke="#ffffff" stroke-width="0.25" textLength="46.3" lengthAdjust="spacingAndGlyphs">4380.20</text>
<rect x="2328" y="251" width="56" height="14" fill="#ff0000" shape-rendering="crispEdges"/>
<text x="2332.8" y="262.8" font-size="12.2" fill="#ffffff" stroke="#ffffff" stroke-width="0.25" textLength="46.3" lengthAdjust="spacingAndGlyphs">4280.51</text>
<rect x="2328" y="242" width="56" height="14" fill="#ff0000" shape-rendering="crispEdges"/>
<text x="2332.8" y="253.8" font-size="12.2" fill="#ffffff" stroke="#ffffff" stroke-width="0.25" textLength="46.3" lengthAdjust="spacingAndGlyphs">4284.92</text>
<rect x="2328" y="536" width="56" height="14" fill="#ff0000" shape-rendering="crispEdges"/>
<text x="2332.8" y="547.8" font-size="12.2" fill="#ffffff" stroke="#ffffff" stroke-width="0.25" textLength="46.3" lengthAdjust="spacingAndGlyphs">4139.01</text>
<rect x="2328" y="772" width="56" height="14" fill="#ff0000" shape-rendering="crispEdges"/>
<text x="2332.8" y="783.8" font-size="12.2" fill="#ffffff" stroke="#ffffff" stroke-width="0.25" textLength="46.3" lengthAdjust="spacingAndGlyphs">4022.03</text>
<rect x="2328" y="442" width="56" height="14" fill="#000000" shape-rendering="crispEdges"/>
<text x="2332.8" y="453.8" font-size="12.2" fill="#ffffff" stroke="#ffffff" stroke-width="0.25" textLength="46.3" lengthAdjust="spacingAndGlyphs">4185.34</text>
<rect x="2327" y="448" width="1" height="1" fill="#000000" shape-rendering="crispEdges"/>
</svg>
</body></html>
